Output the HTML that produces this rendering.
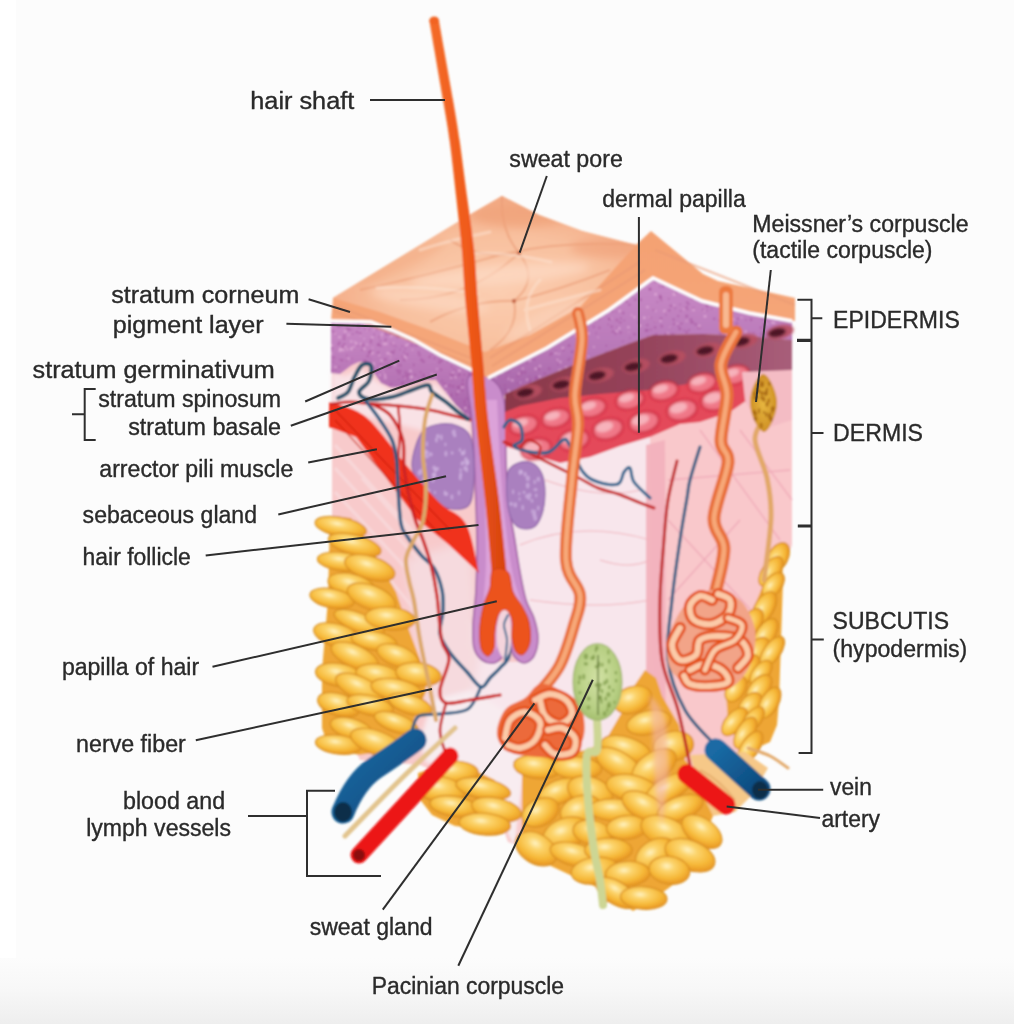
<!DOCTYPE html>
<html><head><meta charset="utf-8"><style>
html,body{margin:0;padding:0;background:#fcfcfc;width:1014px;height:1024px;overflow:hidden}
svg{display:block}
.t text{font-family:"Liberation Sans",sans-serif;font-size:23px;fill:#2a2a2a;stroke:#2a2a2a;stroke-width:0.35px}
.l line,.l path{stroke:#2e2e2e;stroke-width:2;fill:none}
</style></head><body>
<svg width="1014" height="1024" viewBox="0 0 1014 1024">
<defs>
<linearGradient id="bot" x1="0" y1="0" x2="0" y2="1"><stop offset="0" stop-color="#fcfcfc"/><stop offset="0.5" stop-color="#f7f7f7"/><stop offset="1" stop-color="#eeeeee"/></linearGradient>
</defs>
<rect x="0" y="0" width="1014" height="1024" fill="#fcfcfc"/>
<rect x="0" y="0" width="16" height="960" fill="#ffffff"/>
<rect x="0" y="958" width="1014" height="66" fill="url(#bot)"/>

<defs>
<filter id="soft" x="-5%" y="-5%" width="110%" height="110%"><feGaussianBlur stdDeviation="0.9"/></filter>
<filter id="blur1" x="-20%" y="-20%" width="140%" height="140%"><feGaussianBlur stdDeviation="1.3"/></filter>
<filter id="blur2" x="-20%" y="-20%" width="140%" height="140%"><feGaussianBlur stdDeviation="2"/></filter>
<filter id="blur4" x="-20%" y="-20%" width="140%" height="140%"><feGaussianBlur stdDeviation="4"/></filter>
<linearGradient id="peach" x1="0" y1="0" x2="0" y2="1">
 <stop offset="0" stop-color="#f4a070"/><stop offset="1" stop-color="#f5a87c"/>
</linearGradient>
<radialGradient id="topg" cx="0.55" cy="0.62" r="0.62">
 <stop offset="0" stop-color="#fbcdb0"/><stop offset="0.6" stop-color="#f8c09e"/><stop offset="1" stop-color="#f3a882"/>
</radialGradient>
<radialGradient id="lob" cx="0.42" cy="0.36" r="0.62">
 <stop offset="0" stop-color="#fff2c0"/><stop offset="0.3" stop-color="#fcd46c"/><stop offset="0.72" stop-color="#f6b838"/><stop offset="1" stop-color="#ea9a26"/>
</radialGradient>
<linearGradient id="hairg" x1="0" y1="0" x2="1" y2="0">
 <stop offset="0" stop-color="#f46c2a"/><stop offset="0.5" stop-color="#f05a1a"/><stop offset="1" stop-color="#d6420e"/>
</linearGradient>
<linearGradient id="veing" x1="0" y1="0" x2="1" y2="1">
 <stop offset="0" stop-color="#1a6aa4"/><stop offset="1" stop-color="#0c4a7e"/>
</linearGradient>
<radialGradient id="pacg" cx="0.5" cy="0.45" r="0.6">
 <stop offset="0" stop-color="#d2e2a4"/><stop offset="0.7" stop-color="#b6ce82"/><stop offset="1" stop-color="#9cb866"/>
</radialGradient>
<radialGradient id="meig" cx="0.5" cy="0.5" r="0.55">
 <stop offset="0" stop-color="#e8b840"/><stop offset="1" stop-color="#cc8c22"/>
</radialGradient>
<linearGradient id="purL" x1="0" y1="0" x2="0" y2="1"><stop offset="0" stop-color="#c98ac6"/><stop offset="0.5" stop-color="#ba78b8"/><stop offset="1" stop-color="#a662a8"/></linearGradient>
<linearGradient id="purR" x1="0" y1="0" x2="0" y2="1"><stop offset="0" stop-color="#c98ac6"/><stop offset="0.6" stop-color="#b878b8"/><stop offset="1" stop-color="#a462a6"/></linearGradient>
<linearGradient id="darkb" gradientUnits="userSpaceOnUse" x1="505" y1="0" x2="792" y2="0"><stop offset="0" stop-color="#8a3848"/><stop offset="0.5" stop-color="#96445c"/><stop offset="1" stop-color="#a85e7a"/></linearGradient>
<clipPath id="cPL"><path d="M331 321 L371 322 L392 330 L414 340 L440 355 L476 372 L472 420 L467 416 L455 404 L443 389 L436 380 L426 380 L406 386 L392 388 L381 383 L374 373 L368 362 L359 362 L352 365 L340 374 L331 373 Z"/></clipPath>
<clipPath id="cPR"><path d="M488 378 L547 348 L609 310 L653 278 L702 301 L749 313 L792 321 L792 340 L749 336 L703 334 L653 335 L625 345 L578 363 L532 382 L505 394 L503 400 Z"/></clipPath>
<clipPath id="cTop"><path d="M333 298 L471 214 L502 196 L539 215 L582 231 L636 245 L615 268 L580 307 L530 335 L485 352 L430 330 L380 312 Z"/></clipPath>
<clipPath id="cLF"><path d="M330 516 L351 518 L365 538 L376 557 L396 592 L410 633 L424 670 L426 692 L416 714 L410 730 L380 752 L359 755 L338 750 L326 740 L322 728 L322 700 L322 670 L328 600 Z"/></clipPath>
<clipPath id="cSF"><path d="M418 773 L440 766 L470 768 L495 780 L500 800 L499 822 L480 829 L455 826 L432 815 L418 797 Z"/></clipPath>
<clipPath id="cCF"><path d="M522 757 L540 752 L575 752 L586 750 L598 745 L604 743 L622 712 L634 686 L645 670 L656 678 L662 696 L679 725 L685 760 L700 778 L713 800 L713 816 L701 846 L678 881 L654 899 L633 911 L613 897 L605 905 L596 887 L585 882 L551 866 L532 856 L522 847 Z"/></clipPath>
<clipPath id="cRF"><path d="M778 548 L782 556 L783 580 L781 640 L779 700 L777 725 L770 742 L752 750 L740 742 L728 723 L726 692 L738 657 L752 612 L766 578 Z"/></clipPath>
</defs>
<g filter="url(#soft)">
<!-- dermis base -->
<path d="M332 318 L332 520 L330 700 L360 760 L420 765 L480 790 L500 820 L508 842 L520 846 L530 765 L600 748 L700 765 L740 760 L760 740 L770 600 L792 545 L792 298 L651 278 L480 377 Z" fill="#f8cacb"/>
<path d="M332 372 L345 376 L360 368 L375 380 L395 392 L436 384 L470 420 L470 445 L420 430 L380 420 L332 410 Z" fill="#f9e2e6" filter="url(#blur2)"/>
<!-- left face dermis streaks -->
<g stroke="#f9dadc" stroke-width="3" opacity="0.85">
<path d="M335 445 L425 545"/><path d="M335 468 L432 575"/><path d="M335 492 L440 605"/><path d="M362 478 L452 580"/><path d="M385 468 L458 548"/><path d="M340 520 L440 640"/>
</g>
<!-- center lighter dermis -->
<path d="M506 444 L530 452 L560 462 L590 455 L620 444 L650 435 L652 470 L650 660 L630 720 L604 748 L575 755 L524 760 L514 845 L505 825 L480 775 L455 735 L436 700 L445 640 L460 600 L474 630 L478 650 L490 662 L520 662 L537 645 L536 625 L524 600 L512 560 L507 500 Z" fill="#f8e6ec"/>
<path d="M405 560 L470 540 L476 600 L474 640 L480 660 L470 700 L440 720 L425 700 Z" fill="#f6dade" filter="url(#blur4)"/>
<path d="M432 700 L470 690 L520 720 L524 760 L514 845 L505 825 L480 790 L445 770 L425 762 L420 740 Z" fill="#f8ecf0" filter="url(#blur2)"/>
<g stroke="#f2c2ca" stroke-width="1.5" fill="none" opacity="0.9">
<path d="M520 545 Q580 520 650 540"/><path d="M530 600 Q600 610 650 600"/><path d="M545 480 Q600 500 640 490"/><path d="M600 560 Q630 570 650 560"/>
</g>
<!-- right block pink -->
<path d="M650 400 L700 390 L740 380 L792 372 L792 545 L780 545 L760 600 L730 660 L722 700 L735 750 L700 782 L668 790 L652 650 Z" fill="#f9c8cb"/>
<path d="M646 445 L665 440 L666 800 L646 800 Z" fill="#f2b2bd" opacity="0.95"/>
<g stroke="#efaab8" stroke-width="1.3" fill="none">
<path d="M668 480 L790 470"/><path d="M668 520 L760 620"/><path d="M700 430 L780 540"/><path d="M668 600 L740 520"/><path d="M740 430 L792 500"/>
</g>
<!-- fat -->
<path d="M330 516 L351 518 L365 538 L376 557 L396 592 L410 633 L424 670 L426 692 L416 714 L410 730 L380 752 L359 755 L338 750 L326 740 L322 728 L322 700 L322 670 L328 600 Z" fill="#eea634"/>
<g>
<ellipse cx="340.8" cy="527.0" rx="26.1" ry="9.5" transform="rotate(11 340.8 527.0)" fill="url(#lob)" stroke="#d88e24" stroke-width="1.2"/>
<ellipse cx="354.7" cy="545.0" rx="27.1" ry="9.9" transform="rotate(15 354.7 545.0)" fill="url(#lob)" stroke="#d88e24" stroke-width="1.2"/>
<ellipse cx="342.9" cy="561.7" rx="25.6" ry="9.2" transform="rotate(7 342.9 561.7)" fill="url(#lob)" stroke="#d88e24" stroke-width="1.2"/>
<ellipse cx="369.8" cy="567.9" rx="26.0" ry="11.5" transform="rotate(17 369.8 567.9)" fill="url(#lob)" stroke="#d88e24" stroke-width="1.2"/>
<ellipse cx="351.7" cy="585.4" rx="24.2" ry="11.3" transform="rotate(14 351.7 585.4)" fill="url(#lob)" stroke="#d88e24" stroke-width="1.2"/>
<ellipse cx="332.1" cy="598.4" rx="22.5" ry="9.5" transform="rotate(11 332.1 598.4)" fill="url(#lob)" stroke="#d88e24" stroke-width="1.2"/>
<ellipse cx="371.5" cy="597.6" rx="25.5" ry="12.0" transform="rotate(21 371.5 597.6)" fill="url(#lob)" stroke="#d88e24" stroke-width="1.2"/>
<ellipse cx="359.2" cy="622.7" rx="26.7" ry="9.4" transform="rotate(22 359.2 622.7)" fill="url(#lob)" stroke="#d88e24" stroke-width="1.2"/>
<ellipse cx="390.1" cy="618.6" rx="25.0" ry="11.4" transform="rotate(5 390.1 618.6)" fill="url(#lob)" stroke="#d88e24" stroke-width="1.2"/>
<ellipse cx="336.9" cy="635.3" rx="23.9" ry="11.2" transform="rotate(16 336.9 635.3)" fill="url(#lob)" stroke="#d88e24" stroke-width="1.2"/>
<ellipse cx="374.1" cy="640.9" rx="23.2" ry="9.4" transform="rotate(10 374.1 640.9)" fill="url(#lob)" stroke="#d88e24" stroke-width="1.2"/>
<ellipse cx="354.8" cy="656.4" rx="25.3" ry="11.3" transform="rotate(24 354.8 656.4)" fill="url(#lob)" stroke="#d88e24" stroke-width="1.2"/>
<ellipse cx="398.0" cy="656.3" rx="22.2" ry="10.5" transform="rotate(21 398.0 656.3)" fill="url(#lob)" stroke="#d88e24" stroke-width="1.2"/>
<ellipse cx="339.0" cy="675.0" rx="23.7" ry="11.5" transform="rotate(10 339.0 675.0)" fill="url(#lob)" stroke="#d88e24" stroke-width="1.2"/>
<ellipse cx="378.5" cy="675.3" rx="22.8" ry="10.9" transform="rotate(10 378.5 675.3)" fill="url(#lob)" stroke="#d88e24" stroke-width="1.2"/>
<ellipse cx="418.4" cy="674.2" rx="22.8" ry="11.5" transform="rotate(8 418.4 674.2)" fill="url(#lob)" stroke="#d88e24" stroke-width="1.2"/>
<ellipse cx="359.2" cy="687.9" rx="25.5" ry="11.2" transform="rotate(25 359.2 687.9)" fill="url(#lob)" stroke="#d88e24" stroke-width="1.2"/>
<ellipse cx="396.8" cy="689.9" rx="26.2" ry="10.7" transform="rotate(11 396.8 689.9)" fill="url(#lob)" stroke="#d88e24" stroke-width="1.2"/>
<ellipse cx="338.8" cy="704.7" rx="21.8" ry="11.1" transform="rotate(17 338.8 704.7)" fill="url(#lob)" stroke="#d88e24" stroke-width="1.2"/>
<ellipse cx="370.2" cy="705.4" rx="23.8" ry="9.7" transform="rotate(14 370.2 705.4)" fill="url(#lob)" stroke="#d88e24" stroke-width="1.2"/>
<ellipse cx="410.3" cy="704.6" rx="22.5" ry="9.5" transform="rotate(18 410.3 704.6)" fill="url(#lob)" stroke="#d88e24" stroke-width="1.2"/>
<ellipse cx="351.8" cy="728.9" rx="22.2" ry="10.2" transform="rotate(17 351.8 728.9)" fill="url(#lob)" stroke="#d88e24" stroke-width="1.2"/>
<ellipse cx="396.2" cy="723.0" rx="23.0" ry="9.1" transform="rotate(20 396.2 723.0)" fill="url(#lob)" stroke="#d88e24" stroke-width="1.2"/>
<ellipse cx="338.4" cy="744.6" rx="23.0" ry="9.4" transform="rotate(7 338.4 744.6)" fill="url(#lob)" stroke="#d88e24" stroke-width="1.2"/>
<ellipse cx="376.9" cy="742.9" rx="27.7" ry="11.9" transform="rotate(20 376.9 742.9)" fill="url(#lob)" stroke="#d88e24" stroke-width="1.2"/>
</g>
<path d="M418 773 L440 766 L470 768 L495 780 L500 800 L499 822 L480 829 L455 826 L432 815 L418 797 Z" fill="#eea634"/>
<g>
<ellipse cx="454.1" cy="772.1" rx="24.3" ry="11.1" transform="rotate(1 454.1 772.1)" fill="url(#lob)" stroke="#d88e24" stroke-width="1.2"/>
<ellipse cx="440.6" cy="789.6" rx="25.0" ry="12.8" transform="rotate(10 440.6 789.6)" fill="url(#lob)" stroke="#d88e24" stroke-width="1.2"/>
<ellipse cx="483.3" cy="788.7" rx="27.8" ry="10.1" transform="rotate(11 483.3 788.7)" fill="url(#lob)" stroke="#d88e24" stroke-width="1.2"/>
<ellipse cx="454.1" cy="806.4" rx="24.4" ry="10.2" transform="rotate(9 454.1 806.4)" fill="url(#lob)" stroke="#d88e24" stroke-width="1.2"/>
<ellipse cx="496.5" cy="809.5" rx="25.4" ry="11.3" transform="rotate(13 496.5 809.5)" fill="url(#lob)" stroke="#d88e24" stroke-width="1.2"/>
<ellipse cx="484.8" cy="824.1" rx="25.8" ry="10.9" transform="rotate(5 484.8 824.1)" fill="url(#lob)" stroke="#d88e24" stroke-width="1.2"/>
</g>
<path d="M522 757 L540 752 L575 752 L586 750 L598 745 L604 743 L622 712 L634 686 L645 670 L656 678 L662 696 L679 725 L685 760 L700 778 L713 800 L713 816 L701 846 L678 881 L654 899 L633 911 L613 897 L605 905 L596 887 L585 882 L551 866 L532 856 L522 847 Z" fill="#eea634"/>
<g>
<ellipse cx="632.9" cy="699.8" rx="19.4" ry="13.2" transform="rotate(-19 632.9 699.8)" fill="url(#lob)" stroke="#d88e24" stroke-width="1.2"/>
<ellipse cx="648.9" cy="722.6" rx="22.5" ry="11.9" transform="rotate(-12 648.9 722.6)" fill="url(#lob)" stroke="#d88e24" stroke-width="1.2"/>
<ellipse cx="626.2" cy="749.1" rx="25.7" ry="12.0" transform="rotate(17 626.2 749.1)" fill="url(#lob)" stroke="#d88e24" stroke-width="1.2"/>
<ellipse cx="673.4" cy="746.1" rx="20.4" ry="14.8" transform="rotate(-11 673.4 746.1)" fill="url(#lob)" stroke="#d88e24" stroke-width="1.2"/>
<ellipse cx="537.0" cy="767.0" rx="23.5" ry="11.5" transform="rotate(7 537.0 767.0)" fill="url(#lob)" stroke="#d88e24" stroke-width="1.2"/>
<ellipse cx="577.2" cy="768.2" rx="24.6" ry="11.3" transform="rotate(3 577.2 768.2)" fill="url(#lob)" stroke="#d88e24" stroke-width="1.2"/>
<ellipse cx="618.3" cy="764.0" rx="25.1" ry="12.5" transform="rotate(30 618.3 764.0)" fill="url(#lob)" stroke="#d88e24" stroke-width="1.2"/>
<ellipse cx="654.1" cy="766.6" rx="24.7" ry="14.1" transform="rotate(-33 654.1 766.6)" fill="url(#lob)" stroke="#d88e24" stroke-width="1.2"/>
<ellipse cx="559.7" cy="791.5" rx="22.1" ry="11.7" transform="rotate(-22 559.7 791.5)" fill="url(#lob)" stroke="#d88e24" stroke-width="1.2"/>
<ellipse cx="590.1" cy="791.9" rx="23.3" ry="14.8" transform="rotate(19 590.1 791.9)" fill="url(#lob)" stroke="#d88e24" stroke-width="1.2"/>
<ellipse cx="631.9" cy="788.2" rx="26.1" ry="13.2" transform="rotate(12 631.9 788.2)" fill="url(#lob)" stroke="#d88e24" stroke-width="1.2"/>
<ellipse cx="669.2" cy="788.3" rx="26.3" ry="11.3" transform="rotate(-28 669.2 788.3)" fill="url(#lob)" stroke="#d88e24" stroke-width="1.2"/>
<ellipse cx="540.4" cy="812.3" rx="19.4" ry="13.4" transform="rotate(-26 540.4 812.3)" fill="url(#lob)" stroke="#d88e24" stroke-width="1.2"/>
<ellipse cx="580.6" cy="810.2" rx="20.8" ry="14.3" transform="rotate(-20 580.6 810.2)" fill="url(#lob)" stroke="#d88e24" stroke-width="1.2"/>
<ellipse cx="614.9" cy="810.1" rx="26.0" ry="11.1" transform="rotate(3 614.9 810.1)" fill="url(#lob)" stroke="#d88e24" stroke-width="1.2"/>
<ellipse cx="644.4" cy="806.8" rx="24.4" ry="12.6" transform="rotate(28 644.4 806.8)" fill="url(#lob)" stroke="#d88e24" stroke-width="1.2"/>
<ellipse cx="680.2" cy="808.1" rx="23.9" ry="11.7" transform="rotate(-20 680.2 808.1)" fill="url(#lob)" stroke="#d88e24" stroke-width="1.2"/>
<ellipse cx="565.7" cy="833.2" rx="23.7" ry="14.9" transform="rotate(-21 565.7 833.2)" fill="url(#lob)" stroke="#d88e24" stroke-width="1.2"/>
<ellipse cx="592.5" cy="832.8" rx="19.8" ry="12.4" transform="rotate(13 592.5 832.8)" fill="url(#lob)" stroke="#d88e24" stroke-width="1.2"/>
<ellipse cx="627.0" cy="827.5" rx="20.5" ry="11.9" transform="rotate(-5 627.0 827.5)" fill="url(#lob)" stroke="#d88e24" stroke-width="1.2"/>
<ellipse cx="666.0" cy="832.5" rx="26.5" ry="14.9" transform="rotate(24 666.0 832.5)" fill="url(#lob)" stroke="#d88e24" stroke-width="1.2"/>
<ellipse cx="701.8" cy="831.6" rx="22.7" ry="13.1" transform="rotate(35 701.8 831.6)" fill="url(#lob)" stroke="#d88e24" stroke-width="1.2"/>
<ellipse cx="536.2" cy="848.7" rx="22.5" ry="14.8" transform="rotate(31 536.2 848.7)" fill="url(#lob)" stroke="#d88e24" stroke-width="1.2"/>
<ellipse cx="574.8" cy="854.7" rx="25.4" ry="11.2" transform="rotate(15 574.8 854.7)" fill="url(#lob)" stroke="#d88e24" stroke-width="1.2"/>
<ellipse cx="608.4" cy="850.1" rx="23.8" ry="11.9" transform="rotate(-0 608.4 850.1)" fill="url(#lob)" stroke="#d88e24" stroke-width="1.2"/>
<ellipse cx="655.3" cy="854.2" rx="21.4" ry="14.2" transform="rotate(-31 655.3 854.2)" fill="url(#lob)" stroke="#d88e24" stroke-width="1.2"/>
<ellipse cx="690.0" cy="855.2" rx="26.2" ry="14.7" transform="rotate(22 690.0 855.2)" fill="url(#lob)" stroke="#d88e24" stroke-width="1.2"/>
<ellipse cx="595.0" cy="870.7" rx="23.9" ry="13.3" transform="rotate(-7 595.0 870.7)" fill="url(#lob)" stroke="#d88e24" stroke-width="1.2"/>
<ellipse cx="627.7" cy="873.6" rx="22.2" ry="12.3" transform="rotate(-3 627.7 873.6)" fill="url(#lob)" stroke="#d88e24" stroke-width="1.2"/>
<ellipse cx="669.4" cy="870.3" rx="20.5" ry="13.8" transform="rotate(9 669.4 870.3)" fill="url(#lob)" stroke="#d88e24" stroke-width="1.2"/>
<ellipse cx="616.3" cy="892.8" rx="23.1" ry="11.4" transform="rotate(32 616.3 892.8)" fill="url(#lob)" stroke="#d88e24" stroke-width="1.2"/>
<ellipse cx="643.7" cy="897.9" rx="23.3" ry="11.3" transform="rotate(4 643.7 897.9)" fill="url(#lob)" stroke="#d88e24" stroke-width="1.2"/>
</g>
<path d="M650 695 Q660 705 666 720 L669 770 Q666 800 662 825 Q654 800 654 760 Z" fill="#f4b8b8" opacity="0.55" filter="url(#blur2)"/>
<path d="M778 548 L782 556 L783 580 L781 640 L779 700 L777 725 L770 742 L752 750 L740 742 L728 723 L726 692 L738 657 L752 612 L766 578 Z" fill="#eea634"/>
<g>
<ellipse cx="778.2" cy="557.3" rx="15.8" ry="9.7" transform="rotate(-62 778.2 557.3)" fill="url(#lob)" stroke="#d88e24" stroke-width="1.2"/>
<ellipse cx="771.0" cy="571.5" rx="17.1" ry="8.8" transform="rotate(-55 771.0 571.5)" fill="url(#lob)" stroke="#d88e24" stroke-width="1.2"/>
<ellipse cx="773.2" cy="585.1" rx="14.5" ry="8.5" transform="rotate(-52 773.2 585.1)" fill="url(#lob)" stroke="#d88e24" stroke-width="1.2"/>
<ellipse cx="764.4" cy="607.9" rx="17.9" ry="9.6" transform="rotate(-59 764.4 607.9)" fill="url(#lob)" stroke="#d88e24" stroke-width="1.2"/>
<ellipse cx="752.5" cy="621.8" rx="14.4" ry="9.2" transform="rotate(-58 752.5 621.8)" fill="url(#lob)" stroke="#d88e24" stroke-width="1.2"/>
<ellipse cx="765.9" cy="634.0" rx="17.5" ry="9.2" transform="rotate(-57 765.9 634.0)" fill="url(#lob)" stroke="#d88e24" stroke-width="1.2"/>
<ellipse cx="757.0" cy="651.6" rx="16.2" ry="9.7" transform="rotate(-52 757.0 651.6)" fill="url(#lob)" stroke="#d88e24" stroke-width="1.2"/>
<ellipse cx="772.2" cy="651.6" rx="17.7" ry="8.4" transform="rotate(-55 772.2 651.6)" fill="url(#lob)" stroke="#d88e24" stroke-width="1.2"/>
<ellipse cx="746.7" cy="670.3" rx="17.9" ry="9.3" transform="rotate(-53 746.7 670.3)" fill="url(#lob)" stroke="#d88e24" stroke-width="1.2"/>
<ellipse cx="761.0" cy="672.9" rx="14.6" ry="8.1" transform="rotate(-51 761.0 672.9)" fill="url(#lob)" stroke="#d88e24" stroke-width="1.2"/>
<ellipse cx="736.0" cy="689.0" rx="14.3" ry="9.1" transform="rotate(-56 736.0 689.0)" fill="url(#lob)" stroke="#d88e24" stroke-width="1.2"/>
<ellipse cx="759.1" cy="689.1" rx="16.9" ry="9.4" transform="rotate(-51 759.1 689.1)" fill="url(#lob)" stroke="#d88e24" stroke-width="1.2"/>
<ellipse cx="750.3" cy="705.0" rx="14.3" ry="9.3" transform="rotate(-49 750.3 705.0)" fill="url(#lob)" stroke="#d88e24" stroke-width="1.2"/>
<ellipse cx="769.6" cy="702.6" rx="16.9" ry="8.8" transform="rotate(-61 769.6 702.6)" fill="url(#lob)" stroke="#d88e24" stroke-width="1.2"/>
<ellipse cx="734.6" cy="721.6" rx="16.8" ry="9.0" transform="rotate(-49 734.6 721.6)" fill="url(#lob)" stroke="#d88e24" stroke-width="1.2"/>
<ellipse cx="753.2" cy="719.6" rx="15.0" ry="8.0" transform="rotate(-52 753.2 719.6)" fill="url(#lob)" stroke="#d88e24" stroke-width="1.2"/>
<ellipse cx="745.4" cy="732.9" rx="17.5" ry="8.8" transform="rotate(-60 745.4 732.9)" fill="url(#lob)" stroke="#d88e24" stroke-width="1.2"/>
<ellipse cx="750.5" cy="746.9" rx="17.9" ry="8.9" transform="rotate(-56 750.5 746.9)" fill="url(#lob)" stroke="#d88e24" stroke-width="1.2"/>
</g>
<path d="M690 755 L745 752 L768 768 L752 795 L735 812 L713 816 L700 790 Z" fill="#f6c888"/>
<path d="M700 770 Q720 780 735 800" stroke="#e8b070" stroke-width="2" fill="none"/>
<path d="M748.0 748.0 C751.7 749.3 763.3 752.7 770.0 756.0 C776.7 759.3 785.0 766.0 788.0 768.0" fill="none" stroke="#e2a868" stroke-width="3" stroke-linecap="round" stroke-linejoin="round" />
<!-- purple epidermis left -->
<path d="M331 321 L371 322 L392 330 L414 340 L440 355 L476 372 L472 420 L467 416 L455 404 L443 389 L436 380 L426 380 L406 386 L392 388 L381 383 L374 373 L368 362 L359 362 L352 365 L340 374 L331 373 Z" fill="url(#purL)"/>
<g clip-path="url(#cPL)"><circle cx="403.7" cy="376.8" r="1.4" fill="#a04c98" opacity="0.45"/><circle cx="378.1" cy="352.7" r="1.4" fill="#a04c98" opacity="0.45"/><circle cx="402.5" cy="356.7" r="1.1" fill="#a04c98" opacity="0.45"/><circle cx="379.5" cy="337.1" r="1.3" fill="#a04c98" opacity="0.45"/><circle cx="462.4" cy="390.3" r="1.3" fill="#a04c98" opacity="0.45"/><circle cx="380.6" cy="364.2" r="0.9" fill="#a04c98" opacity="0.45"/><circle cx="438.1" cy="350.2" r="1.0" fill="#a04c98" opacity="0.45"/><circle cx="475.2" cy="354.7" r="1.6" fill="#a04c98" opacity="0.45"/><circle cx="421.8" cy="397.6" r="1.3" fill="#a04c98" opacity="0.45"/><circle cx="357.3" cy="392.7" r="1.0" fill="#a04c98" opacity="0.45"/><circle cx="390.9" cy="333.3" r="0.8" fill="#a04c98" opacity="0.45"/><circle cx="385.0" cy="321.4" r="1.1" fill="#a04c98" opacity="0.45"/><circle cx="456.0" cy="421.8" r="1.1" fill="#a04c98" opacity="0.45"/><circle cx="346.9" cy="355.3" r="0.9" fill="#a04c98" opacity="0.45"/><circle cx="363.0" cy="383.4" r="1.3" fill="#a04c98" opacity="0.45"/><circle cx="335.6" cy="369.7" r="1.1" fill="#a04c98" opacity="0.45"/><circle cx="389.5" cy="333.8" r="1.1" fill="#a04c98" opacity="0.45"/><circle cx="346.0" cy="390.0" r="1.3" fill="#a04c98" opacity="0.45"/><circle cx="423.4" cy="361.6" r="1.6" fill="#a04c98" opacity="0.45"/><circle cx="385.2" cy="340.8" r="1.1" fill="#a04c98" opacity="0.45"/><circle cx="465.2" cy="336.1" r="1.4" fill="#a04c98" opacity="0.45"/><circle cx="468.9" cy="406.9" r="1.2" fill="#a04c98" opacity="0.45"/><circle cx="397.2" cy="408.9" r="1.4" fill="#a04c98" opacity="0.45"/><circle cx="449.6" cy="338.2" r="1.3" fill="#a04c98" opacity="0.45"/><circle cx="439.5" cy="344.3" r="1.0" fill="#a04c98" opacity="0.45"/><circle cx="454.7" cy="378.0" r="1.1" fill="#a04c98" opacity="0.45"/><circle cx="402.4" cy="346.2" r="1.0" fill="#a04c98" opacity="0.45"/><circle cx="346.7" cy="361.0" r="0.9" fill="#a04c98" opacity="0.45"/><circle cx="462.8" cy="417.5" r="1.3" fill="#a04c98" opacity="0.45"/><circle cx="344.3" cy="381.1" r="0.9" fill="#a04c98" opacity="0.45"/><circle cx="385.6" cy="333.1" r="1.2" fill="#a04c98" opacity="0.45"/><circle cx="342.1" cy="348.5" r="1.0" fill="#a04c98" opacity="0.45"/><circle cx="399.5" cy="414.9" r="1.3" fill="#a04c98" opacity="0.45"/><circle cx="446.0" cy="394.0" r="1.2" fill="#a04c98" opacity="0.45"/><circle cx="341.0" cy="325.9" r="0.9" fill="#a04c98" opacity="0.45"/><circle cx="406.9" cy="354.6" r="1.5" fill="#a04c98" opacity="0.45"/><circle cx="360.3" cy="333.4" r="1.3" fill="#a04c98" opacity="0.45"/><circle cx="420.2" cy="325.4" r="1.1" fill="#a04c98" opacity="0.45"/><circle cx="396.3" cy="403.9" r="1.4" fill="#a04c98" opacity="0.45"/><circle cx="459.4" cy="374.7" r="1.6" fill="#a04c98" opacity="0.45"/><circle cx="400.1" cy="349.5" r="0.9" fill="#a04c98" opacity="0.45"/><circle cx="453.3" cy="386.3" r="1.3" fill="#a04c98" opacity="0.45"/><circle cx="474.8" cy="384.5" r="1.0" fill="#a04c98" opacity="0.45"/><circle cx="433.2" cy="414.5" r="0.9" fill="#a04c98" opacity="0.45"/><circle cx="469.7" cy="362.5" r="0.9" fill="#a04c98" opacity="0.45"/><circle cx="405.7" cy="399.7" r="1.2" fill="#a04c98" opacity="0.45"/><circle cx="370.6" cy="398.3" r="0.9" fill="#a04c98" opacity="0.45"/><circle cx="429.7" cy="356.9" r="1.3" fill="#a04c98" opacity="0.45"/><circle cx="405.5" cy="348.6" r="1.0" fill="#a04c98" opacity="0.45"/><circle cx="451.6" cy="366.6" r="1.0" fill="#a04c98" opacity="0.45"/><circle cx="418.1" cy="398.3" r="0.9" fill="#a04c98" opacity="0.45"/><circle cx="398.4" cy="335.5" r="1.4" fill="#a04c98" opacity="0.45"/><circle cx="337.7" cy="404.9" r="1.2" fill="#a04c98" opacity="0.45"/><circle cx="406.9" cy="374.8" r="1.0" fill="#a04c98" opacity="0.45"/><circle cx="397.5" cy="337.4" r="1.1" fill="#a04c98" opacity="0.45"/><circle cx="418.6" cy="382.3" r="1.1" fill="#a04c98" opacity="0.45"/><circle cx="421.6" cy="400.0" r="1.4" fill="#a04c98" opacity="0.45"/><circle cx="331.5" cy="371.1" r="0.9" fill="#a04c98" opacity="0.45"/><circle cx="451.4" cy="379.4" r="1.2" fill="#a04c98" opacity="0.45"/><circle cx="420.6" cy="372.1" r="1.0" fill="#a04c98" opacity="0.45"/><circle cx="465.4" cy="325.8" r="0.8" fill="#a04c98" opacity="0.45"/><circle cx="374.2" cy="334.5" r="1.1" fill="#a04c98" opacity="0.45"/><circle cx="421.5" cy="359.8" r="1.6" fill="#a04c98" opacity="0.45"/><circle cx="379.0" cy="415.9" r="1.6" fill="#a04c98" opacity="0.45"/><circle cx="411.6" cy="402.2" r="0.9" fill="#a04c98" opacity="0.45"/><circle cx="468.2" cy="365.1" r="1.1" fill="#a04c98" opacity="0.45"/><circle cx="466.5" cy="360.9" r="0.9" fill="#a04c98" opacity="0.45"/><circle cx="335.0" cy="401.5" r="0.9" fill="#a04c98" opacity="0.45"/><circle cx="424.5" cy="328.9" r="1.5" fill="#a04c98" opacity="0.45"/><circle cx="473.5" cy="357.5" r="1.4" fill="#a04c98" opacity="0.45"/><circle cx="463.0" cy="343.8" r="1.2" fill="#a04c98" opacity="0.45"/><circle cx="477.7" cy="417.1" r="1.3" fill="#a04c98" opacity="0.45"/><circle cx="411.7" cy="322.1" r="1.5" fill="#a04c98" opacity="0.45"/><circle cx="470.1" cy="377.6" r="1.0" fill="#a04c98" opacity="0.45"/><circle cx="349.6" cy="384.8" r="1.4" fill="#a04c98" opacity="0.45"/><circle cx="418.9" cy="405.7" r="0.8" fill="#a04c98" opacity="0.45"/><circle cx="331.9" cy="330.5" r="1.0" fill="#a04c98" opacity="0.45"/><circle cx="338.2" cy="344.6" r="1.0" fill="#a04c98" opacity="0.45"/><circle cx="450.5" cy="373.8" r="1.0" fill="#a04c98" opacity="0.45"/><circle cx="405.5" cy="335.8" r="1.6" fill="#a04c98" opacity="0.45"/><circle cx="344.3" cy="344.3" r="1.3" fill="#a04c98" opacity="0.45"/><circle cx="462.4" cy="386.9" r="0.9" fill="#a04c98" opacity="0.45"/><circle cx="420.5" cy="395.4" r="1.5" fill="#a04c98" opacity="0.45"/><circle cx="424.8" cy="345.5" r="1.5" fill="#a04c98" opacity="0.45"/><circle cx="433.8" cy="411.0" r="1.0" fill="#a04c98" opacity="0.45"/><circle cx="454.0" cy="369.0" r="1.0" fill="#a04c98" opacity="0.45"/><circle cx="368.4" cy="330.1" r="1.5" fill="#a04c98" opacity="0.45"/><circle cx="352.0" cy="384.6" r="1.0" fill="#a04c98" opacity="0.45"/><circle cx="367.8" cy="355.9" r="1.5" fill="#a04c98" opacity="0.45"/><circle cx="340.7" cy="359.8" r="1.1" fill="#a04c98" opacity="0.45"/><circle cx="402.4" cy="383.6" r="1.5" fill="#a04c98" opacity="0.45"/><circle cx="424.4" cy="407.0" r="1.5" fill="#a04c98" opacity="0.45"/><circle cx="450.6" cy="322.6" r="0.9" fill="#a04c98" opacity="0.45"/><circle cx="408.0" cy="340.1" r="1.1" fill="#a04c98" opacity="0.45"/><circle cx="408.9" cy="374.2" r="1.4" fill="#a04c98" opacity="0.45"/><circle cx="444.6" cy="342.2" r="1.3" fill="#a04c98" opacity="0.45"/><circle cx="400.5" cy="365.3" r="1.4" fill="#a04c98" opacity="0.45"/><circle cx="436.0" cy="392.1" r="1.1" fill="#a04c98" opacity="0.45"/><circle cx="343.3" cy="379.6" r="1.0" fill="#a04c98" opacity="0.45"/><circle cx="376.6" cy="330.2" r="0.9" fill="#a04c98" opacity="0.45"/><circle cx="396.3" cy="418.0" r="1.3" fill="#a04c98" opacity="0.45"/><circle cx="368.3" cy="417.0" r="1.0" fill="#a04c98" opacity="0.45"/><circle cx="430.3" cy="327.3" r="1.6" fill="#a04c98" opacity="0.45"/><circle cx="464.9" cy="405.4" r="1.1" fill="#a04c98" opacity="0.45"/><circle cx="397.5" cy="370.6" r="1.5" fill="#a04c98" opacity="0.45"/><circle cx="416.6" cy="345.3" r="1.5" fill="#a04c98" opacity="0.45"/><circle cx="393.0" cy="394.4" r="1.6" fill="#a04c98" opacity="0.45"/><circle cx="444.7" cy="332.7" r="1.5" fill="#a04c98" opacity="0.45"/><circle cx="397.4" cy="421.7" r="1.1" fill="#a04c98" opacity="0.45"/><circle cx="357.0" cy="332.0" r="1.6" fill="#a04c98" opacity="0.45"/><circle cx="394.2" cy="321.4" r="1.2" fill="#a04c98" opacity="0.45"/><circle cx="472.0" cy="341.5" r="1.5" fill="#a04c98" opacity="0.45"/><circle cx="477.5" cy="340.8" r="1.0" fill="#a04c98" opacity="0.45"/><circle cx="352.4" cy="330.1" r="0.8" fill="#a04c98" opacity="0.45"/><circle cx="363.0" cy="401.6" r="1.1" fill="#a04c98" opacity="0.45"/><circle cx="391.5" cy="383.6" r="0.9" fill="#a04c98" opacity="0.45"/><circle cx="445.2" cy="345.6" r="1.2" fill="#a04c98" opacity="0.45"/><circle cx="363.1" cy="346.4" r="0.9" fill="#a04c98" opacity="0.45"/><circle cx="388.7" cy="364.3" r="0.9" fill="#a04c98" opacity="0.45"/><circle cx="453.4" cy="354.0" r="1.3" fill="#a04c98" opacity="0.45"/><circle cx="358.9" cy="324.3" r="1.6" fill="#a04c98" opacity="0.45"/><circle cx="366.2" cy="321.2" r="1.5" fill="#a04c98" opacity="0.45"/><circle cx="393.6" cy="320.6" r="1.3" fill="#a04c98" opacity="0.45"/><circle cx="380.7" cy="418.8" r="1.5" fill="#a04c98" opacity="0.45"/><circle cx="428.3" cy="391.6" r="1.1" fill="#a04c98" opacity="0.45"/><circle cx="465.9" cy="415.1" r="1.0" fill="#a04c98" opacity="0.45"/><circle cx="338.6" cy="326.5" r="1.2" fill="#a04c98" opacity="0.45"/><circle cx="421.9" cy="402.2" r="1.5" fill="#a04c98" opacity="0.45"/><circle cx="387.3" cy="365.3" r="1.1" fill="#a04c98" opacity="0.45"/><circle cx="464.2" cy="342.3" r="0.9" fill="#a04c98" opacity="0.45"/><circle cx="359.9" cy="414.1" r="0.9" fill="#a04c98" opacity="0.45"/><circle cx="477.2" cy="345.4" r="1.1" fill="#a04c98" opacity="0.45"/><circle cx="357.6" cy="419.3" r="0.9" fill="#a04c98" opacity="0.45"/><circle cx="354.7" cy="390.6" r="1.2" fill="#a04c98" opacity="0.45"/><circle cx="388.5" cy="366.4" r="1.5" fill="#a04c98" opacity="0.45"/><circle cx="353.0" cy="376.7" r="1.0" fill="#a04c98" opacity="0.45"/><circle cx="404.1" cy="359.4" r="1.1" fill="#a04c98" opacity="0.45"/><circle cx="376.9" cy="321.3" r="1.0" fill="#a04c98" opacity="0.45"/><circle cx="438.7" cy="359.4" r="0.9" fill="#a04c98" opacity="0.45"/><circle cx="346.7" cy="393.8" r="1.0" fill="#a04c98" opacity="0.45"/><circle cx="469.4" cy="373.4" r="0.9" fill="#a04c98" opacity="0.45"/><circle cx="378.0" cy="383.4" r="1.6" fill="#a04c98" opacity="0.45"/><circle cx="465.8" cy="343.7" r="1.3" fill="#a04c98" opacity="0.45"/><circle cx="415.4" cy="409.9" r="0.9" fill="#a04c98" opacity="0.45"/><circle cx="406.9" cy="379.1" r="1.2" fill="#a04c98" opacity="0.45"/><circle cx="400.4" cy="321.9" r="0.9" fill="#a04c98" opacity="0.45"/><circle cx="471.2" cy="351.3" r="1.6" fill="#a04c98" opacity="0.45"/><circle cx="332.7" cy="320.5" r="1.5" fill="#a04c98" opacity="0.45"/><circle cx="374.4" cy="407.1" r="0.8" fill="#a04c98" opacity="0.45"/><circle cx="420.4" cy="405.1" r="1.0" fill="#a04c98" opacity="0.45"/><circle cx="456.8" cy="394.0" r="1.5" fill="#a04c98" opacity="0.45"/><circle cx="385.9" cy="339.1" r="1.1" fill="#a04c98" opacity="0.45"/><circle cx="378.2" cy="344.5" r="1.5" fill="#a04c98" opacity="0.45"/><circle cx="356.9" cy="384.5" r="1.2" fill="#a04c98" opacity="0.45"/><circle cx="400.2" cy="370.7" r="1.2" fill="#a04c98" opacity="0.45"/><circle cx="470.2" cy="388.7" r="1.4" fill="#a04c98" opacity="0.45"/><circle cx="367.6" cy="372.0" r="1.4" fill="#a04c98" opacity="0.45"/><circle cx="432.8" cy="403.0" r="0.8" fill="#a04c98" opacity="0.45"/><circle cx="345.4" cy="402.6" r="1.1" fill="#a04c98" opacity="0.45"/><circle cx="363.4" cy="364.7" r="0.9" fill="#a04c98" opacity="0.45"/><circle cx="439.4" cy="362.2" r="1.5" fill="#a04c98" opacity="0.45"/><circle cx="400.0" cy="421.4" r="0.8" fill="#a04c98" opacity="0.45"/><circle cx="457.4" cy="330.2" r="1.2" fill="#a04c98" opacity="0.45"/><circle cx="365.7" cy="361.3" r="1.5" fill="#a04c98" opacity="0.45"/><circle cx="364.4" cy="360.8" r="1.2" fill="#a04c98" opacity="0.45"/><circle cx="346.3" cy="373.0" r="1.0" fill="#a04c98" opacity="0.45"/><circle cx="474.9" cy="412.6" r="1.2" fill="#a04c98" opacity="0.45"/><circle cx="468.1" cy="328.8" r="0.8" fill="#a04c98" opacity="0.45"/><circle cx="391.1" cy="411.5" r="1.5" fill="#a04c98" opacity="0.45"/><circle cx="475.7" cy="402.6" r="1.1" fill="#a04c98" opacity="0.45"/><circle cx="444.1" cy="397.1" r="1.2" fill="#a04c98" opacity="0.45"/><circle cx="451.3" cy="395.2" r="0.9" fill="#a04c98" opacity="0.45"/><circle cx="339.3" cy="343.0" r="1.4" fill="#a04c98" opacity="0.45"/><circle cx="391.8" cy="352.3" r="1.4" fill="#a04c98" opacity="0.45"/><circle cx="358.0" cy="345.5" r="0.9" fill="#a04c98" opacity="0.45"/><circle cx="464.2" cy="344.9" r="1.1" fill="#a04c98" opacity="0.45"/><circle cx="412.4" cy="338.8" r="1.5" fill="#a04c98" opacity="0.45"/><circle cx="448.8" cy="330.5" r="0.9" fill="#a04c98" opacity="0.45"/><circle cx="455.0" cy="341.7" r="1.1" fill="#a04c98" opacity="0.45"/><circle cx="455.2" cy="350.4" r="1.2" fill="#a04c98" opacity="0.45"/><circle cx="393.3" cy="393.2" r="1.4" fill="#a04c98" opacity="0.45"/><circle cx="449.2" cy="342.5" r="1.3" fill="#a04c98" opacity="0.45"/><circle cx="358.1" cy="419.0" r="1.0" fill="#a04c98" opacity="0.45"/><circle cx="411.3" cy="344.9" r="1.3" fill="#a04c98" opacity="0.45"/><circle cx="375.4" cy="325.5" r="0.8" fill="#a04c98" opacity="0.45"/><circle cx="435.7" cy="343.9" r="0.9" fill="#a04c98" opacity="0.45"/><circle cx="435.2" cy="403.6" r="1.0" fill="#a04c98" opacity="0.45"/><circle cx="413.7" cy="411.8" r="1.5" fill="#a04c98" opacity="0.45"/><circle cx="399.7" cy="390.5" r="1.3" fill="#a04c98" opacity="0.45"/><circle cx="443.7" cy="415.7" r="1.0" fill="#a04c98" opacity="0.45"/><circle cx="388.3" cy="416.8" r="1.0" fill="#a04c98" opacity="0.45"/><circle cx="373.8" cy="404.4" r="1.1" fill="#a04c98" opacity="0.45"/><circle cx="418.0" cy="327.5" r="1.6" fill="#a04c98" opacity="0.45"/><circle cx="418.4" cy="327.5" r="0.9" fill="#a04c98" opacity="0.45"/><circle cx="345.4" cy="375.8" r="1.4" fill="#a04c98" opacity="0.45"/><circle cx="416.7" cy="396.9" r="1.5" fill="#a04c98" opacity="0.45"/><circle cx="405.7" cy="372.4" r="1.3" fill="#a04c98" opacity="0.45"/><circle cx="434.5" cy="409.5" r="1.3" fill="#a04c98" opacity="0.45"/><circle cx="390.7" cy="386.2" r="1.4" fill="#a04c98" opacity="0.45"/><circle cx="418.7" cy="352.3" r="1.2" fill="#a04c98" opacity="0.45"/><circle cx="409.6" cy="340.0" r="1.5" fill="#a04c98" opacity="0.45"/><circle cx="339.3" cy="408.8" r="1.0" fill="#a04c98" opacity="0.45"/><circle cx="376.9" cy="411.8" r="1.1" fill="#a04c98" opacity="0.45"/><circle cx="418.6" cy="325.2" r="1.2" fill="#a04c98" opacity="0.45"/><circle cx="415.0" cy="374.7" r="1.1" fill="#a04c98" opacity="0.45"/><circle cx="338.3" cy="325.8" r="0.9" fill="#a04c98" opacity="0.45"/><circle cx="441.4" cy="360.7" r="1.5" fill="#a04c98" opacity="0.45"/><circle cx="441.0" cy="369.8" r="1.3" fill="#a04c98" opacity="0.45"/><circle cx="437.7" cy="408.5" r="0.9" fill="#a04c98" opacity="0.45"/><circle cx="395.1" cy="330.0" r="1.4" fill="#a04c98" opacity="0.45"/><circle cx="400.7" cy="403.3" r="0.9" fill="#a04c98" opacity="0.45"/><circle cx="455.9" cy="332.3" r="0.9" fill="#a04c98" opacity="0.45"/><circle cx="371.0" cy="351.7" r="0.9" fill="#a04c98" opacity="0.45"/><circle cx="454.6" cy="418.8" r="1.3" fill="#a04c98" opacity="0.45"/><circle cx="404.3" cy="360.8" r="1.0" fill="#a04c98" opacity="0.45"/><circle cx="399.2" cy="373.2" r="1.4" fill="#a04c98" opacity="0.45"/><circle cx="385.3" cy="359.2" r="1.5" fill="#a04c98" opacity="0.45"/><circle cx="434.9" cy="328.2" r="1.2" fill="#a04c98" opacity="0.45"/><circle cx="380.6" cy="345.8" r="1.2" fill="#a04c98" opacity="0.45"/><circle cx="365.0" cy="374.2" r="0.9" fill="#a04c98" opacity="0.45"/><circle cx="371.0" cy="339.7" r="1.3" fill="#a04c98" opacity="0.45"/><circle cx="362.6" cy="405.5" r="1.0" fill="#a04c98" opacity="0.45"/><circle cx="347.3" cy="329.0" r="1.5" fill="#a04c98" opacity="0.45"/><circle cx="413.8" cy="364.2" r="0.9" fill="#a04c98" opacity="0.45"/><circle cx="433.0" cy="340.8" r="1.5" fill="#a04c98" opacity="0.45"/><circle cx="433.3" cy="381.4" r="1.1" fill="#a04c98" opacity="0.45"/><circle cx="451.7" cy="374.6" r="1.1" fill="#a04c98" opacity="0.45"/><circle cx="423.5" cy="391.3" r="1.5" fill="#a04c98" opacity="0.45"/><circle cx="428.3" cy="390.8" r="1.0" fill="#a04c98" opacity="0.45"/><circle cx="456.8" cy="376.6" r="1.0" fill="#a04c98" opacity="0.45"/><circle cx="462.1" cy="336.2" r="1.3" fill="#a04c98" opacity="0.45"/><circle cx="471.9" cy="417.7" r="1.2" fill="#a04c98" opacity="0.45"/><circle cx="466.7" cy="413.2" r="1.1" fill="#a04c98" opacity="0.45"/><circle cx="349.6" cy="329.4" r="1.5" fill="#a04c98" opacity="0.45"/><circle cx="331.9" cy="369.8" r="1.1" fill="#a04c98" opacity="0.45"/><circle cx="353.4" cy="349.0" r="0.8" fill="#a04c98" opacity="0.45"/><circle cx="371.7" cy="384.6" r="1.0" fill="#a04c98" opacity="0.45"/><circle cx="395.9" cy="335.7" r="1.4" fill="#a04c98" opacity="0.45"/><circle cx="410.7" cy="400.4" r="1.1" fill="#a04c98" opacity="0.45"/><circle cx="348.9" cy="417.0" r="0.9" fill="#a04c98" opacity="0.45"/><circle cx="412.9" cy="395.1" r="1.3" fill="#a04c98" opacity="0.45"/><circle cx="333.6" cy="419.5" r="1.5" fill="#a04c98" opacity="0.45"/><circle cx="353.9" cy="368.5" r="1.4" fill="#a04c98" opacity="0.45"/><circle cx="346.8" cy="348.5" r="1.5" fill="#a04c98" opacity="0.45"/><circle cx="402.7" cy="401.9" r="1.3" fill="#a04c98" opacity="0.45"/><circle cx="432.5" cy="346.4" r="1.4" fill="#a04c98" opacity="0.45"/><circle cx="331.7" cy="347.9" r="1.6" fill="#a04c98" opacity="0.45"/><circle cx="455.5" cy="329.3" r="1.3" fill="#a04c98" opacity="0.45"/><circle cx="475.4" cy="406.4" r="1.5" fill="#a04c98" opacity="0.45"/><circle cx="353.8" cy="398.7" r="1.3" fill="#a04c98" opacity="0.45"/><circle cx="342.9" cy="346.7" r="1.5" fill="#a04c98" opacity="0.45"/><circle cx="352.3" cy="375.9" r="1.0" fill="#a04c98" opacity="0.45"/><circle cx="475.5" cy="396.1" r="1.2" fill="#a04c98" opacity="0.45"/><circle cx="382.9" cy="404.7" r="1.5" fill="#a04c98" opacity="0.45"/><circle cx="451.2" cy="395.0" r="1.2" fill="#a04c98" opacity="0.45"/><circle cx="413.5" cy="345.6" r="1.0" fill="#a04c98" opacity="0.45"/><circle cx="399.0" cy="379.7" r="0.8" fill="#a04c98" opacity="0.45"/><circle cx="396.9" cy="360.6" r="1.5" fill="#a04c98" opacity="0.45"/><circle cx="375.5" cy="394.9" r="1.5" fill="#a04c98" opacity="0.45"/><circle cx="462.5" cy="384.3" r="1.6" fill="#a04c98" opacity="0.45"/><circle cx="476.5" cy="329.2" r="1.0" fill="#a04c98" opacity="0.45"/><circle cx="442.1" cy="381.0" r="1.1" fill="#a04c98" opacity="0.45"/><circle cx="379.9" cy="408.2" r="0.9" fill="#a04c98" opacity="0.45"/><circle cx="477.8" cy="330.8" r="1.2" fill="#a04c98" opacity="0.45"/><circle cx="416.3" cy="421.9" r="1.1" fill="#a04c98" opacity="0.45"/><circle cx="420.8" cy="344.8" r="1.2" fill="#a04c98" opacity="0.45"/><circle cx="358.9" cy="326.6" r="1.3" fill="#a04c98" opacity="0.45"/><circle cx="452.6" cy="375.1" r="1.6" fill="#a04c98" opacity="0.45"/><circle cx="357.9" cy="395.2" r="1.2" fill="#a04c98" opacity="0.45"/><circle cx="426.3" cy="376.8" r="1.2" fill="#a04c98" opacity="0.45"/><circle cx="440.2" cy="400.2" r="1.3" fill="#a04c98" opacity="0.45"/><circle cx="361.1" cy="414.7" r="0.9" fill="#a04c98" opacity="0.45"/><circle cx="346.4" cy="373.0" r="1.1" fill="#a04c98" opacity="0.45"/><circle cx="424.7" cy="326.2" r="1.3" fill="#a04c98" opacity="0.45"/><circle cx="333.7" cy="357.7" r="1.4" fill="#a04c98" opacity="0.45"/><circle cx="369.1" cy="352.7" r="1.3" fill="#a04c98" opacity="0.45"/><circle cx="356.9" cy="378.6" r="0.9" fill="#a04c98" opacity="0.45"/><circle cx="434.6" cy="358.1" r="1.3" fill="#a04c98" opacity="0.45"/><circle cx="462.8" cy="380.3" r="1.3" fill="#a04c98" opacity="0.45"/><circle cx="437.1" cy="420.3" r="0.9" fill="#a04c98" opacity="0.45"/><circle cx="365.0" cy="388.1" r="1.4" fill="#a04c98" opacity="0.45"/><circle cx="333.2" cy="361.7" r="1.0" fill="#a04c98" opacity="0.45"/><circle cx="352.6" cy="376.9" r="1.0" fill="#a04c98" opacity="0.45"/><circle cx="376.9" cy="413.6" r="1.1" fill="#a04c98" opacity="0.45"/><circle cx="414.4" cy="419.1" r="1.4" fill="#a04c98" opacity="0.45"/><circle cx="380.0" cy="341.1" r="1.0" fill="#a04c98" opacity="0.45"/><circle cx="442.1" cy="335.9" r="1.4" fill="#a04c98" opacity="0.45"/><circle cx="444.4" cy="323.2" r="1.5" fill="#a04c98" opacity="0.45"/><circle cx="431.6" cy="328.2" r="0.9" fill="#a04c98" opacity="0.45"/><circle cx="426.4" cy="390.0" r="1.0" fill="#a04c98" opacity="0.45"/><circle cx="448.8" cy="409.0" r="1.0" fill="#a04c98" opacity="0.45"/><circle cx="404.0" cy="352.0" r="1.0" fill="#a04c98" opacity="0.45"/><circle cx="438.0" cy="348.7" r="1.3" fill="#a04c98" opacity="0.45"/><circle cx="408.0" cy="345.9" r="0.9" fill="#a04c98" opacity="0.45"/><circle cx="436.9" cy="414.7" r="1.5" fill="#a04c98" opacity="0.45"/><circle cx="464.4" cy="374.6" r="1.2" fill="#a04c98" opacity="0.45"/><circle cx="423.6" cy="375.3" r="1.5" fill="#a04c98" opacity="0.45"/><circle cx="428.9" cy="330.7" r="0.9" fill="#a04c98" opacity="0.45"/><circle cx="342.2" cy="347.5" r="1.1" fill="#a04c98" opacity="0.45"/><circle cx="424.7" cy="379.5" r="1.3" fill="#a04c98" opacity="0.45"/><circle cx="447.9" cy="361.6" r="1.0" fill="#a04c98" opacity="0.45"/><circle cx="365.0" cy="329.0" r="1.0" fill="#a04c98" opacity="0.45"/><circle cx="342.2" cy="360.3" r="1.3" fill="#a04c98" opacity="0.45"/><circle cx="441.6" cy="343.0" r="1.4" fill="#a04c98" opacity="0.45"/><circle cx="450.5" cy="340.7" r="1.5" fill="#a04c98" opacity="0.45"/><circle cx="414.5" cy="396.4" r="1.6" fill="#a04c98" opacity="0.45"/><circle cx="370.3" cy="350.9" r="1.0" fill="#a04c98" opacity="0.45"/><circle cx="456.3" cy="370.8" r="0.9" fill="#a04c98" opacity="0.45"/><circle cx="352.9" cy="334.0" r="1.1" fill="#a04c98" opacity="0.45"/><circle cx="475.8" cy="417.6" r="1.3" fill="#a04c98" opacity="0.45"/><circle cx="377.2" cy="380.2" r="1.2" fill="#a04c98" opacity="0.45"/><circle cx="351.0" cy="376.3" r="1.1" fill="#a04c98" opacity="0.45"/><circle cx="376.5" cy="387.3" r="1.4" fill="#a04c98" opacity="0.45"/><circle cx="378.6" cy="344.7" r="1.2" fill="#a04c98" opacity="0.45"/><circle cx="458.6" cy="387.2" r="1.6" fill="#a04c98" opacity="0.45"/><circle cx="361.4" cy="345.2" r="0.9" fill="#a04c98" opacity="0.45"/><circle cx="391.0" cy="366.7" r="1.2" fill="#a04c98" opacity="0.45"/><circle cx="411.3" cy="391.3" r="1.6" fill="#a04c98" opacity="0.45"/><circle cx="347.1" cy="408.7" r="1.2" fill="#a04c98" opacity="0.45"/><circle cx="448.8" cy="359.6" r="1.0" fill="#a04c98" opacity="0.45"/><circle cx="424.1" cy="412.4" r="0.9" fill="#a04c98" opacity="0.45"/><circle cx="341.2" cy="413.2" r="1.2" fill="#a04c98" opacity="0.45"/><circle cx="331.1" cy="374.9" r="1.6" fill="#a04c98" opacity="0.45"/><circle cx="403.0" cy="381.9" r="0.9" fill="#a04c98" opacity="0.45"/><circle cx="430.3" cy="375.7" r="1.4" fill="#a04c98" opacity="0.45"/><circle cx="335.3" cy="334.4" r="1.2" fill="#a04c98" opacity="0.45"/><circle cx="407.7" cy="393.0" r="1.0" fill="#a04c98" opacity="0.45"/><circle cx="387.3" cy="415.4" r="1.5" fill="#a04c98" opacity="0.45"/><circle cx="371.3" cy="380.5" r="0.9" fill="#a04c98" opacity="0.45"/><circle cx="415.0" cy="389.7" r="1.5" fill="#a04c98" opacity="0.45"/><circle cx="430.8" cy="349.5" r="1.4" fill="#a04c98" opacity="0.45"/><circle cx="338.7" cy="412.0" r="1.5" fill="#a04c98" opacity="0.45"/><circle cx="457.2" cy="342.2" r="1.4" fill="#a04c98" opacity="0.45"/><circle cx="362.8" cy="344.4" r="1.5" fill="#a04c98" opacity="0.45"/><circle cx="333.7" cy="332.1" r="1.4" fill="#a04c98" opacity="0.45"/><circle cx="430.5" cy="396.4" r="1.0" fill="#a04c98" opacity="0.45"/><circle cx="388.7" cy="414.1" r="1.3" fill="#a04c98" opacity="0.45"/><circle cx="458.5" cy="331.0" r="0.9" fill="#a04c98" opacity="0.45"/><circle cx="391.3" cy="390.4" r="1.5" fill="#a04c98" opacity="0.45"/><circle cx="443.7" cy="334.0" r="0.9" fill="#a04c98" opacity="0.45"/><circle cx="456.0" cy="405.4" r="1.4" fill="#a04c98" opacity="0.45"/><circle cx="451.0" cy="347.3" r="0.9" fill="#a04c98" opacity="0.45"/><circle cx="349.3" cy="368.8" r="1.2" fill="#a04c98" opacity="0.45"/><circle cx="373.6" cy="380.8" r="1.4" fill="#a04c98" opacity="0.45"/><circle cx="459.7" cy="325.5" r="1.1" fill="#a04c98" opacity="0.45"/><circle cx="397.1" cy="420.5" r="1.4" fill="#a04c98" opacity="0.45"/><circle cx="406.5" cy="375.0" r="1.0" fill="#a04c98" opacity="0.45"/><circle cx="348.4" cy="369.8" r="1.5" fill="#a04c98" opacity="0.45"/><circle cx="339.4" cy="418.6" r="0.8" fill="#a04c98" opacity="0.45"/><circle cx="344.3" cy="335.8" r="1.4" fill="#a04c98" opacity="0.45"/><circle cx="364.7" cy="395.4" r="1.5" fill="#a04c98" opacity="0.45"/><circle cx="352.2" cy="368.9" r="0.9" fill="#a04c98" opacity="0.45"/><circle cx="439.9" cy="416.4" r="0.9" fill="#a04c98" opacity="0.45"/><circle cx="355.4" cy="377.9" r="0.9" fill="#a04c98" opacity="0.45"/><circle cx="337.3" cy="383.2" r="0.8" fill="#a04c98" opacity="0.45"/><circle cx="352.3" cy="358.8" r="0.8" fill="#a04c98" opacity="0.45"/><circle cx="390.3" cy="334.8" r="1.5" fill="#a04c98" opacity="0.45"/><circle cx="437.5" cy="396.5" r="1.5" fill="#a04c98" opacity="0.45"/><circle cx="396.9" cy="347.2" r="0.8" fill="#a04c98" opacity="0.45"/><circle cx="422.9" cy="400.2" r="1.1" fill="#a04c98" opacity="0.45"/><circle cx="455.8" cy="353.0" r="1.3" fill="#a04c98" opacity="0.45"/><circle cx="446.2" cy="342.7" r="1.6" fill="#a04c98" opacity="0.45"/><circle cx="376.7" cy="394.8" r="1.2" fill="#a04c98" opacity="0.45"/><circle cx="413.7" cy="365.6" r="1.0" fill="#a04c98" opacity="0.45"/><circle cx="456.2" cy="363.2" r="1.5" fill="#a04c98" opacity="0.45"/><circle cx="392.8" cy="405.9" r="1.3" fill="#a04c98" opacity="0.45"/><circle cx="445.9" cy="420.6" r="1.0" fill="#a04c98" opacity="0.45"/><circle cx="429.1" cy="348.9" r="1.2" fill="#a04c98" opacity="0.45"/><circle cx="370.6" cy="359.0" r="0.8" fill="#a04c98" opacity="0.45"/><circle cx="392.7" cy="332.4" r="0.8" fill="#a04c98" opacity="0.45"/><circle cx="374.5" cy="390.6" r="1.2" fill="#a04c98" opacity="0.45"/><circle cx="464.4" cy="401.5" r="1.3" fill="#a04c98" opacity="0.45"/><circle cx="331.6" cy="397.2" r="0.9" fill="#a04c98" opacity="0.45"/><circle cx="476.7" cy="322.7" r="1.3" fill="#a04c98" opacity="0.45"/><circle cx="458.4" cy="387.3" r="1.4" fill="#a04c98" opacity="0.45"/><circle cx="466.6" cy="398.7" r="1.1" fill="#a04c98" opacity="0.45"/><circle cx="370.9" cy="342.4" r="1.3" fill="#a04c98" opacity="0.45"/><circle cx="419.0" cy="392.5" r="1.3" fill="#a04c98" opacity="0.45"/><circle cx="472.0" cy="421.6" r="1.0" fill="#a04c98" opacity="0.45"/><circle cx="422.4" cy="405.3" r="1.5" fill="#a04c98" opacity="0.45"/><circle cx="472.6" cy="366.5" r="1.0" fill="#a04c98" opacity="0.45"/><circle cx="473.4" cy="327.8" r="0.8" fill="#a04c98" opacity="0.45"/><circle cx="344.2" cy="338.8" r="1.4" fill="#a04c98" opacity="0.45"/><circle cx="468.1" cy="389.6" r="1.1" fill="#a04c98" opacity="0.45"/><circle cx="432.2" cy="354.1" r="1.0" fill="#a04c98" opacity="0.45"/><circle cx="450.0" cy="385.5" r="1.4" fill="#a04c98" opacity="0.45"/><circle cx="399.1" cy="336.3" r="1.6" fill="#a04c98" opacity="0.45"/><circle cx="394.6" cy="350.0" r="0.9" fill="#a04c98" opacity="0.45"/><circle cx="437.0" cy="332.4" r="1.1" fill="#a04c98" opacity="0.45"/><circle cx="469.6" cy="374.7" r="1.6" fill="#a04c98" opacity="0.45"/><circle cx="436.1" cy="323.2" r="1.3" fill="#a04c98" opacity="0.45"/><circle cx="361.0" cy="385.2" r="1.5" fill="#a04c98" opacity="0.45"/><circle cx="408.5" cy="338.7" r="1.4" fill="#a04c98" opacity="0.45"/><circle cx="376.3" cy="320.1" r="1.1" fill="#a04c98" opacity="0.45"/><circle cx="454.8" cy="322.9" r="1.0" fill="#a04c98" opacity="0.45"/><circle cx="392.2" cy="343.9" r="1.6" fill="#a04c98" opacity="0.45"/><circle cx="460.9" cy="333.2" r="1.6" fill="#a04c98" opacity="0.45"/><circle cx="339.2" cy="366.9" r="1.0" fill="#a04c98" opacity="0.45"/><circle cx="398.1" cy="365.4" r="0.8" fill="#a04c98" opacity="0.45"/><circle cx="438.7" cy="337.6" r="1.5" fill="#a04c98" opacity="0.45"/><circle cx="426.0" cy="402.9" r="1.3" fill="#a04c98" opacity="0.45"/><circle cx="386.6" cy="334.5" r="1.3" fill="#a04c98" opacity="0.45"/><circle cx="369.9" cy="352.1" r="1.5" fill="#a04c98" opacity="0.45"/><circle cx="433.1" cy="382.1" r="1.4" fill="#a04c98" opacity="0.45"/><circle cx="435.7" cy="378.0" r="1.0" fill="#a04c98" opacity="0.45"/><circle cx="413.1" cy="403.3" r="1.2" fill="#a04c98" opacity="0.45"/><circle cx="430.2" cy="325.3" r="0.9" fill="#a04c98" opacity="0.45"/><circle cx="406.6" cy="377.3" r="1.5" fill="#a04c98" opacity="0.45"/><circle cx="404.1" cy="337.2" r="1.3" fill="#a04c98" opacity="0.45"/><circle cx="411.2" cy="399.6" r="0.9" fill="#a04c98" opacity="0.45"/><circle cx="339.7" cy="321.4" r="1.4" fill="#a04c98" opacity="0.45"/><circle cx="394.7" cy="345.7" r="1.1" fill="#a04c98" opacity="0.45"/><circle cx="457.8" cy="355.7" r="0.9" fill="#a04c98" opacity="0.45"/><circle cx="444.5" cy="384.1" r="1.5" fill="#a04c98" opacity="0.45"/><circle cx="461.1" cy="420.4" r="1.1" fill="#a04c98" opacity="0.45"/><circle cx="362.3" cy="349.9" r="1.2" fill="#a04c98" opacity="0.45"/><circle cx="393.4" cy="352.4" r="1.5" fill="#a04c98" opacity="0.45"/><circle cx="352.1" cy="363.3" r="0.8" fill="#a04c98" opacity="0.45"/><circle cx="419.5" cy="355.0" r="1.4" fill="#a04c98" opacity="0.45"/><circle cx="365.5" cy="395.3" r="0.8" fill="#a04c98" opacity="0.45"/><circle cx="467.4" cy="337.6" r="1.6" fill="#f0c0e4" opacity="0.5"/><circle cx="366.0" cy="367.4" r="1.5" fill="#f0c0e4" opacity="0.5"/><circle cx="383.3" cy="371.8" r="0.9" fill="#f0c0e4" opacity="0.5"/><circle cx="472.3" cy="420.5" r="0.9" fill="#f0c0e4" opacity="0.5"/><circle cx="349.0" cy="368.2" r="1.2" fill="#f0c0e4" opacity="0.5"/><circle cx="445.0" cy="355.0" r="1.3" fill="#f0c0e4" opacity="0.5"/><circle cx="354.6" cy="341.7" r="0.9" fill="#f0c0e4" opacity="0.5"/><circle cx="411.2" cy="377.4" r="1.3" fill="#f0c0e4" opacity="0.5"/><circle cx="468.5" cy="351.3" r="1.1" fill="#f0c0e4" opacity="0.5"/><circle cx="399.1" cy="416.5" r="1.0" fill="#f0c0e4" opacity="0.5"/><circle cx="373.7" cy="363.5" r="1.4" fill="#f0c0e4" opacity="0.5"/><circle cx="372.1" cy="337.6" r="1.4" fill="#f0c0e4" opacity="0.5"/><circle cx="415.5" cy="379.1" r="0.8" fill="#f0c0e4" opacity="0.5"/><circle cx="367.6" cy="330.4" r="1.1" fill="#f0c0e4" opacity="0.5"/><circle cx="464.1" cy="420.9" r="1.5" fill="#f0c0e4" opacity="0.5"/><circle cx="385.3" cy="377.7" r="1.5" fill="#f0c0e4" opacity="0.5"/><circle cx="381.5" cy="360.7" r="1.4" fill="#f0c0e4" opacity="0.5"/><circle cx="381.4" cy="368.3" r="1.1" fill="#f0c0e4" opacity="0.5"/><circle cx="452.0" cy="372.9" r="0.9" fill="#f0c0e4" opacity="0.5"/><circle cx="333.4" cy="385.5" r="0.9" fill="#f0c0e4" opacity="0.5"/><circle cx="429.4" cy="342.7" r="1.2" fill="#f0c0e4" opacity="0.5"/><circle cx="381.5" cy="386.8" r="0.9" fill="#f0c0e4" opacity="0.5"/><circle cx="391.1" cy="387.0" r="1.0" fill="#f0c0e4" opacity="0.5"/><circle cx="476.7" cy="421.1" r="1.6" fill="#f0c0e4" opacity="0.5"/><circle cx="467.9" cy="416.0" r="1.3" fill="#f0c0e4" opacity="0.5"/><circle cx="454.1" cy="361.4" r="0.9" fill="#f0c0e4" opacity="0.5"/><circle cx="467.0" cy="413.8" r="1.0" fill="#f0c0e4" opacity="0.5"/><circle cx="386.2" cy="343.9" r="1.4" fill="#f0c0e4" opacity="0.5"/><circle cx="355.8" cy="403.0" r="0.8" fill="#f0c0e4" opacity="0.5"/><circle cx="390.3" cy="399.8" r="1.2" fill="#f0c0e4" opacity="0.5"/><circle cx="351.2" cy="323.0" r="1.3" fill="#f0c0e4" opacity="0.5"/><circle cx="342.1" cy="348.7" r="1.3" fill="#f0c0e4" opacity="0.5"/><circle cx="376.4" cy="323.8" r="1.4" fill="#f0c0e4" opacity="0.5"/><circle cx="437.3" cy="382.4" r="0.9" fill="#f0c0e4" opacity="0.5"/><circle cx="402.2" cy="418.3" r="1.2" fill="#f0c0e4" opacity="0.5"/><circle cx="368.4" cy="415.6" r="1.1" fill="#f0c0e4" opacity="0.5"/><circle cx="407.9" cy="336.7" r="1.5" fill="#f0c0e4" opacity="0.5"/><circle cx="431.4" cy="374.2" r="1.2" fill="#f0c0e4" opacity="0.5"/><circle cx="381.0" cy="366.9" r="1.2" fill="#f0c0e4" opacity="0.5"/><circle cx="333.9" cy="392.7" r="1.4" fill="#f0c0e4" opacity="0.5"/><circle cx="335.1" cy="333.8" r="1.4" fill="#f0c0e4" opacity="0.5"/><circle cx="381.9" cy="334.4" r="1.4" fill="#f0c0e4" opacity="0.5"/><circle cx="475.5" cy="356.1" r="1.3" fill="#f0c0e4" opacity="0.5"/><circle cx="411.8" cy="376.7" r="1.3" fill="#f0c0e4" opacity="0.5"/><circle cx="465.4" cy="407.9" r="1.5" fill="#f0c0e4" opacity="0.5"/><circle cx="432.2" cy="397.7" r="1.4" fill="#f0c0e4" opacity="0.5"/><circle cx="440.0" cy="389.9" r="1.4" fill="#f0c0e4" opacity="0.5"/><circle cx="339.6" cy="337.3" r="1.3" fill="#f0c0e4" opacity="0.5"/><circle cx="393.2" cy="343.4" r="1.3" fill="#f0c0e4" opacity="0.5"/><circle cx="360.7" cy="397.2" r="1.1" fill="#f0c0e4" opacity="0.5"/><circle cx="465.7" cy="352.2" r="1.6" fill="#f0c0e4" opacity="0.5"/><circle cx="379.2" cy="399.8" r="0.9" fill="#f0c0e4" opacity="0.5"/><circle cx="405.0" cy="356.4" r="1.5" fill="#f0c0e4" opacity="0.5"/><circle cx="435.7" cy="378.2" r="0.9" fill="#f0c0e4" opacity="0.5"/><circle cx="407.9" cy="344.4" r="0.9" fill="#f0c0e4" opacity="0.5"/><circle cx="434.4" cy="375.7" r="1.6" fill="#f0c0e4" opacity="0.5"/><circle cx="454.9" cy="324.4" r="1.6" fill="#f0c0e4" opacity="0.5"/><circle cx="408.9" cy="421.1" r="1.0" fill="#f0c0e4" opacity="0.5"/><circle cx="399.8" cy="390.9" r="1.0" fill="#f0c0e4" opacity="0.5"/><circle cx="390.7" cy="354.3" r="1.1" fill="#f0c0e4" opacity="0.5"/><circle cx="410.5" cy="371.1" r="1.5" fill="#f0c0e4" opacity="0.5"/><circle cx="367.2" cy="344.6" r="1.0" fill="#f0c0e4" opacity="0.5"/><circle cx="331.6" cy="353.6" r="1.1" fill="#f0c0e4" opacity="0.5"/><circle cx="344.8" cy="372.8" r="0.9" fill="#f0c0e4" opacity="0.5"/><circle cx="447.8" cy="416.1" r="1.3" fill="#f0c0e4" opacity="0.5"/><circle cx="360.5" cy="335.6" r="0.8" fill="#f0c0e4" opacity="0.5"/><circle cx="358.0" cy="406.6" r="1.4" fill="#f0c0e4" opacity="0.5"/><circle cx="457.6" cy="357.4" r="1.2" fill="#f0c0e4" opacity="0.5"/><circle cx="436.0" cy="387.3" r="1.3" fill="#f0c0e4" opacity="0.5"/><circle cx="335.4" cy="421.6" r="1.3" fill="#f0c0e4" opacity="0.5"/><circle cx="372.4" cy="353.2" r="1.4" fill="#f0c0e4" opacity="0.5"/><circle cx="467.0" cy="323.8" r="1.0" fill="#f0c0e4" opacity="0.5"/><circle cx="338.4" cy="385.9" r="1.3" fill="#f0c0e4" opacity="0.5"/><circle cx="422.1" cy="339.4" r="1.1" fill="#f0c0e4" opacity="0.5"/><circle cx="460.3" cy="353.1" r="1.0" fill="#f0c0e4" opacity="0.5"/><circle cx="362.2" cy="401.6" r="1.0" fill="#f0c0e4" opacity="0.5"/><circle cx="435.0" cy="382.5" r="1.5" fill="#f0c0e4" opacity="0.5"/><circle cx="340.0" cy="350.6" r="1.6" fill="#f0c0e4" opacity="0.5"/><circle cx="404.2" cy="328.8" r="0.9" fill="#f0c0e4" opacity="0.5"/><circle cx="358.3" cy="387.3" r="1.1" fill="#f0c0e4" opacity="0.5"/><circle cx="345.3" cy="346.8" r="1.4" fill="#f0c0e4" opacity="0.5"/><circle cx="436.9" cy="368.9" r="1.0" fill="#f0c0e4" opacity="0.5"/><circle cx="345.3" cy="331.3" r="1.5" fill="#f0c0e4" opacity="0.5"/><circle cx="421.1" cy="321.1" r="1.4" fill="#f0c0e4" opacity="0.5"/><circle cx="469.8" cy="360.5" r="1.5" fill="#f0c0e4" opacity="0.5"/><circle cx="379.4" cy="355.3" r="1.1" fill="#f0c0e4" opacity="0.5"/><circle cx="406.3" cy="358.6" r="1.0" fill="#f0c0e4" opacity="0.5"/><circle cx="343.2" cy="350.3" r="1.3" fill="#f0c0e4" opacity="0.5"/><circle cx="458.2" cy="391.6" r="1.2" fill="#f0c0e4" opacity="0.5"/><circle cx="390.8" cy="336.2" r="1.4" fill="#f0c0e4" opacity="0.5"/><circle cx="447.9" cy="355.9" r="1.4" fill="#f0c0e4" opacity="0.5"/><circle cx="454.7" cy="356.0" r="0.8" fill="#f0c0e4" opacity="0.5"/><circle cx="453.6" cy="372.3" r="0.9" fill="#f0c0e4" opacity="0.5"/><circle cx="420.2" cy="384.2" r="1.3" fill="#f0c0e4" opacity="0.5"/><circle cx="426.6" cy="375.6" r="0.8" fill="#f0c0e4" opacity="0.5"/><circle cx="462.4" cy="387.3" r="1.5" fill="#f0c0e4" opacity="0.5"/><circle cx="407.0" cy="389.5" r="1.2" fill="#f0c0e4" opacity="0.5"/><circle cx="440.9" cy="329.2" r="1.1" fill="#f0c0e4" opacity="0.5"/><circle cx="444.6" cy="356.2" r="1.2" fill="#f0c0e4" opacity="0.5"/><circle cx="382.8" cy="398.7" r="0.9" fill="#f0c0e4" opacity="0.5"/><circle cx="374.4" cy="326.5" r="0.9" fill="#f0c0e4" opacity="0.5"/><circle cx="389.2" cy="416.2" r="0.9" fill="#f0c0e4" opacity="0.5"/><circle cx="421.7" cy="395.9" r="1.4" fill="#f0c0e4" opacity="0.5"/><circle cx="336.9" cy="322.7" r="1.4" fill="#f0c0e4" opacity="0.5"/><circle cx="364.0" cy="399.5" r="1.3" fill="#f0c0e4" opacity="0.5"/><circle cx="473.8" cy="360.1" r="1.4" fill="#f0c0e4" opacity="0.5"/><circle cx="353.8" cy="347.2" r="1.1" fill="#f0c0e4" opacity="0.5"/><circle cx="385.2" cy="375.3" r="1.0" fill="#f0c0e4" opacity="0.5"/><circle cx="349.0" cy="368.3" r="1.2" fill="#f0c0e4" opacity="0.5"/><circle cx="451.2" cy="378.3" r="1.2" fill="#f0c0e4" opacity="0.5"/><circle cx="363.6" cy="394.2" r="1.5" fill="#f0c0e4" opacity="0.5"/><circle cx="340.3" cy="348.8" r="1.4" fill="#f0c0e4" opacity="0.5"/><circle cx="367.1" cy="327.1" r="1.0" fill="#f0c0e4" opacity="0.5"/><circle cx="474.9" cy="335.2" r="0.9" fill="#f0c0e4" opacity="0.5"/><circle cx="431.1" cy="335.3" r="1.5" fill="#f0c0e4" opacity="0.5"/><circle cx="371.5" cy="368.5" r="1.2" fill="#f0c0e4" opacity="0.5"/><circle cx="463.3" cy="415.0" r="1.0" fill="#f0c0e4" opacity="0.5"/><circle cx="374.2" cy="329.6" r="0.9" fill="#f0c0e4" opacity="0.5"/><circle cx="456.7" cy="345.1" r="1.2" fill="#f0c0e4" opacity="0.5"/><circle cx="412.5" cy="349.8" r="0.9" fill="#f0c0e4" opacity="0.5"/><circle cx="331.6" cy="345.6" r="1.5" fill="#f0c0e4" opacity="0.5"/><circle cx="364.3" cy="349.0" r="1.5" fill="#f0c0e4" opacity="0.5"/><circle cx="465.1" cy="327.4" r="1.4" fill="#f0c0e4" opacity="0.5"/><circle cx="394.8" cy="364.4" r="1.5" fill="#f0c0e4" opacity="0.5"/><circle cx="332.2" cy="374.1" r="1.5" fill="#f0c0e4" opacity="0.5"/><circle cx="473.0" cy="400.8" r="1.2" fill="#f0c0e4" opacity="0.5"/><circle cx="372.0" cy="418.2" r="0.8" fill="#f0c0e4" opacity="0.5"/><circle cx="347.1" cy="349.1" r="1.6" fill="#f0c0e4" opacity="0.5"/><circle cx="389.1" cy="409.8" r="0.9" fill="#f0c0e4" opacity="0.5"/><circle cx="372.7" cy="347.9" r="0.8" fill="#f0c0e4" opacity="0.5"/><circle cx="445.5" cy="400.2" r="1.3" fill="#f0c0e4" opacity="0.5"/><circle cx="379.5" cy="386.5" r="1.4" fill="#f0c0e4" opacity="0.5"/><circle cx="374.5" cy="365.7" r="0.8" fill="#f0c0e4" opacity="0.5"/><circle cx="465.4" cy="323.2" r="0.9" fill="#f0c0e4" opacity="0.5"/><circle cx="462.0" cy="324.5" r="0.9" fill="#f0c0e4" opacity="0.5"/><circle cx="393.8" cy="421.9" r="1.5" fill="#f0c0e4" opacity="0.5"/><circle cx="362.1" cy="388.3" r="1.0" fill="#f0c0e4" opacity="0.5"/><circle cx="389.9" cy="408.0" r="1.0" fill="#f0c0e4" opacity="0.5"/><circle cx="369.0" cy="412.4" r="1.0" fill="#f0c0e4" opacity="0.5"/><circle cx="343.8" cy="373.8" r="1.1" fill="#f0c0e4" opacity="0.5"/><circle cx="383.9" cy="343.9" r="1.4" fill="#f0c0e4" opacity="0.5"/><circle cx="472.6" cy="338.4" r="0.9" fill="#f0c0e4" opacity="0.5"/><circle cx="341.6" cy="375.5" r="0.9" fill="#f0c0e4" opacity="0.5"/><circle cx="355.0" cy="401.8" r="1.5" fill="#f0c0e4" opacity="0.5"/><circle cx="404.5" cy="413.3" r="1.0" fill="#f0c0e4" opacity="0.5"/><circle cx="431.0" cy="393.1" r="1.3" fill="#f0c0e4" opacity="0.5"/><circle cx="381.1" cy="337.0" r="0.9" fill="#f0c0e4" opacity="0.5"/><circle cx="446.1" cy="392.0" r="1.2" fill="#f0c0e4" opacity="0.5"/><circle cx="444.1" cy="325.6" r="1.5" fill="#f0c0e4" opacity="0.5"/><circle cx="425.3" cy="389.8" r="1.0" fill="#f0c0e4" opacity="0.5"/><circle cx="469.1" cy="350.0" r="1.1" fill="#f0c0e4" opacity="0.5"/><circle cx="477.9" cy="375.4" r="1.4" fill="#f0c0e4" opacity="0.5"/><circle cx="449.7" cy="406.5" r="1.2" fill="#f0c0e4" opacity="0.5"/><circle cx="357.2" cy="376.5" r="1.0" fill="#f0c0e4" opacity="0.5"/><circle cx="405.9" cy="333.0" r="1.6" fill="#f0c0e4" opacity="0.5"/><circle cx="391.2" cy="394.2" r="1.3" fill="#f0c0e4" opacity="0.5"/><circle cx="390.6" cy="357.9" r="0.8" fill="#f0c0e4" opacity="0.5"/><circle cx="456.8" cy="325.9" r="1.0" fill="#f0c0e4" opacity="0.5"/><circle cx="406.6" cy="345.3" r="1.4" fill="#f0c0e4" opacity="0.5"/><circle cx="459.4" cy="370.5" r="1.6" fill="#f0c0e4" opacity="0.5"/><circle cx="360.5" cy="387.5" r="1.6" fill="#f0c0e4" opacity="0.5"/><circle cx="341.3" cy="391.4" r="1.3" fill="#f0c0e4" opacity="0.5"/><circle cx="445.6" cy="385.9" r="1.5" fill="#f0c0e4" opacity="0.5"/><circle cx="374.3" cy="378.8" r="0.8" fill="#f0c0e4" opacity="0.5"/><circle cx="333.5" cy="396.3" r="1.1" fill="#f0c0e4" opacity="0.5"/><circle cx="435.9" cy="332.1" r="1.3" fill="#f0c0e4" opacity="0.5"/><circle cx="475.8" cy="414.9" r="1.3" fill="#f0c0e4" opacity="0.5"/><circle cx="335.5" cy="367.2" r="1.3" fill="#f0c0e4" opacity="0.5"/><circle cx="406.3" cy="399.1" r="1.1" fill="#f0c0e4" opacity="0.5"/><circle cx="447.5" cy="394.9" r="1.3" fill="#f0c0e4" opacity="0.5"/><circle cx="379.8" cy="375.0" r="1.2" fill="#f0c0e4" opacity="0.5"/><circle cx="351.2" cy="341.5" r="1.3" fill="#f0c0e4" opacity="0.5"/><circle cx="366.1" cy="419.4" r="0.9" fill="#f0c0e4" opacity="0.5"/><circle cx="351.8" cy="347.9" r="0.8" fill="#f0c0e4" opacity="0.5"/><circle cx="351.4" cy="349.0" r="1.6" fill="#f0c0e4" opacity="0.5"/><circle cx="384.8" cy="374.7" r="0.9" fill="#f0c0e4" opacity="0.5"/><circle cx="384.6" cy="412.1" r="1.5" fill="#f0c0e4" opacity="0.5"/><circle cx="399.5" cy="397.9" r="1.5" fill="#f0c0e4" opacity="0.5"/><circle cx="387.9" cy="353.3" r="1.5" fill="#f0c0e4" opacity="0.5"/><circle cx="367.1" cy="400.0" r="1.0" fill="#f0c0e4" opacity="0.5"/><circle cx="476.7" cy="419.9" r="1.1" fill="#f0c0e4" opacity="0.5"/><circle cx="346.5" cy="421.7" r="1.3" fill="#f0c0e4" opacity="0.5"/><circle cx="456.5" cy="356.9" r="1.3" fill="#f0c0e4" opacity="0.5"/><circle cx="356.2" cy="343.5" r="1.4" fill="#f0c0e4" opacity="0.5"/><circle cx="360.9" cy="344.1" r="1.4" fill="#f0c0e4" opacity="0.5"/><circle cx="364.9" cy="413.6" r="1.6" fill="#f0c0e4" opacity="0.5"/><circle cx="421.1" cy="403.5" r="1.5" fill="#f0c0e4" opacity="0.5"/><circle cx="348.5" cy="358.6" r="1.2" fill="#f0c0e4" opacity="0.5"/><circle cx="454.1" cy="331.1" r="1.5" fill="#f0c0e4" opacity="0.5"/><circle cx="397.4" cy="401.0" r="1.0" fill="#f0c0e4" opacity="0.5"/><circle cx="364.2" cy="338.7" r="0.9" fill="#f0c0e4" opacity="0.5"/><circle cx="449.0" cy="340.9" r="1.0" fill="#f0c0e4" opacity="0.5"/><circle cx="394.2" cy="326.1" r="1.1" fill="#f0c0e4" opacity="0.5"/><circle cx="422.4" cy="386.7" r="1.4" fill="#f0c0e4" opacity="0.5"/><circle cx="348.6" cy="334.9" r="1.1" fill="#f0c0e4" opacity="0.5"/><circle cx="383.6" cy="408.9" r="0.9" fill="#f0c0e4" opacity="0.5"/><circle cx="406.6" cy="330.0" r="1.3" fill="#f0c0e4" opacity="0.5"/><circle cx="405.4" cy="378.3" r="1.0" fill="#f0c0e4" opacity="0.5"/><circle cx="455.5" cy="377.4" r="1.4" fill="#f0c0e4" opacity="0.5"/><circle cx="392.9" cy="387.7" r="1.1" fill="#f0c0e4" opacity="0.5"/></g>
<!-- purple epidermis right face -->
<path d="M488 378 L547 348 L609 310 L653 278 L702 301 L749 313 L792 321 L792 340 L749 336 L703 334 L653 335 L625 345 L578 363 L532 382 L505 394 L503 400 Z" fill="url(#purR)"/>
<g clip-path="url(#cPR)"><circle cx="623.1" cy="313.1" r="1.5" fill="#a04c98" opacity="0.45"/><circle cx="635.2" cy="287.0" r="1.4" fill="#a04c98" opacity="0.45"/><circle cx="509.2" cy="301.5" r="0.9" fill="#a04c98" opacity="0.45"/><circle cx="679.5" cy="382.2" r="1.3" fill="#a04c98" opacity="0.45"/><circle cx="554.5" cy="382.5" r="1.5" fill="#a04c98" opacity="0.45"/><circle cx="587.1" cy="310.5" r="1.3" fill="#a04c98" opacity="0.45"/><circle cx="785.6" cy="391.0" r="1.5" fill="#a04c98" opacity="0.45"/><circle cx="706.5" cy="304.7" r="1.3" fill="#a04c98" opacity="0.45"/><circle cx="617.8" cy="356.5" r="1.2" fill="#a04c98" opacity="0.45"/><circle cx="549.5" cy="389.1" r="0.8" fill="#a04c98" opacity="0.45"/><circle cx="591.2" cy="317.5" r="1.6" fill="#a04c98" opacity="0.45"/><circle cx="522.2" cy="348.8" r="1.6" fill="#a04c98" opacity="0.45"/><circle cx="674.4" cy="392.9" r="1.1" fill="#a04c98" opacity="0.45"/><circle cx="620.8" cy="322.7" r="1.1" fill="#a04c98" opacity="0.45"/><circle cx="593.1" cy="285.4" r="1.6" fill="#a04c98" opacity="0.45"/><circle cx="711.9" cy="361.5" r="1.2" fill="#a04c98" opacity="0.45"/><circle cx="547.7" cy="304.4" r="1.6" fill="#a04c98" opacity="0.45"/><circle cx="739.8" cy="333.4" r="1.4" fill="#a04c98" opacity="0.45"/><circle cx="781.3" cy="281.3" r="1.1" fill="#a04c98" opacity="0.45"/><circle cx="609.9" cy="319.0" r="1.2" fill="#a04c98" opacity="0.45"/><circle cx="576.8" cy="291.3" r="1.5" fill="#a04c98" opacity="0.45"/><circle cx="616.6" cy="377.0" r="0.9" fill="#a04c98" opacity="0.45"/><circle cx="580.7" cy="338.2" r="0.8" fill="#a04c98" opacity="0.45"/><circle cx="613.6" cy="298.5" r="1.1" fill="#a04c98" opacity="0.45"/><circle cx="576.3" cy="374.1" r="1.2" fill="#a04c98" opacity="0.45"/><circle cx="563.5" cy="350.3" r="1.2" fill="#a04c98" opacity="0.45"/><circle cx="554.5" cy="374.0" r="1.3" fill="#a04c98" opacity="0.45"/><circle cx="489.9" cy="344.2" r="1.1" fill="#a04c98" opacity="0.45"/><circle cx="512.6" cy="398.3" r="1.3" fill="#a04c98" opacity="0.45"/><circle cx="791.9" cy="336.0" r="1.1" fill="#a04c98" opacity="0.45"/><circle cx="534.3" cy="359.7" r="1.2" fill="#a04c98" opacity="0.45"/><circle cx="541.5" cy="381.8" r="1.3" fill="#a04c98" opacity="0.45"/><circle cx="512.4" cy="399.4" r="1.1" fill="#a04c98" opacity="0.45"/><circle cx="770.7" cy="327.8" r="0.8" fill="#a04c98" opacity="0.45"/><circle cx="655.1" cy="327.4" r="1.4" fill="#a04c98" opacity="0.45"/><circle cx="638.6" cy="322.7" r="1.1" fill="#a04c98" opacity="0.45"/><circle cx="634.5" cy="368.1" r="1.4" fill="#a04c98" opacity="0.45"/><circle cx="608.3" cy="293.8" r="0.8" fill="#a04c98" opacity="0.45"/><circle cx="670.9" cy="305.7" r="1.5" fill="#a04c98" opacity="0.45"/><circle cx="616.5" cy="396.7" r="0.9" fill="#a04c98" opacity="0.45"/><circle cx="743.3" cy="290.9" r="1.0" fill="#a04c98" opacity="0.45"/><circle cx="612.3" cy="311.4" r="1.2" fill="#a04c98" opacity="0.45"/><circle cx="641.6" cy="353.8" r="0.8" fill="#a04c98" opacity="0.45"/><circle cx="673.9" cy="324.0" r="1.3" fill="#a04c98" opacity="0.45"/><circle cx="578.5" cy="379.0" r="1.0" fill="#a04c98" opacity="0.45"/><circle cx="512.3" cy="367.2" r="1.3" fill="#a04c98" opacity="0.45"/><circle cx="542.7" cy="318.9" r="1.1" fill="#a04c98" opacity="0.45"/><circle cx="547.8" cy="346.2" r="1.1" fill="#a04c98" opacity="0.45"/><circle cx="664.3" cy="372.7" r="0.9" fill="#a04c98" opacity="0.45"/><circle cx="568.4" cy="359.9" r="1.3" fill="#a04c98" opacity="0.45"/><circle cx="707.3" cy="310.5" r="1.0" fill="#a04c98" opacity="0.45"/><circle cx="500.6" cy="314.8" r="1.0" fill="#a04c98" opacity="0.45"/><circle cx="714.3" cy="318.9" r="1.4" fill="#a04c98" opacity="0.45"/><circle cx="521.8" cy="312.3" r="1.1" fill="#a04c98" opacity="0.45"/><circle cx="557.6" cy="336.2" r="1.6" fill="#a04c98" opacity="0.45"/><circle cx="626.7" cy="301.4" r="1.3" fill="#a04c98" opacity="0.45"/><circle cx="648.1" cy="380.4" r="0.9" fill="#a04c98" opacity="0.45"/><circle cx="711.9" cy="351.5" r="1.0" fill="#a04c98" opacity="0.45"/><circle cx="599.6" cy="287.7" r="1.5" fill="#a04c98" opacity="0.45"/><circle cx="577.5" cy="329.1" r="1.3" fill="#a04c98" opacity="0.45"/><circle cx="714.8" cy="352.4" r="1.1" fill="#a04c98" opacity="0.45"/><circle cx="684.2" cy="342.8" r="1.1" fill="#a04c98" opacity="0.45"/><circle cx="741.8" cy="294.6" r="0.9" fill="#a04c98" opacity="0.45"/><circle cx="630.1" cy="338.0" r="0.9" fill="#a04c98" opacity="0.45"/><circle cx="714.9" cy="395.8" r="1.3" fill="#a04c98" opacity="0.45"/><circle cx="665.3" cy="312.0" r="0.9" fill="#a04c98" opacity="0.45"/><circle cx="590.6" cy="366.7" r="1.5" fill="#a04c98" opacity="0.45"/><circle cx="599.9" cy="319.0" r="1.1" fill="#a04c98" opacity="0.45"/><circle cx="653.5" cy="310.1" r="1.2" fill="#a04c98" opacity="0.45"/><circle cx="740.5" cy="296.7" r="1.3" fill="#a04c98" opacity="0.45"/><circle cx="573.5" cy="301.2" r="1.1" fill="#a04c98" opacity="0.45"/><circle cx="679.6" cy="328.7" r="1.1" fill="#a04c98" opacity="0.45"/><circle cx="679.1" cy="338.9" r="1.5" fill="#a04c98" opacity="0.45"/><circle cx="786.1" cy="391.8" r="1.3" fill="#a04c98" opacity="0.45"/><circle cx="534.0" cy="330.1" r="1.0" fill="#a04c98" opacity="0.45"/><circle cx="650.1" cy="289.2" r="1.5" fill="#a04c98" opacity="0.45"/><circle cx="564.1" cy="309.4" r="1.5" fill="#a04c98" opacity="0.45"/><circle cx="615.1" cy="280.6" r="0.9" fill="#a04c98" opacity="0.45"/><circle cx="679.1" cy="276.9" r="1.4" fill="#a04c98" opacity="0.45"/><circle cx="520.1" cy="286.2" r="1.2" fill="#a04c98" opacity="0.45"/><circle cx="539.1" cy="277.4" r="1.2" fill="#a04c98" opacity="0.45"/><circle cx="535.7" cy="329.9" r="1.6" fill="#a04c98" opacity="0.45"/><circle cx="747.6" cy="387.2" r="1.2" fill="#a04c98" opacity="0.45"/><circle cx="679.9" cy="328.8" r="1.4" fill="#a04c98" opacity="0.45"/><circle cx="785.3" cy="284.4" r="0.8" fill="#a04c98" opacity="0.45"/><circle cx="626.2" cy="350.3" r="1.3" fill="#a04c98" opacity="0.45"/><circle cx="548.3" cy="295.6" r="1.1" fill="#a04c98" opacity="0.45"/><circle cx="734.8" cy="327.2" r="1.4" fill="#a04c98" opacity="0.45"/><circle cx="629.7" cy="378.6" r="0.9" fill="#a04c98" opacity="0.45"/><circle cx="684.2" cy="308.7" r="1.1" fill="#a04c98" opacity="0.45"/><circle cx="505.6" cy="362.3" r="1.2" fill="#a04c98" opacity="0.45"/><circle cx="684.2" cy="330.3" r="0.9" fill="#a04c98" opacity="0.45"/><circle cx="697.5" cy="277.6" r="1.0" fill="#a04c98" opacity="0.45"/><circle cx="616.5" cy="373.9" r="1.2" fill="#a04c98" opacity="0.45"/><circle cx="682.4" cy="390.3" r="1.5" fill="#a04c98" opacity="0.45"/><circle cx="541.0" cy="322.9" r="0.9" fill="#a04c98" opacity="0.45"/><circle cx="743.8" cy="344.6" r="1.3" fill="#a04c98" opacity="0.45"/><circle cx="525.1" cy="327.3" r="1.0" fill="#a04c98" opacity="0.45"/><circle cx="787.6" cy="316.4" r="1.6" fill="#a04c98" opacity="0.45"/><circle cx="557.7" cy="364.4" r="1.0" fill="#a04c98" opacity="0.45"/><circle cx="567.3" cy="312.6" r="1.6" fill="#a04c98" opacity="0.45"/><circle cx="675.2" cy="308.3" r="1.1" fill="#a04c98" opacity="0.45"/><circle cx="674.3" cy="334.6" r="1.3" fill="#a04c98" opacity="0.45"/><circle cx="500.7" cy="321.9" r="1.0" fill="#a04c98" opacity="0.45"/><circle cx="700.0" cy="385.0" r="0.9" fill="#a04c98" opacity="0.45"/><circle cx="596.8" cy="401.3" r="1.5" fill="#a04c98" opacity="0.45"/><circle cx="499.9" cy="336.5" r="1.3" fill="#a04c98" opacity="0.45"/><circle cx="621.1" cy="361.4" r="1.3" fill="#a04c98" opacity="0.45"/><circle cx="619.3" cy="322.2" r="0.9" fill="#a04c98" opacity="0.45"/><circle cx="767.2" cy="315.3" r="0.9" fill="#a04c98" opacity="0.45"/><circle cx="701.8" cy="290.7" r="1.3" fill="#a04c98" opacity="0.45"/><circle cx="715.7" cy="302.4" r="1.4" fill="#a04c98" opacity="0.45"/><circle cx="761.3" cy="333.5" r="1.1" fill="#a04c98" opacity="0.45"/><circle cx="734.0" cy="360.9" r="1.5" fill="#a04c98" opacity="0.45"/><circle cx="611.1" cy="393.2" r="1.1" fill="#a04c98" opacity="0.45"/><circle cx="723.2" cy="310.9" r="1.0" fill="#a04c98" opacity="0.45"/><circle cx="534.7" cy="392.6" r="1.4" fill="#a04c98" opacity="0.45"/><circle cx="771.9" cy="350.0" r="0.8" fill="#a04c98" opacity="0.45"/><circle cx="658.3" cy="345.3" r="1.1" fill="#a04c98" opacity="0.45"/><circle cx="697.4" cy="399.3" r="1.2" fill="#a04c98" opacity="0.45"/><circle cx="583.3" cy="282.2" r="1.5" fill="#a04c98" opacity="0.45"/><circle cx="686.7" cy="307.5" r="1.4" fill="#a04c98" opacity="0.45"/><circle cx="563.5" cy="324.2" r="1.2" fill="#a04c98" opacity="0.45"/><circle cx="778.3" cy="380.2" r="1.3" fill="#a04c98" opacity="0.45"/><circle cx="650.4" cy="317.7" r="1.4" fill="#a04c98" opacity="0.45"/><circle cx="647.2" cy="362.5" r="0.9" fill="#a04c98" opacity="0.45"/><circle cx="592.1" cy="396.2" r="1.3" fill="#a04c98" opacity="0.45"/><circle cx="743.0" cy="364.2" r="1.1" fill="#a04c98" opacity="0.45"/><circle cx="530.5" cy="277.0" r="1.5" fill="#a04c98" opacity="0.45"/><circle cx="685.7" cy="371.8" r="1.1" fill="#a04c98" opacity="0.45"/><circle cx="662.4" cy="279.6" r="1.5" fill="#a04c98" opacity="0.45"/><circle cx="592.9" cy="320.8" r="0.8" fill="#a04c98" opacity="0.45"/><circle cx="588.7" cy="383.2" r="1.5" fill="#a04c98" opacity="0.45"/><circle cx="588.3" cy="301.9" r="1.4" fill="#a04c98" opacity="0.45"/><circle cx="544.7" cy="333.0" r="1.6" fill="#a04c98" opacity="0.45"/><circle cx="773.2" cy="331.3" r="1.4" fill="#a04c98" opacity="0.45"/><circle cx="554.6" cy="317.6" r="0.9" fill="#a04c98" opacity="0.45"/><circle cx="535.1" cy="314.0" r="1.0" fill="#a04c98" opacity="0.45"/><circle cx="538.6" cy="304.8" r="1.0" fill="#a04c98" opacity="0.45"/><circle cx="783.1" cy="303.9" r="1.1" fill="#a04c98" opacity="0.45"/><circle cx="662.3" cy="348.7" r="1.1" fill="#a04c98" opacity="0.45"/><circle cx="766.0" cy="299.1" r="1.5" fill="#a04c98" opacity="0.45"/><circle cx="506.6" cy="351.2" r="1.5" fill="#a04c98" opacity="0.45"/><circle cx="730.5" cy="304.6" r="1.0" fill="#a04c98" opacity="0.45"/><circle cx="634.0" cy="279.8" r="1.4" fill="#a04c98" opacity="0.45"/><circle cx="580.0" cy="300.3" r="1.1" fill="#a04c98" opacity="0.45"/><circle cx="656.2" cy="334.5" r="1.5" fill="#a04c98" opacity="0.45"/><circle cx="624.5" cy="391.4" r="1.6" fill="#a04c98" opacity="0.45"/><circle cx="691.0" cy="296.1" r="0.8" fill="#a04c98" opacity="0.45"/><circle cx="533.2" cy="347.4" r="1.3" fill="#a04c98" opacity="0.45"/><circle cx="792.0" cy="370.7" r="0.8" fill="#a04c98" opacity="0.45"/><circle cx="599.5" cy="327.8" r="1.2" fill="#a04c98" opacity="0.45"/><circle cx="497.9" cy="363.6" r="1.4" fill="#a04c98" opacity="0.45"/><circle cx="612.4" cy="381.7" r="1.5" fill="#a04c98" opacity="0.45"/><circle cx="757.8" cy="387.1" r="1.1" fill="#a04c98" opacity="0.45"/><circle cx="521.5" cy="370.9" r="0.9" fill="#a04c98" opacity="0.45"/><circle cx="539.1" cy="398.7" r="1.6" fill="#a04c98" opacity="0.45"/><circle cx="634.6" cy="334.3" r="1.4" fill="#a04c98" opacity="0.45"/><circle cx="487.1" cy="332.5" r="0.9" fill="#a04c98" opacity="0.45"/><circle cx="736.2" cy="279.1" r="1.1" fill="#a04c98" opacity="0.45"/><circle cx="568.2" cy="314.9" r="1.2" fill="#a04c98" opacity="0.45"/><circle cx="696.6" cy="289.1" r="1.3" fill="#a04c98" opacity="0.45"/><circle cx="742.7" cy="376.4" r="1.5" fill="#a04c98" opacity="0.45"/><circle cx="578.5" cy="317.6" r="1.3" fill="#a04c98" opacity="0.45"/><circle cx="640.1" cy="349.9" r="0.8" fill="#a04c98" opacity="0.45"/><circle cx="565.9" cy="330.8" r="1.1" fill="#a04c98" opacity="0.45"/><circle cx="718.9" cy="299.5" r="1.5" fill="#a04c98" opacity="0.45"/><circle cx="554.9" cy="334.4" r="0.9" fill="#a04c98" opacity="0.45"/><circle cx="616.5" cy="396.9" r="0.9" fill="#a04c98" opacity="0.45"/><circle cx="662.2" cy="346.9" r="1.6" fill="#a04c98" opacity="0.45"/><circle cx="497.8" cy="396.3" r="1.4" fill="#a04c98" opacity="0.45"/><circle cx="549.7" cy="333.3" r="0.9" fill="#a04c98" opacity="0.45"/><circle cx="556.5" cy="360.8" r="1.1" fill="#a04c98" opacity="0.45"/><circle cx="517.6" cy="383.0" r="1.0" fill="#a04c98" opacity="0.45"/><circle cx="632.2" cy="373.8" r="1.3" fill="#a04c98" opacity="0.45"/><circle cx="713.4" cy="276.2" r="1.1" fill="#a04c98" opacity="0.45"/><circle cx="598.3" cy="391.8" r="1.1" fill="#a04c98" opacity="0.45"/><circle cx="578.0" cy="387.4" r="0.8" fill="#a04c98" opacity="0.45"/><circle cx="757.0" cy="383.5" r="0.8" fill="#a04c98" opacity="0.45"/><circle cx="659.7" cy="286.7" r="0.9" fill="#a04c98" opacity="0.45"/><circle cx="561.1" cy="294.3" r="1.0" fill="#a04c98" opacity="0.45"/><circle cx="507.1" cy="331.2" r="1.0" fill="#a04c98" opacity="0.45"/><circle cx="744.9" cy="289.7" r="1.1" fill="#a04c98" opacity="0.45"/><circle cx="593.6" cy="371.1" r="1.6" fill="#a04c98" opacity="0.45"/><circle cx="781.2" cy="297.8" r="1.0" fill="#a04c98" opacity="0.45"/><circle cx="711.5" cy="308.9" r="0.9" fill="#a04c98" opacity="0.45"/><circle cx="718.8" cy="388.3" r="1.3" fill="#a04c98" opacity="0.45"/><circle cx="589.8" cy="366.0" r="1.1" fill="#a04c98" opacity="0.45"/><circle cx="612.8" cy="351.8" r="0.9" fill="#a04c98" opacity="0.45"/><circle cx="620.4" cy="332.7" r="1.4" fill="#a04c98" opacity="0.45"/><circle cx="566.3" cy="300.5" r="1.5" fill="#a04c98" opacity="0.45"/><circle cx="784.3" cy="376.5" r="1.4" fill="#a04c98" opacity="0.45"/><circle cx="774.9" cy="309.9" r="1.1" fill="#a04c98" opacity="0.45"/><circle cx="720.6" cy="333.6" r="1.3" fill="#a04c98" opacity="0.45"/><circle cx="654.2" cy="388.8" r="1.4" fill="#a04c98" opacity="0.45"/><circle cx="787.9" cy="333.1" r="1.4" fill="#a04c98" opacity="0.45"/><circle cx="585.1" cy="287.5" r="0.9" fill="#a04c98" opacity="0.45"/><circle cx="642.6" cy="371.9" r="0.9" fill="#a04c98" opacity="0.45"/><circle cx="761.0" cy="335.3" r="1.0" fill="#a04c98" opacity="0.45"/><circle cx="554.8" cy="339.7" r="1.3" fill="#a04c98" opacity="0.45"/><circle cx="731.7" cy="359.6" r="1.1" fill="#a04c98" opacity="0.45"/><circle cx="541.9" cy="344.3" r="1.4" fill="#a04c98" opacity="0.45"/><circle cx="652.4" cy="362.2" r="1.4" fill="#a04c98" opacity="0.45"/><circle cx="791.4" cy="321.3" r="0.8" fill="#a04c98" opacity="0.45"/><circle cx="599.1" cy="357.6" r="1.2" fill="#a04c98" opacity="0.45"/><circle cx="760.9" cy="327.8" r="1.3" fill="#a04c98" opacity="0.45"/><circle cx="524.6" cy="312.1" r="1.3" fill="#a04c98" opacity="0.45"/><circle cx="501.1" cy="318.5" r="1.5" fill="#a04c98" opacity="0.45"/><circle cx="629.6" cy="367.5" r="0.9" fill="#a04c98" opacity="0.45"/><circle cx="707.7" cy="386.5" r="1.5" fill="#a04c98" opacity="0.45"/><circle cx="616.9" cy="319.9" r="1.5" fill="#a04c98" opacity="0.45"/><circle cx="497.3" cy="297.3" r="0.8" fill="#a04c98" opacity="0.45"/><circle cx="790.7" cy="298.7" r="1.1" fill="#a04c98" opacity="0.45"/><circle cx="759.0" cy="400.8" r="1.3" fill="#a04c98" opacity="0.45"/><circle cx="709.5" cy="400.9" r="1.1" fill="#a04c98" opacity="0.45"/><circle cx="756.2" cy="282.1" r="1.6" fill="#a04c98" opacity="0.45"/><circle cx="572.2" cy="351.7" r="1.5" fill="#a04c98" opacity="0.45"/><circle cx="546.9" cy="314.7" r="1.2" fill="#a04c98" opacity="0.45"/><circle cx="505.8" cy="306.9" r="1.2" fill="#a04c98" opacity="0.45"/><circle cx="695.6" cy="324.2" r="1.5" fill="#a04c98" opacity="0.45"/><circle cx="719.9" cy="369.1" r="1.4" fill="#a04c98" opacity="0.45"/><circle cx="683.4" cy="283.3" r="1.2" fill="#a04c98" opacity="0.45"/><circle cx="601.3" cy="393.9" r="0.9" fill="#a04c98" opacity="0.45"/><circle cx="699.1" cy="362.6" r="1.0" fill="#a04c98" opacity="0.45"/><circle cx="737.9" cy="318.9" r="1.3" fill="#a04c98" opacity="0.45"/><circle cx="744.5" cy="401.3" r="0.8" fill="#a04c98" opacity="0.45"/><circle cx="631.9" cy="277.1" r="1.0" fill="#a04c98" opacity="0.45"/><circle cx="694.8" cy="282.9" r="1.6" fill="#a04c98" opacity="0.45"/><circle cx="627.2" cy="388.0" r="1.1" fill="#a04c98" opacity="0.45"/><circle cx="549.0" cy="305.4" r="0.9" fill="#a04c98" opacity="0.45"/><circle cx="661.3" cy="300.3" r="1.1" fill="#a04c98" opacity="0.45"/><circle cx="727.4" cy="277.3" r="1.3" fill="#a04c98" opacity="0.45"/><circle cx="742.7" cy="280.2" r="0.9" fill="#a04c98" opacity="0.45"/><circle cx="642.6" cy="384.8" r="1.0" fill="#a04c98" opacity="0.45"/><circle cx="658.2" cy="357.9" r="1.5" fill="#a04c98" opacity="0.45"/><circle cx="611.7" cy="326.7" r="1.4" fill="#a04c98" opacity="0.45"/><circle cx="587.6" cy="379.8" r="1.5" fill="#a04c98" opacity="0.45"/><circle cx="727.3" cy="317.5" r="0.8" fill="#a04c98" opacity="0.45"/><circle cx="660.1" cy="352.8" r="1.4" fill="#a04c98" opacity="0.45"/><circle cx="590.6" cy="367.2" r="1.4" fill="#a04c98" opacity="0.45"/><circle cx="562.6" cy="318.8" r="1.4" fill="#a04c98" opacity="0.45"/><circle cx="486.5" cy="350.4" r="1.5" fill="#a04c98" opacity="0.45"/><circle cx="586.3" cy="357.2" r="0.9" fill="#a04c98" opacity="0.45"/><circle cx="704.5" cy="289.0" r="0.9" fill="#a04c98" opacity="0.45"/><circle cx="613.5" cy="307.6" r="0.9" fill="#a04c98" opacity="0.45"/><circle cx="712.6" cy="374.6" r="1.1" fill="#a04c98" opacity="0.45"/><circle cx="562.1" cy="293.6" r="1.4" fill="#a04c98" opacity="0.45"/><circle cx="566.1" cy="384.3" r="1.4" fill="#a04c98" opacity="0.45"/><circle cx="726.2" cy="381.2" r="1.2" fill="#a04c98" opacity="0.45"/><circle cx="683.8" cy="337.6" r="1.1" fill="#a04c98" opacity="0.45"/><circle cx="564.7" cy="328.9" r="0.9" fill="#a04c98" opacity="0.45"/><circle cx="547.5" cy="293.7" r="1.0" fill="#a04c98" opacity="0.45"/><circle cx="768.8" cy="371.3" r="1.4" fill="#a04c98" opacity="0.45"/><circle cx="789.0" cy="396.1" r="1.1" fill="#a04c98" opacity="0.45"/><circle cx="691.1" cy="284.2" r="1.1" fill="#a04c98" opacity="0.45"/><circle cx="781.6" cy="303.0" r="0.9" fill="#a04c98" opacity="0.45"/><circle cx="665.8" cy="314.9" r="0.9" fill="#a04c98" opacity="0.45"/><circle cx="629.3" cy="304.7" r="1.3" fill="#a04c98" opacity="0.45"/><circle cx="586.8" cy="390.2" r="0.9" fill="#a04c98" opacity="0.45"/><circle cx="527.8" cy="388.6" r="1.4" fill="#a04c98" opacity="0.45"/><circle cx="768.0" cy="322.9" r="0.9" fill="#a04c98" opacity="0.45"/><circle cx="754.6" cy="284.1" r="0.9" fill="#a04c98" opacity="0.45"/><circle cx="738.5" cy="368.7" r="1.5" fill="#a04c98" opacity="0.45"/><circle cx="767.0" cy="337.1" r="1.6" fill="#a04c98" opacity="0.45"/><circle cx="656.5" cy="381.5" r="1.1" fill="#a04c98" opacity="0.45"/><circle cx="710.3" cy="291.0" r="1.5" fill="#a04c98" opacity="0.45"/><circle cx="575.7" cy="331.9" r="0.8" fill="#a04c98" opacity="0.45"/><circle cx="544.6" cy="349.2" r="0.8" fill="#a04c98" opacity="0.45"/><circle cx="655.1" cy="321.4" r="1.5" fill="#a04c98" opacity="0.45"/><circle cx="662.4" cy="394.3" r="1.6" fill="#a04c98" opacity="0.45"/><circle cx="545.5" cy="309.9" r="0.8" fill="#a04c98" opacity="0.45"/><circle cx="667.3" cy="285.3" r="1.1" fill="#a04c98" opacity="0.45"/><circle cx="627.5" cy="366.5" r="1.5" fill="#a04c98" opacity="0.45"/><circle cx="576.6" cy="367.9" r="0.9" fill="#a04c98" opacity="0.45"/><circle cx="753.7" cy="332.7" r="0.9" fill="#a04c98" opacity="0.45"/><circle cx="738.5" cy="279.0" r="1.6" fill="#a04c98" opacity="0.45"/><circle cx="685.9" cy="352.2" r="1.6" fill="#a04c98" opacity="0.45"/><circle cx="631.8" cy="289.1" r="0.9" fill="#a04c98" opacity="0.45"/><circle cx="566.0" cy="285.3" r="1.0" fill="#a04c98" opacity="0.45"/><circle cx="627.4" cy="288.6" r="1.0" fill="#a04c98" opacity="0.45"/><circle cx="585.1" cy="387.3" r="0.8" fill="#a04c98" opacity="0.45"/><circle cx="652.9" cy="349.6" r="0.8" fill="#a04c98" opacity="0.45"/><circle cx="580.8" cy="330.3" r="0.9" fill="#a04c98" opacity="0.45"/><circle cx="580.9" cy="287.7" r="0.9" fill="#a04c98" opacity="0.45"/><circle cx="563.5" cy="286.4" r="1.5" fill="#a04c98" opacity="0.45"/><circle cx="697.5" cy="289.0" r="1.6" fill="#a04c98" opacity="0.45"/><circle cx="718.1" cy="390.8" r="0.9" fill="#a04c98" opacity="0.45"/><circle cx="726.8" cy="371.6" r="1.3" fill="#a04c98" opacity="0.45"/><circle cx="661.0" cy="318.6" r="1.6" fill="#a04c98" opacity="0.45"/><circle cx="660.3" cy="359.3" r="1.0" fill="#a04c98" opacity="0.45"/><circle cx="540.8" cy="287.0" r="1.0" fill="#a04c98" opacity="0.45"/><circle cx="586.3" cy="284.7" r="1.4" fill="#a04c98" opacity="0.45"/><circle cx="788.7" cy="313.7" r="1.2" fill="#a04c98" opacity="0.45"/><circle cx="695.0" cy="278.9" r="1.4" fill="#a04c98" opacity="0.45"/><circle cx="762.3" cy="311.5" r="0.9" fill="#a04c98" opacity="0.45"/><circle cx="565.6" cy="384.7" r="1.3" fill="#a04c98" opacity="0.45"/><circle cx="647.3" cy="325.0" r="1.3" fill="#a04c98" opacity="0.45"/><circle cx="487.5" cy="285.1" r="1.4" fill="#a04c98" opacity="0.45"/><circle cx="565.4" cy="373.0" r="1.1" fill="#a04c98" opacity="0.45"/><circle cx="586.6" cy="375.0" r="1.1" fill="#a04c98" opacity="0.45"/><circle cx="703.0" cy="309.9" r="1.2" fill="#a04c98" opacity="0.45"/><circle cx="609.2" cy="279.0" r="1.0" fill="#a04c98" opacity="0.45"/><circle cx="521.9" cy="372.8" r="1.1" fill="#a04c98" opacity="0.45"/><circle cx="722.6" cy="326.6" r="1.2" fill="#a04c98" opacity="0.45"/><circle cx="770.4" cy="308.4" r="1.3" fill="#a04c98" opacity="0.45"/><circle cx="728.2" cy="351.1" r="0.9" fill="#a04c98" opacity="0.45"/><circle cx="726.3" cy="338.7" r="1.4" fill="#a04c98" opacity="0.45"/><circle cx="513.9" cy="297.5" r="1.5" fill="#a04c98" opacity="0.45"/><circle cx="790.9" cy="345.6" r="1.0" fill="#a04c98" opacity="0.45"/><circle cx="500.1" cy="339.4" r="0.9" fill="#a04c98" opacity="0.45"/><circle cx="675.9" cy="293.1" r="1.0" fill="#a04c98" opacity="0.45"/><circle cx="572.1" cy="331.6" r="1.0" fill="#a04c98" opacity="0.45"/><circle cx="648.2" cy="336.8" r="1.4" fill="#a04c98" opacity="0.45"/><circle cx="541.2" cy="310.3" r="1.4" fill="#a04c98" opacity="0.45"/><circle cx="767.7" cy="300.0" r="1.1" fill="#a04c98" opacity="0.45"/><circle cx="607.1" cy="387.0" r="1.3" fill="#a04c98" opacity="0.45"/><circle cx="489.5" cy="347.7" r="1.0" fill="#a04c98" opacity="0.45"/><circle cx="676.6" cy="369.4" r="0.9" fill="#a04c98" opacity="0.45"/><circle cx="736.8" cy="323.4" r="1.4" fill="#a04c98" opacity="0.45"/><circle cx="726.3" cy="386.1" r="1.1" fill="#a04c98" opacity="0.45"/><circle cx="690.1" cy="277.6" r="1.6" fill="#a04c98" opacity="0.45"/><circle cx="700.3" cy="327.0" r="1.5" fill="#a04c98" opacity="0.45"/><circle cx="642.7" cy="387.9" r="1.2" fill="#a04c98" opacity="0.45"/><circle cx="693.5" cy="308.2" r="1.3" fill="#a04c98" opacity="0.45"/><circle cx="496.6" cy="347.1" r="1.2" fill="#a04c98" opacity="0.45"/><circle cx="533.3" cy="315.8" r="1.6" fill="#a04c98" opacity="0.45"/><circle cx="727.5" cy="347.1" r="1.1" fill="#a04c98" opacity="0.45"/><circle cx="492.6" cy="370.3" r="0.8" fill="#a04c98" opacity="0.45"/><circle cx="547.3" cy="287.9" r="1.3" fill="#a04c98" opacity="0.45"/><circle cx="538.9" cy="401.7" r="1.5" fill="#a04c98" opacity="0.45"/><circle cx="634.1" cy="359.6" r="0.8" fill="#a04c98" opacity="0.45"/><circle cx="556.5" cy="304.2" r="1.2" fill="#a04c98" opacity="0.45"/><circle cx="703.0" cy="285.9" r="0.8" fill="#a04c98" opacity="0.45"/><circle cx="612.8" cy="371.2" r="1.3" fill="#a04c98" opacity="0.45"/><circle cx="682.7" cy="355.0" r="1.5" fill="#a04c98" opacity="0.45"/><circle cx="655.5" cy="281.5" r="1.5" fill="#a04c98" opacity="0.45"/><circle cx="665.3" cy="280.9" r="1.5" fill="#a04c98" opacity="0.45"/><circle cx="491.2" cy="373.9" r="1.6" fill="#a04c98" opacity="0.45"/><circle cx="530.8" cy="352.0" r="1.3" fill="#a04c98" opacity="0.45"/><circle cx="616.2" cy="302.6" r="1.0" fill="#a04c98" opacity="0.45"/><circle cx="653.6" cy="351.8" r="1.5" fill="#a04c98" opacity="0.45"/><circle cx="791.0" cy="391.4" r="1.4" fill="#a04c98" opacity="0.45"/><circle cx="687.8" cy="309.7" r="1.0" fill="#a04c98" opacity="0.45"/><circle cx="614.4" cy="288.8" r="1.2" fill="#a04c98" opacity="0.45"/><circle cx="677.4" cy="357.7" r="1.3" fill="#a04c98" opacity="0.45"/><circle cx="750.3" cy="287.2" r="1.1" fill="#a04c98" opacity="0.45"/><circle cx="718.5" cy="334.1" r="1.1" fill="#a04c98" opacity="0.45"/><circle cx="696.8" cy="380.4" r="0.9" fill="#a04c98" opacity="0.45"/><circle cx="490.5" cy="288.3" r="1.2" fill="#a04c98" opacity="0.45"/><circle cx="566.0" cy="328.2" r="1.6" fill="#a04c98" opacity="0.45"/><circle cx="620.9" cy="318.4" r="1.1" fill="#a04c98" opacity="0.45"/><circle cx="657.3" cy="302.0" r="0.9" fill="#a04c98" opacity="0.45"/><circle cx="505.1" cy="334.3" r="1.1" fill="#a04c98" opacity="0.45"/><circle cx="646.0" cy="330.4" r="1.5" fill="#a04c98" opacity="0.45"/><circle cx="697.7" cy="380.7" r="1.1" fill="#a04c98" opacity="0.45"/><circle cx="626.1" cy="363.3" r="1.3" fill="#a04c98" opacity="0.45"/><circle cx="629.5" cy="388.5" r="1.3" fill="#a04c98" opacity="0.45"/><circle cx="505.4" cy="389.3" r="1.2" fill="#a04c98" opacity="0.45"/><circle cx="745.9" cy="320.1" r="1.0" fill="#a04c98" opacity="0.45"/><circle cx="753.6" cy="307.7" r="1.0" fill="#a04c98" opacity="0.45"/><circle cx="544.8" cy="373.5" r="1.3" fill="#a04c98" opacity="0.45"/><circle cx="745.6" cy="396.0" r="1.5" fill="#a04c98" opacity="0.45"/><circle cx="524.9" cy="372.3" r="1.5" fill="#a04c98" opacity="0.45"/><circle cx="553.1" cy="394.8" r="0.9" fill="#a04c98" opacity="0.45"/><circle cx="547.1" cy="385.4" r="1.0" fill="#a04c98" opacity="0.45"/><circle cx="631.5" cy="295.6" r="1.4" fill="#a04c98" opacity="0.45"/><circle cx="553.1" cy="298.2" r="1.2" fill="#a04c98" opacity="0.45"/><circle cx="581.6" cy="313.0" r="1.1" fill="#a04c98" opacity="0.45"/><circle cx="529.3" cy="381.3" r="1.5" fill="#a04c98" opacity="0.45"/><circle cx="743.6" cy="347.5" r="1.3" fill="#a04c98" opacity="0.45"/><circle cx="723.8" cy="331.3" r="1.3" fill="#a04c98" opacity="0.45"/><circle cx="659.2" cy="351.0" r="1.4" fill="#a04c98" opacity="0.45"/><circle cx="594.6" cy="283.4" r="1.1" fill="#a04c98" opacity="0.45"/><circle cx="542.2" cy="334.4" r="0.8" fill="#a04c98" opacity="0.45"/><circle cx="724.8" cy="294.0" r="1.5" fill="#a04c98" opacity="0.45"/><circle cx="514.4" cy="325.1" r="1.1" fill="#a04c98" opacity="0.45"/><circle cx="692.6" cy="298.3" r="1.6" fill="#a04c98" opacity="0.45"/><circle cx="687.9" cy="348.0" r="1.3" fill="#a04c98" opacity="0.45"/><circle cx="582.6" cy="307.2" r="1.3" fill="#a04c98" opacity="0.45"/><circle cx="786.2" cy="367.0" r="1.2" fill="#a04c98" opacity="0.45"/><circle cx="575.1" cy="386.8" r="1.0" fill="#a04c98" opacity="0.45"/><circle cx="644.4" cy="346.1" r="1.0" fill="#a04c98" opacity="0.45"/><circle cx="530.5" cy="341.0" r="1.0" fill="#a04c98" opacity="0.45"/><circle cx="680.9" cy="284.6" r="0.9" fill="#a04c98" opacity="0.45"/><circle cx="767.5" cy="354.3" r="1.6" fill="#a04c98" opacity="0.45"/><circle cx="622.3" cy="297.3" r="1.6" fill="#a04c98" opacity="0.45"/><circle cx="596.2" cy="333.2" r="0.9" fill="#a04c98" opacity="0.45"/><circle cx="688.4" cy="283.9" r="1.4" fill="#a04c98" opacity="0.45"/><circle cx="698.6" cy="327.6" r="1.5" fill="#a04c98" opacity="0.45"/><circle cx="775.4" cy="380.5" r="1.4" fill="#a04c98" opacity="0.45"/><circle cx="686.7" cy="332.1" r="1.6" fill="#a04c98" opacity="0.45"/><circle cx="538.6" cy="369.1" r="1.5" fill="#a04c98" opacity="0.45"/><circle cx="727.3" cy="399.9" r="1.0" fill="#a04c98" opacity="0.45"/><circle cx="651.2" cy="369.7" r="1.4" fill="#a04c98" opacity="0.45"/><circle cx="506.3" cy="373.1" r="0.9" fill="#a04c98" opacity="0.45"/><circle cx="726.7" cy="353.9" r="1.2" fill="#a04c98" opacity="0.45"/><circle cx="492.0" cy="381.9" r="1.4" fill="#a04c98" opacity="0.45"/><circle cx="778.9" cy="361.1" r="0.8" fill="#a04c98" opacity="0.45"/><circle cx="750.6" cy="349.0" r="1.2" fill="#a04c98" opacity="0.45"/><circle cx="603.1" cy="310.2" r="1.6" fill="#a04c98" opacity="0.45"/><circle cx="536.2" cy="378.7" r="1.5" fill="#a04c98" opacity="0.45"/><circle cx="582.3" cy="307.2" r="1.6" fill="#a04c98" opacity="0.45"/><circle cx="661.9" cy="341.8" r="1.4" fill="#a04c98" opacity="0.45"/><circle cx="719.6" cy="320.5" r="1.4" fill="#a04c98" opacity="0.45"/><circle cx="715.5" cy="339.6" r="1.1" fill="#a04c98" opacity="0.45"/><circle cx="570.0" cy="358.5" r="0.9" fill="#a04c98" opacity="0.45"/><circle cx="743.1" cy="281.9" r="1.0" fill="#a04c98" opacity="0.45"/><circle cx="701.4" cy="357.9" r="1.1" fill="#a04c98" opacity="0.45"/><circle cx="764.9" cy="358.2" r="1.5" fill="#a04c98" opacity="0.45"/><circle cx="742.9" cy="302.1" r="1.2" fill="#a04c98" opacity="0.45"/><circle cx="624.3" cy="320.5" r="1.0" fill="#a04c98" opacity="0.45"/><circle cx="764.2" cy="324.5" r="1.4" fill="#a04c98" opacity="0.45"/><circle cx="749.4" cy="377.6" r="1.3" fill="#a04c98" opacity="0.45"/><circle cx="592.6" cy="398.4" r="1.4" fill="#a04c98" opacity="0.45"/><circle cx="622.9" cy="283.9" r="1.2" fill="#a04c98" opacity="0.45"/><circle cx="763.4" cy="381.3" r="1.1" fill="#a04c98" opacity="0.45"/><circle cx="574.2" cy="374.4" r="0.9" fill="#a04c98" opacity="0.45"/><circle cx="755.0" cy="390.2" r="1.6" fill="#a04c98" opacity="0.45"/><circle cx="517.7" cy="376.0" r="1.3" fill="#a04c98" opacity="0.45"/><circle cx="608.2" cy="380.7" r="1.0" fill="#a04c98" opacity="0.45"/><circle cx="691.0" cy="319.7" r="1.6" fill="#a04c98" opacity="0.45"/><circle cx="708.4" cy="293.0" r="1.0" fill="#a04c98" opacity="0.45"/><circle cx="689.1" cy="330.0" r="1.1" fill="#a04c98" opacity="0.45"/><circle cx="523.4" cy="291.3" r="0.8" fill="#a04c98" opacity="0.45"/><circle cx="583.8" cy="306.0" r="1.5" fill="#a04c98" opacity="0.45"/><circle cx="784.9" cy="360.5" r="0.9" fill="#a04c98" opacity="0.45"/><circle cx="565.7" cy="279.2" r="0.9" fill="#a04c98" opacity="0.45"/><circle cx="608.1" cy="324.5" r="0.9" fill="#a04c98" opacity="0.45"/><circle cx="658.9" cy="349.1" r="1.6" fill="#a04c98" opacity="0.45"/><circle cx="733.7" cy="333.8" r="0.8" fill="#a04c98" opacity="0.45"/><circle cx="642.9" cy="372.8" r="1.1" fill="#a04c98" opacity="0.45"/><circle cx="615.5" cy="333.4" r="1.4" fill="#a04c98" opacity="0.45"/><circle cx="704.9" cy="298.5" r="1.1" fill="#a04c98" opacity="0.45"/><circle cx="665.8" cy="347.9" r="1.6" fill="#a04c98" opacity="0.45"/><circle cx="757.7" cy="310.3" r="1.1" fill="#a04c98" opacity="0.45"/><circle cx="762.8" cy="309.8" r="1.2" fill="#a04c98" opacity="0.45"/><circle cx="587.3" cy="382.4" r="1.5" fill="#a04c98" opacity="0.45"/><circle cx="602.3" cy="380.9" r="1.6" fill="#a04c98" opacity="0.45"/><circle cx="577.9" cy="378.7" r="0.9" fill="#a04c98" opacity="0.45"/><circle cx="647.2" cy="330.2" r="1.5" fill="#a04c98" opacity="0.45"/><circle cx="628.2" cy="362.8" r="1.5" fill="#a04c98" opacity="0.45"/><circle cx="606.3" cy="345.6" r="1.1" fill="#a04c98" opacity="0.45"/><circle cx="517.9" cy="351.0" r="1.1" fill="#a04c98" opacity="0.45"/><circle cx="489.1" cy="307.3" r="1.3" fill="#a04c98" opacity="0.45"/><circle cx="616.0" cy="373.7" r="1.0" fill="#a04c98" opacity="0.45"/><circle cx="612.9" cy="331.6" r="1.4" fill="#a04c98" opacity="0.45"/><circle cx="660.9" cy="279.7" r="0.9" fill="#a04c98" opacity="0.45"/><circle cx="609.8" cy="319.1" r="1.2" fill="#a04c98" opacity="0.45"/><circle cx="560.9" cy="372.4" r="1.1" fill="#a04c98" opacity="0.45"/><circle cx="792.8" cy="333.2" r="0.8" fill="#a04c98" opacity="0.45"/><circle cx="735.2" cy="277.4" r="1.3" fill="#a04c98" opacity="0.45"/><circle cx="505.5" cy="335.4" r="1.6" fill="#a04c98" opacity="0.45"/><circle cx="609.3" cy="319.0" r="1.4" fill="#a04c98" opacity="0.45"/><circle cx="502.1" cy="319.2" r="1.4" fill="#a04c98" opacity="0.45"/><circle cx="552.5" cy="310.0" r="1.1" fill="#a04c98" opacity="0.45"/><circle cx="673.6" cy="319.7" r="1.4" fill="#a04c98" opacity="0.45"/><circle cx="790.5" cy="346.8" r="1.1" fill="#a04c98" opacity="0.45"/><circle cx="672.8" cy="355.4" r="0.9" fill="#a04c98" opacity="0.45"/><circle cx="659.1" cy="382.5" r="1.1" fill="#a04c98" opacity="0.45"/><circle cx="625.0" cy="365.8" r="1.0" fill="#a04c98" opacity="0.45"/><circle cx="530.2" cy="289.0" r="1.1" fill="#a04c98" opacity="0.45"/><circle cx="563.0" cy="287.0" r="1.4" fill="#a04c98" opacity="0.45"/><circle cx="756.3" cy="387.2" r="1.4" fill="#a04c98" opacity="0.45"/><circle cx="573.1" cy="305.8" r="0.8" fill="#a04c98" opacity="0.45"/><circle cx="497.4" cy="319.7" r="1.3" fill="#a04c98" opacity="0.45"/><circle cx="593.7" cy="320.8" r="1.6" fill="#a04c98" opacity="0.45"/><circle cx="623.8" cy="377.1" r="1.0" fill="#a04c98" opacity="0.45"/><circle cx="611.3" cy="280.4" r="0.9" fill="#a04c98" opacity="0.45"/><circle cx="618.7" cy="294.4" r="1.2" fill="#a04c98" opacity="0.45"/><circle cx="500.0" cy="284.3" r="1.0" fill="#a04c98" opacity="0.45"/><circle cx="499.2" cy="363.3" r="0.9" fill="#a04c98" opacity="0.45"/><circle cx="763.8" cy="358.5" r="1.5" fill="#a04c98" opacity="0.45"/><circle cx="782.3" cy="304.2" r="0.9" fill="#a04c98" opacity="0.45"/><circle cx="501.0" cy="330.5" r="1.5" fill="#a04c98" opacity="0.45"/><circle cx="616.0" cy="311.9" r="0.8" fill="#a04c98" opacity="0.45"/><circle cx="542.3" cy="329.4" r="1.2" fill="#a04c98" opacity="0.45"/><circle cx="684.3" cy="357.1" r="1.4" fill="#a04c98" opacity="0.45"/><circle cx="534.0" cy="340.2" r="1.0" fill="#a04c98" opacity="0.45"/><circle cx="635.2" cy="299.6" r="1.4" fill="#a04c98" opacity="0.45"/><circle cx="542.1" cy="341.3" r="1.0" fill="#a04c98" opacity="0.45"/><circle cx="582.1" cy="356.6" r="1.0" fill="#a04c98" opacity="0.45"/><circle cx="691.4" cy="369.7" r="1.0" fill="#a04c98" opacity="0.45"/><circle cx="681.5" cy="323.5" r="1.3" fill="#a04c98" opacity="0.45"/><circle cx="744.1" cy="296.3" r="1.0" fill="#a04c98" opacity="0.45"/><circle cx="632.4" cy="364.3" r="1.5" fill="#a04c98" opacity="0.45"/><circle cx="513.9" cy="276.6" r="1.1" fill="#a04c98" opacity="0.45"/><circle cx="689.1" cy="390.8" r="0.9" fill="#a04c98" opacity="0.45"/><circle cx="707.6" cy="384.1" r="1.4" fill="#a04c98" opacity="0.45"/><circle cx="671.7" cy="335.2" r="1.1" fill="#a04c98" opacity="0.45"/><circle cx="622.8" cy="341.5" r="0.9" fill="#a04c98" opacity="0.45"/><circle cx="777.7" cy="340.8" r="1.5" fill="#a04c98" opacity="0.45"/><circle cx="718.2" cy="289.7" r="1.2" fill="#a04c98" opacity="0.45"/><circle cx="593.8" cy="326.6" r="1.2" fill="#a04c98" opacity="0.45"/><circle cx="585.3" cy="346.7" r="1.4" fill="#a04c98" opacity="0.45"/><circle cx="760.4" cy="387.3" r="1.4" fill="#a04c98" opacity="0.45"/><circle cx="660.3" cy="297.3" r="1.5" fill="#a04c98" opacity="0.45"/><circle cx="665.4" cy="334.4" r="1.6" fill="#a04c98" opacity="0.45"/><circle cx="707.4" cy="306.5" r="1.4" fill="#a04c98" opacity="0.45"/><circle cx="571.2" cy="397.0" r="1.5" fill="#a04c98" opacity="0.45"/><circle cx="746.9" cy="396.0" r="1.5" fill="#a04c98" opacity="0.45"/><circle cx="509.2" cy="281.8" r="1.2" fill="#a04c98" opacity="0.45"/><circle cx="780.7" cy="361.8" r="1.6" fill="#a04c98" opacity="0.45"/><circle cx="746.6" cy="293.4" r="1.3" fill="#a04c98" opacity="0.45"/><circle cx="731.0" cy="285.9" r="1.1" fill="#a04c98" opacity="0.45"/><circle cx="728.7" cy="393.8" r="1.5" fill="#a04c98" opacity="0.45"/><circle cx="748.1" cy="364.4" r="0.8" fill="#a04c98" opacity="0.45"/><circle cx="660.7" cy="391.7" r="1.5" fill="#a04c98" opacity="0.45"/><circle cx="571.7" cy="276.4" r="1.1" fill="#a04c98" opacity="0.45"/><circle cx="486.0" cy="290.5" r="1.2" fill="#a04c98" opacity="0.45"/><circle cx="734.0" cy="356.2" r="1.6" fill="#a04c98" opacity="0.45"/><circle cx="688.9" cy="348.6" r="1.2" fill="#a04c98" opacity="0.45"/><circle cx="615.5" cy="357.0" r="1.0" fill="#a04c98" opacity="0.45"/><circle cx="728.6" cy="318.4" r="1.4" fill="#a04c98" opacity="0.45"/><circle cx="581.8" cy="294.3" r="0.9" fill="#a04c98" opacity="0.45"/><circle cx="726.5" cy="385.8" r="1.1" fill="#a04c98" opacity="0.45"/><circle cx="762.5" cy="318.7" r="1.3" fill="#a04c98" opacity="0.45"/><circle cx="536.3" cy="377.3" r="1.5" fill="#a04c98" opacity="0.45"/><circle cx="687.9" cy="371.9" r="1.3" fill="#a04c98" opacity="0.45"/><circle cx="505.0" cy="385.2" r="1.0" fill="#a04c98" opacity="0.45"/><circle cx="720.7" cy="383.2" r="0.9" fill="#a04c98" opacity="0.45"/><circle cx="686.2" cy="317.1" r="0.9" fill="#a04c98" opacity="0.45"/><circle cx="681.6" cy="369.4" r="1.4" fill="#a04c98" opacity="0.45"/><circle cx="772.2" cy="376.5" r="0.9" fill="#a04c98" opacity="0.45"/><circle cx="549.2" cy="368.7" r="1.5" fill="#a04c98" opacity="0.45"/><circle cx="552.0" cy="353.3" r="0.9" fill="#a04c98" opacity="0.45"/><circle cx="791.6" cy="346.5" r="1.2" fill="#a04c98" opacity="0.45"/><circle cx="562.2" cy="293.5" r="0.9" fill="#a04c98" opacity="0.45"/><circle cx="583.7" cy="313.5" r="0.8" fill="#a04c98" opacity="0.45"/><circle cx="663.0" cy="286.4" r="1.3" fill="#a04c98" opacity="0.45"/><circle cx="650.5" cy="366.1" r="1.1" fill="#a04c98" opacity="0.45"/><circle cx="650.6" cy="388.7" r="1.6" fill="#a04c98" opacity="0.45"/><circle cx="647.7" cy="276.3" r="1.0" fill="#a04c98" opacity="0.45"/><circle cx="668.2" cy="284.9" r="1.5" fill="#a04c98" opacity="0.45"/><circle cx="650.0" cy="288.8" r="1.4" fill="#a04c98" opacity="0.45"/><circle cx="629.9" cy="400.1" r="1.4" fill="#a04c98" opacity="0.45"/><circle cx="592.1" cy="398.3" r="1.0" fill="#a04c98" opacity="0.45"/><circle cx="494.5" cy="313.1" r="1.6" fill="#a04c98" opacity="0.45"/><circle cx="505.8" cy="376.9" r="0.9" fill="#a04c98" opacity="0.45"/><circle cx="691.1" cy="383.9" r="1.5" fill="#a04c98" opacity="0.45"/><circle cx="617.1" cy="386.6" r="1.0" fill="#a04c98" opacity="0.45"/><circle cx="607.3" cy="311.2" r="1.3" fill="#a04c98" opacity="0.45"/><circle cx="493.5" cy="367.3" r="1.3" fill="#a04c98" opacity="0.45"/><circle cx="723.5" cy="322.7" r="1.0" fill="#a04c98" opacity="0.45"/><circle cx="668.8" cy="298.8" r="1.0" fill="#a04c98" opacity="0.45"/><circle cx="499.8" cy="332.3" r="1.4" fill="#a04c98" opacity="0.45"/><circle cx="766.5" cy="289.1" r="1.2" fill="#a04c98" opacity="0.45"/><circle cx="605.6" cy="353.1" r="1.5" fill="#a04c98" opacity="0.45"/><circle cx="736.9" cy="366.0" r="1.5" fill="#a04c98" opacity="0.45"/><circle cx="689.8" cy="398.6" r="1.4" fill="#a04c98" opacity="0.45"/><circle cx="662.0" cy="376.3" r="1.4" fill="#a04c98" opacity="0.45"/><circle cx="530.3" cy="380.4" r="1.3" fill="#a04c98" opacity="0.45"/><circle cx="724.4" cy="387.0" r="0.9" fill="#a04c98" opacity="0.45"/><circle cx="677.3" cy="372.4" r="0.9" fill="#a04c98" opacity="0.45"/><circle cx="661.7" cy="326.1" r="1.5" fill="#a04c98" opacity="0.45"/><circle cx="523.5" cy="290.2" r="1.6" fill="#a04c98" opacity="0.45"/><circle cx="766.3" cy="340.9" r="1.1" fill="#a04c98" opacity="0.45"/><circle cx="606.5" cy="395.5" r="0.8" fill="#a04c98" opacity="0.45"/><circle cx="686.8" cy="315.8" r="1.6" fill="#a04c98" opacity="0.45"/><circle cx="670.9" cy="348.9" r="1.4" fill="#a04c98" opacity="0.45"/><circle cx="617.0" cy="327.3" r="0.9" fill="#a04c98" opacity="0.45"/><circle cx="627.8" cy="396.7" r="0.9" fill="#a04c98" opacity="0.45"/><circle cx="672.2" cy="366.5" r="1.1" fill="#a04c98" opacity="0.45"/><circle cx="536.0" cy="292.3" r="1.1" fill="#a04c98" opacity="0.45"/><circle cx="670.3" cy="340.0" r="1.3" fill="#a04c98" opacity="0.45"/><circle cx="720.3" cy="366.1" r="1.6" fill="#a04c98" opacity="0.45"/><circle cx="765.9" cy="376.7" r="0.9" fill="#a04c98" opacity="0.45"/><circle cx="693.8" cy="376.1" r="0.9" fill="#a04c98" opacity="0.45"/><circle cx="588.4" cy="387.6" r="1.3" fill="#a04c98" opacity="0.45"/><circle cx="734.2" cy="389.5" r="1.4" fill="#a04c98" opacity="0.45"/><circle cx="621.3" cy="364.8" r="0.9" fill="#a04c98" opacity="0.45"/><circle cx="781.3" cy="280.3" r="1.0" fill="#a04c98" opacity="0.45"/><circle cx="758.3" cy="377.5" r="1.0" fill="#a04c98" opacity="0.45"/><circle cx="672.1" cy="334.2" r="1.4" fill="#a04c98" opacity="0.45"/><circle cx="579.2" cy="344.1" r="1.3" fill="#a04c98" opacity="0.45"/><circle cx="491.7" cy="345.9" r="1.0" fill="#a04c98" opacity="0.45"/><circle cx="558.4" cy="288.6" r="1.4" fill="#a04c98" opacity="0.45"/><circle cx="740.5" cy="296.7" r="1.2" fill="#a04c98" opacity="0.45"/><circle cx="519.2" cy="315.7" r="1.4" fill="#a04c98" opacity="0.45"/><circle cx="520.9" cy="348.3" r="1.5" fill="#a04c98" opacity="0.45"/><circle cx="685.0" cy="354.6" r="0.8" fill="#a04c98" opacity="0.45"/><circle cx="601.7" cy="290.9" r="1.0" fill="#a04c98" opacity="0.45"/><circle cx="569.0" cy="345.5" r="1.5" fill="#a04c98" opacity="0.45"/><circle cx="670.4" cy="398.8" r="1.2" fill="#a04c98" opacity="0.45"/><circle cx="722.7" cy="357.1" r="1.4" fill="#a04c98" opacity="0.45"/><circle cx="790.8" cy="339.9" r="0.9" fill="#a04c98" opacity="0.45"/><circle cx="662.5" cy="356.2" r="1.3" fill="#a04c98" opacity="0.45"/><circle cx="692.8" cy="322.3" r="1.3" fill="#a04c98" opacity="0.45"/><circle cx="548.7" cy="318.6" r="1.3" fill="#a04c98" opacity="0.45"/><circle cx="537.5" cy="295.6" r="0.9" fill="#a04c98" opacity="0.45"/><circle cx="555.6" cy="351.2" r="0.9" fill="#a04c98" opacity="0.45"/><circle cx="774.8" cy="316.1" r="1.6" fill="#a04c98" opacity="0.45"/><circle cx="635.0" cy="370.6" r="1.4" fill="#a04c98" opacity="0.45"/><circle cx="641.9" cy="348.7" r="0.9" fill="#a04c98" opacity="0.45"/><circle cx="713.7" cy="280.0" r="1.3" fill="#a04c98" opacity="0.45"/><circle cx="509.3" cy="372.5" r="1.1" fill="#a04c98" opacity="0.45"/><circle cx="780.2" cy="339.2" r="1.0" fill="#a04c98" opacity="0.45"/><circle cx="506.4" cy="392.8" r="1.3" fill="#a04c98" opacity="0.45"/><circle cx="607.1" cy="352.0" r="1.0" fill="#a04c98" opacity="0.45"/><circle cx="728.8" cy="324.2" r="0.8" fill="#a04c98" opacity="0.45"/><circle cx="688.4" cy="304.1" r="1.3" fill="#a04c98" opacity="0.45"/><circle cx="569.9" cy="288.9" r="1.3" fill="#a04c98" opacity="0.45"/><circle cx="780.5" cy="313.8" r="1.3" fill="#a04c98" opacity="0.45"/><circle cx="764.5" cy="393.7" r="1.1" fill="#a04c98" opacity="0.45"/><circle cx="633.9" cy="276.9" r="1.0" fill="#a04c98" opacity="0.45"/><circle cx="687.1" cy="302.3" r="1.3" fill="#a04c98" opacity="0.45"/><circle cx="670.7" cy="328.0" r="0.9" fill="#a04c98" opacity="0.45"/><circle cx="751.5" cy="278.9" r="1.0" fill="#a04c98" opacity="0.45"/><circle cx="573.4" cy="308.7" r="1.0" fill="#a04c98" opacity="0.45"/><circle cx="645.7" cy="349.0" r="1.4" fill="#a04c98" opacity="0.45"/><circle cx="544.9" cy="278.1" r="1.1" fill="#a04c98" opacity="0.45"/><circle cx="621.0" cy="347.6" r="1.0" fill="#a04c98" opacity="0.45"/><circle cx="788.1" cy="339.9" r="1.3" fill="#a04c98" opacity="0.45"/><circle cx="623.9" cy="381.1" r="1.1" fill="#a04c98" opacity="0.45"/><circle cx="624.5" cy="384.7" r="1.2" fill="#a04c98" opacity="0.45"/><circle cx="687.0" cy="360.4" r="1.5" fill="#a04c98" opacity="0.45"/><circle cx="549.3" cy="387.9" r="0.8" fill="#a04c98" opacity="0.45"/><circle cx="792.8" cy="351.0" r="1.4" fill="#a04c98" opacity="0.45"/><circle cx="497.5" cy="279.0" r="1.1" fill="#a04c98" opacity="0.45"/><circle cx="662.8" cy="372.8" r="1.1" fill="#a04c98" opacity="0.45"/><circle cx="783.0" cy="401.8" r="1.3" fill="#a04c98" opacity="0.45"/><circle cx="598.6" cy="395.4" r="1.0" fill="#a04c98" opacity="0.45"/><circle cx="622.4" cy="373.1" r="1.2" fill="#a04c98" opacity="0.45"/><circle cx="650.8" cy="329.7" r="1.1" fill="#a04c98" opacity="0.45"/><circle cx="578.2" cy="349.7" r="1.4" fill="#a04c98" opacity="0.45"/><circle cx="537.3" cy="329.9" r="0.9" fill="#a04c98" opacity="0.45"/><circle cx="530.2" cy="385.8" r="1.5" fill="#a04c98" opacity="0.45"/><circle cx="580.3" cy="297.8" r="1.2" fill="#a04c98" opacity="0.45"/><circle cx="726.8" cy="346.1" r="1.5" fill="#a04c98" opacity="0.45"/><circle cx="505.1" cy="323.1" r="1.3" fill="#a04c98" opacity="0.45"/><circle cx="678.3" cy="325.9" r="1.2" fill="#a04c98" opacity="0.45"/><circle cx="727.1" cy="344.0" r="0.9" fill="#a04c98" opacity="0.45"/><circle cx="708.9" cy="356.1" r="1.5" fill="#a04c98" opacity="0.45"/><circle cx="694.1" cy="360.3" r="1.2" fill="#a04c98" opacity="0.45"/><circle cx="769.9" cy="297.7" r="1.3" fill="#a04c98" opacity="0.45"/><circle cx="549.9" cy="355.2" r="0.8" fill="#a04c98" opacity="0.45"/><circle cx="526.8" cy="297.6" r="1.2" fill="#a04c98" opacity="0.45"/><circle cx="701.4" cy="372.1" r="1.1" fill="#a04c98" opacity="0.45"/><circle cx="689.1" cy="350.9" r="1.6" fill="#a04c98" opacity="0.45"/><circle cx="604.2" cy="367.5" r="1.3" fill="#a04c98" opacity="0.45"/><circle cx="669.3" cy="310.4" r="1.4" fill="#a04c98" opacity="0.45"/><circle cx="777.2" cy="377.6" r="1.4" fill="#a04c98" opacity="0.45"/><circle cx="776.8" cy="291.7" r="0.9" fill="#a04c98" opacity="0.45"/><circle cx="678.2" cy="316.0" r="1.2" fill="#a04c98" opacity="0.45"/><circle cx="735.1" cy="281.8" r="0.9" fill="#a04c98" opacity="0.45"/><circle cx="507.9" cy="315.6" r="1.4" fill="#a04c98" opacity="0.45"/><circle cx="670.4" cy="356.4" r="1.5" fill="#a04c98" opacity="0.45"/><circle cx="605.5" cy="314.4" r="0.9" fill="#a04c98" opacity="0.45"/><circle cx="628.8" cy="394.4" r="1.3" fill="#a04c98" opacity="0.45"/><circle cx="674.3" cy="363.9" r="1.5" fill="#a04c98" opacity="0.45"/><circle cx="498.7" cy="368.9" r="1.0" fill="#a04c98" opacity="0.45"/><circle cx="626.4" cy="347.2" r="1.1" fill="#a04c98" opacity="0.45"/><circle cx="643.2" cy="370.6" r="1.5" fill="#a04c98" opacity="0.45"/><circle cx="697.9" cy="383.6" r="1.2" fill="#a04c98" opacity="0.45"/><circle cx="539.5" cy="379.2" r="1.5" fill="#a04c98" opacity="0.45"/><circle cx="497.4" cy="395.5" r="1.4" fill="#a04c98" opacity="0.45"/><circle cx="650.1" cy="282.2" r="0.8" fill="#a04c98" opacity="0.45"/><circle cx="721.6" cy="397.7" r="0.8" fill="#a04c98" opacity="0.45"/><circle cx="563.3" cy="370.5" r="0.9" fill="#a04c98" opacity="0.45"/><circle cx="701.4" cy="356.8" r="1.6" fill="#a04c98" opacity="0.45"/><circle cx="792.8" cy="337.4" r="1.2" fill="#a04c98" opacity="0.45"/><circle cx="536.2" cy="320.1" r="1.4" fill="#a04c98" opacity="0.45"/><circle cx="526.9" cy="308.5" r="0.9" fill="#a04c98" opacity="0.45"/><circle cx="607.9" cy="353.0" r="1.2" fill="#a04c98" opacity="0.45"/><circle cx="573.1" cy="290.6" r="1.6" fill="#a04c98" opacity="0.45"/><circle cx="605.9" cy="386.4" r="1.1" fill="#a04c98" opacity="0.45"/><circle cx="554.9" cy="380.2" r="1.4" fill="#a04c98" opacity="0.45"/><circle cx="629.4" cy="344.1" r="1.3" fill="#a04c98" opacity="0.45"/><circle cx="668.8" cy="367.3" r="1.2" fill="#a04c98" opacity="0.45"/><circle cx="742.7" cy="393.6" r="1.5" fill="#a04c98" opacity="0.45"/><circle cx="716.4" cy="376.8" r="1.5" fill="#a04c98" opacity="0.45"/><circle cx="636.8" cy="401.0" r="0.9" fill="#a04c98" opacity="0.45"/><circle cx="634.1" cy="284.5" r="0.8" fill="#a04c98" opacity="0.45"/><circle cx="487.8" cy="338.8" r="1.5" fill="#a04c98" opacity="0.45"/><circle cx="562.8" cy="299.7" r="1.2" fill="#a04c98" opacity="0.45"/><circle cx="613.0" cy="293.4" r="1.3" fill="#a04c98" opacity="0.45"/><circle cx="550.9" cy="353.7" r="1.5" fill="#a04c98" opacity="0.45"/><circle cx="615.0" cy="287.4" r="1.0" fill="#a04c98" opacity="0.45"/><circle cx="529.4" cy="377.0" r="0.9" fill="#a04c98" opacity="0.45"/><circle cx="555.6" cy="338.7" r="1.0" fill="#a04c98" opacity="0.45"/><circle cx="527.3" cy="363.4" r="0.9" fill="#a04c98" opacity="0.45"/><circle cx="654.2" cy="360.9" r="0.9" fill="#a04c98" opacity="0.45"/><circle cx="497.5" cy="286.5" r="1.5" fill="#a04c98" opacity="0.45"/><circle cx="523.4" cy="281.3" r="1.3" fill="#a04c98" opacity="0.45"/><circle cx="745.3" cy="363.2" r="1.5" fill="#a04c98" opacity="0.45"/><circle cx="520.2" cy="374.0" r="1.6" fill="#a04c98" opacity="0.45"/><circle cx="588.0" cy="300.0" r="1.4" fill="#a04c98" opacity="0.45"/><circle cx="661.0" cy="297.7" r="1.2" fill="#a04c98" opacity="0.45"/><circle cx="680.7" cy="311.0" r="1.1" fill="#a04c98" opacity="0.45"/><circle cx="680.1" cy="304.4" r="0.9" fill="#a04c98" opacity="0.45"/><circle cx="739.0" cy="291.4" r="1.4" fill="#a04c98" opacity="0.45"/><circle cx="643.7" cy="280.1" r="0.9" fill="#a04c98" opacity="0.45"/><circle cx="691.4" cy="322.5" r="1.3" fill="#a04c98" opacity="0.45"/><circle cx="754.7" cy="383.8" r="1.4" fill="#a04c98" opacity="0.45"/><circle cx="660.1" cy="295.9" r="1.3" fill="#a04c98" opacity="0.45"/><circle cx="738.7" cy="375.7" r="1.1" fill="#a04c98" opacity="0.45"/><circle cx="778.7" cy="319.0" r="1.4" fill="#a04c98" opacity="0.45"/><circle cx="640.7" cy="299.8" r="1.5" fill="#a04c98" opacity="0.45"/><circle cx="751.1" cy="319.7" r="1.6" fill="#a04c98" opacity="0.45"/><circle cx="720.6" cy="361.3" r="1.1" fill="#a04c98" opacity="0.45"/><circle cx="570.9" cy="292.4" r="1.2" fill="#a04c98" opacity="0.45"/><circle cx="632.7" cy="355.4" r="1.1" fill="#f0c0e4" opacity="0.5"/><circle cx="769.4" cy="278.1" r="1.6" fill="#f0c0e4" opacity="0.5"/><circle cx="702.9" cy="377.3" r="1.4" fill="#f0c0e4" opacity="0.5"/><circle cx="548.0" cy="379.2" r="1.3" fill="#f0c0e4" opacity="0.5"/><circle cx="531.4" cy="384.5" r="1.2" fill="#f0c0e4" opacity="0.5"/><circle cx="708.2" cy="286.5" r="1.3" fill="#f0c0e4" opacity="0.5"/><circle cx="487.6" cy="284.0" r="0.9" fill="#f0c0e4" opacity="0.5"/><circle cx="500.1" cy="350.2" r="1.0" fill="#f0c0e4" opacity="0.5"/><circle cx="546.6" cy="378.7" r="1.4" fill="#f0c0e4" opacity="0.5"/><circle cx="608.3" cy="302.9" r="1.4" fill="#f0c0e4" opacity="0.5"/><circle cx="655.3" cy="321.2" r="1.0" fill="#f0c0e4" opacity="0.5"/><circle cx="598.2" cy="337.3" r="0.9" fill="#f0c0e4" opacity="0.5"/><circle cx="486.5" cy="334.6" r="1.0" fill="#f0c0e4" opacity="0.5"/><circle cx="503.2" cy="311.4" r="1.3" fill="#f0c0e4" opacity="0.5"/><circle cx="741.5" cy="279.7" r="1.4" fill="#f0c0e4" opacity="0.5"/><circle cx="579.3" cy="384.0" r="1.5" fill="#f0c0e4" opacity="0.5"/><circle cx="578.0" cy="356.9" r="1.3" fill="#f0c0e4" opacity="0.5"/><circle cx="559.1" cy="397.3" r="1.3" fill="#f0c0e4" opacity="0.5"/><circle cx="778.2" cy="294.7" r="1.0" fill="#f0c0e4" opacity="0.5"/><circle cx="769.7" cy="313.9" r="1.1" fill="#f0c0e4" opacity="0.5"/><circle cx="570.3" cy="380.2" r="1.0" fill="#f0c0e4" opacity="0.5"/><circle cx="525.2" cy="290.0" r="1.5" fill="#f0c0e4" opacity="0.5"/><circle cx="503.3" cy="297.3" r="1.1" fill="#f0c0e4" opacity="0.5"/><circle cx="659.0" cy="381.0" r="1.6" fill="#f0c0e4" opacity="0.5"/><circle cx="631.7" cy="360.9" r="1.1" fill="#f0c0e4" opacity="0.5"/><circle cx="644.6" cy="280.7" r="1.4" fill="#f0c0e4" opacity="0.5"/><circle cx="650.9" cy="360.7" r="1.5" fill="#f0c0e4" opacity="0.5"/><circle cx="739.5" cy="399.7" r="1.4" fill="#f0c0e4" opacity="0.5"/><circle cx="519.7" cy="317.4" r="1.3" fill="#f0c0e4" opacity="0.5"/><circle cx="525.5" cy="325.2" r="1.1" fill="#f0c0e4" opacity="0.5"/><circle cx="528.0" cy="328.6" r="1.3" fill="#f0c0e4" opacity="0.5"/><circle cx="772.4" cy="359.1" r="1.3" fill="#f0c0e4" opacity="0.5"/><circle cx="538.8" cy="399.9" r="1.4" fill="#f0c0e4" opacity="0.5"/><circle cx="699.2" cy="336.0" r="1.3" fill="#f0c0e4" opacity="0.5"/><circle cx="511.5" cy="313.4" r="0.8" fill="#f0c0e4" opacity="0.5"/><circle cx="790.5" cy="321.6" r="1.3" fill="#f0c0e4" opacity="0.5"/><circle cx="718.1" cy="335.3" r="1.6" fill="#f0c0e4" opacity="0.5"/><circle cx="788.2" cy="337.5" r="0.8" fill="#f0c0e4" opacity="0.5"/><circle cx="727.3" cy="340.6" r="0.8" fill="#f0c0e4" opacity="0.5"/><circle cx="709.7" cy="352.2" r="1.6" fill="#f0c0e4" opacity="0.5"/><circle cx="670.2" cy="327.4" r="0.9" fill="#f0c0e4" opacity="0.5"/><circle cx="535.8" cy="368.8" r="1.5" fill="#f0c0e4" opacity="0.5"/><circle cx="593.9" cy="347.1" r="1.0" fill="#f0c0e4" opacity="0.5"/><circle cx="486.4" cy="304.4" r="0.9" fill="#f0c0e4" opacity="0.5"/><circle cx="739.0" cy="286.8" r="1.0" fill="#f0c0e4" opacity="0.5"/><circle cx="615.9" cy="391.2" r="1.0" fill="#f0c0e4" opacity="0.5"/><circle cx="582.1" cy="371.4" r="1.2" fill="#f0c0e4" opacity="0.5"/><circle cx="767.2" cy="340.7" r="1.0" fill="#f0c0e4" opacity="0.5"/><circle cx="761.9" cy="353.1" r="1.2" fill="#f0c0e4" opacity="0.5"/><circle cx="741.5" cy="317.6" r="1.0" fill="#f0c0e4" opacity="0.5"/><circle cx="549.9" cy="308.7" r="1.4" fill="#f0c0e4" opacity="0.5"/><circle cx="736.3" cy="297.7" r="0.8" fill="#f0c0e4" opacity="0.5"/><circle cx="543.4" cy="277.1" r="1.3" fill="#f0c0e4" opacity="0.5"/><circle cx="588.2" cy="356.2" r="0.9" fill="#f0c0e4" opacity="0.5"/><circle cx="687.9" cy="370.9" r="1.0" fill="#f0c0e4" opacity="0.5"/><circle cx="785.8" cy="311.3" r="1.6" fill="#f0c0e4" opacity="0.5"/><circle cx="788.5" cy="390.1" r="1.1" fill="#f0c0e4" opacity="0.5"/><circle cx="735.4" cy="393.3" r="1.1" fill="#f0c0e4" opacity="0.5"/><circle cx="721.9" cy="320.2" r="1.0" fill="#f0c0e4" opacity="0.5"/><circle cx="760.4" cy="366.0" r="1.4" fill="#f0c0e4" opacity="0.5"/><circle cx="508.4" cy="328.5" r="0.8" fill="#f0c0e4" opacity="0.5"/><circle cx="643.1" cy="346.0" r="1.1" fill="#f0c0e4" opacity="0.5"/><circle cx="628.9" cy="332.2" r="0.8" fill="#f0c0e4" opacity="0.5"/><circle cx="605.9" cy="368.9" r="1.2" fill="#f0c0e4" opacity="0.5"/><circle cx="488.9" cy="302.0" r="1.0" fill="#f0c0e4" opacity="0.5"/><circle cx="493.5" cy="324.7" r="1.0" fill="#f0c0e4" opacity="0.5"/><circle cx="621.7" cy="369.4" r="1.6" fill="#f0c0e4" opacity="0.5"/><circle cx="655.6" cy="294.3" r="1.5" fill="#f0c0e4" opacity="0.5"/><circle cx="770.7" cy="374.1" r="1.0" fill="#f0c0e4" opacity="0.5"/><circle cx="647.5" cy="307.0" r="1.3" fill="#f0c0e4" opacity="0.5"/><circle cx="765.2" cy="364.5" r="1.2" fill="#f0c0e4" opacity="0.5"/><circle cx="702.5" cy="296.9" r="1.1" fill="#f0c0e4" opacity="0.5"/><circle cx="503.7" cy="283.9" r="0.8" fill="#f0c0e4" opacity="0.5"/><circle cx="619.8" cy="311.1" r="1.4" fill="#f0c0e4" opacity="0.5"/><circle cx="542.5" cy="338.4" r="1.2" fill="#f0c0e4" opacity="0.5"/><circle cx="585.7" cy="315.4" r="1.1" fill="#f0c0e4" opacity="0.5"/><circle cx="678.4" cy="386.8" r="1.2" fill="#f0c0e4" opacity="0.5"/><circle cx="788.6" cy="292.4" r="1.4" fill="#f0c0e4" opacity="0.5"/><circle cx="671.3" cy="367.1" r="0.9" fill="#f0c0e4" opacity="0.5"/><circle cx="519.4" cy="276.4" r="0.9" fill="#f0c0e4" opacity="0.5"/><circle cx="663.9" cy="396.4" r="1.2" fill="#f0c0e4" opacity="0.5"/><circle cx="722.7" cy="278.0" r="0.8" fill="#f0c0e4" opacity="0.5"/><circle cx="600.4" cy="369.0" r="0.9" fill="#f0c0e4" opacity="0.5"/><circle cx="695.8" cy="398.0" r="1.3" fill="#f0c0e4" opacity="0.5"/><circle cx="734.8" cy="334.6" r="1.5" fill="#f0c0e4" opacity="0.5"/><circle cx="759.0" cy="388.2" r="1.2" fill="#f0c0e4" opacity="0.5"/><circle cx="677.3" cy="323.7" r="1.0" fill="#f0c0e4" opacity="0.5"/><circle cx="771.1" cy="329.6" r="0.9" fill="#f0c0e4" opacity="0.5"/><circle cx="508.6" cy="378.9" r="1.1" fill="#f0c0e4" opacity="0.5"/><circle cx="495.6" cy="342.9" r="1.1" fill="#f0c0e4" opacity="0.5"/><circle cx="634.5" cy="317.2" r="1.2" fill="#f0c0e4" opacity="0.5"/><circle cx="639.6" cy="326.3" r="0.9" fill="#f0c0e4" opacity="0.5"/><circle cx="499.5" cy="344.6" r="1.2" fill="#f0c0e4" opacity="0.5"/><circle cx="504.8" cy="279.3" r="1.1" fill="#f0c0e4" opacity="0.5"/><circle cx="525.9" cy="303.4" r="1.2" fill="#f0c0e4" opacity="0.5"/><circle cx="686.1" cy="283.1" r="1.3" fill="#f0c0e4" opacity="0.5"/><circle cx="683.9" cy="308.9" r="1.2" fill="#f0c0e4" opacity="0.5"/><circle cx="787.1" cy="398.8" r="1.4" fill="#f0c0e4" opacity="0.5"/><circle cx="619.2" cy="328.3" r="1.3" fill="#f0c0e4" opacity="0.5"/><circle cx="790.6" cy="334.8" r="1.3" fill="#f0c0e4" opacity="0.5"/><circle cx="575.0" cy="290.6" r="0.9" fill="#f0c0e4" opacity="0.5"/><circle cx="558.9" cy="370.4" r="1.0" fill="#f0c0e4" opacity="0.5"/><circle cx="531.3" cy="319.5" r="1.4" fill="#f0c0e4" opacity="0.5"/><circle cx="782.2" cy="341.7" r="1.6" fill="#f0c0e4" opacity="0.5"/><circle cx="571.1" cy="401.7" r="1.6" fill="#f0c0e4" opacity="0.5"/><circle cx="714.5" cy="393.8" r="1.5" fill="#f0c0e4" opacity="0.5"/><circle cx="739.2" cy="281.9" r="1.2" fill="#f0c0e4" opacity="0.5"/><circle cx="502.0" cy="372.4" r="1.2" fill="#f0c0e4" opacity="0.5"/><circle cx="562.8" cy="348.1" r="1.4" fill="#f0c0e4" opacity="0.5"/><circle cx="732.8" cy="372.8" r="1.2" fill="#f0c0e4" opacity="0.5"/><circle cx="733.2" cy="319.4" r="1.3" fill="#f0c0e4" opacity="0.5"/><circle cx="531.3" cy="351.0" r="1.1" fill="#f0c0e4" opacity="0.5"/><circle cx="621.6" cy="287.4" r="1.5" fill="#f0c0e4" opacity="0.5"/><circle cx="522.8" cy="368.6" r="1.2" fill="#f0c0e4" opacity="0.5"/><circle cx="793.6" cy="395.9" r="1.5" fill="#f0c0e4" opacity="0.5"/><circle cx="738.1" cy="283.8" r="1.4" fill="#f0c0e4" opacity="0.5"/><circle cx="491.4" cy="289.4" r="1.4" fill="#f0c0e4" opacity="0.5"/><circle cx="540.9" cy="346.0" r="1.6" fill="#f0c0e4" opacity="0.5"/><circle cx="536.0" cy="282.8" r="1.0" fill="#f0c0e4" opacity="0.5"/><circle cx="523.7" cy="337.1" r="1.5" fill="#f0c0e4" opacity="0.5"/><circle cx="712.2" cy="356.2" r="1.2" fill="#f0c0e4" opacity="0.5"/><circle cx="712.5" cy="362.2" r="1.2" fill="#f0c0e4" opacity="0.5"/><circle cx="611.2" cy="318.5" r="1.1" fill="#f0c0e4" opacity="0.5"/><circle cx="698.8" cy="297.3" r="0.8" fill="#f0c0e4" opacity="0.5"/><circle cx="793.3" cy="400.5" r="1.3" fill="#f0c0e4" opacity="0.5"/><circle cx="542.8" cy="324.0" r="1.5" fill="#f0c0e4" opacity="0.5"/><circle cx="620.0" cy="369.6" r="1.2" fill="#f0c0e4" opacity="0.5"/><circle cx="659.1" cy="340.7" r="1.1" fill="#f0c0e4" opacity="0.5"/><circle cx="674.1" cy="294.3" r="1.6" fill="#f0c0e4" opacity="0.5"/><circle cx="507.0" cy="318.9" r="1.2" fill="#f0c0e4" opacity="0.5"/><circle cx="576.9" cy="293.8" r="1.1" fill="#f0c0e4" opacity="0.5"/><circle cx="701.8" cy="363.2" r="1.6" fill="#f0c0e4" opacity="0.5"/><circle cx="755.1" cy="381.6" r="1.2" fill="#f0c0e4" opacity="0.5"/><circle cx="560.0" cy="319.8" r="0.8" fill="#f0c0e4" opacity="0.5"/><circle cx="783.3" cy="286.9" r="1.5" fill="#f0c0e4" opacity="0.5"/><circle cx="530.4" cy="335.8" r="0.9" fill="#f0c0e4" opacity="0.5"/><circle cx="589.0" cy="359.4" r="1.2" fill="#f0c0e4" opacity="0.5"/><circle cx="603.1" cy="311.0" r="1.5" fill="#f0c0e4" opacity="0.5"/><circle cx="638.7" cy="394.0" r="1.4" fill="#f0c0e4" opacity="0.5"/><circle cx="602.0" cy="397.6" r="0.9" fill="#f0c0e4" opacity="0.5"/><circle cx="751.7" cy="356.1" r="0.9" fill="#f0c0e4" opacity="0.5"/><circle cx="535.1" cy="354.5" r="0.8" fill="#f0c0e4" opacity="0.5"/><circle cx="640.3" cy="325.5" r="1.2" fill="#f0c0e4" opacity="0.5"/><circle cx="661.7" cy="347.9" r="0.9" fill="#f0c0e4" opacity="0.5"/><circle cx="521.5" cy="387.6" r="0.9" fill="#f0c0e4" opacity="0.5"/><circle cx="690.5" cy="344.5" r="1.4" fill="#f0c0e4" opacity="0.5"/><circle cx="622.9" cy="365.2" r="1.1" fill="#f0c0e4" opacity="0.5"/><circle cx="601.2" cy="300.7" r="1.5" fill="#f0c0e4" opacity="0.5"/><circle cx="644.3" cy="317.8" r="1.5" fill="#f0c0e4" opacity="0.5"/><circle cx="660.6" cy="320.8" r="1.4" fill="#f0c0e4" opacity="0.5"/><circle cx="539.7" cy="334.7" r="0.8" fill="#f0c0e4" opacity="0.5"/><circle cx="570.8" cy="329.0" r="1.5" fill="#f0c0e4" opacity="0.5"/><circle cx="525.4" cy="281.3" r="1.6" fill="#f0c0e4" opacity="0.5"/><circle cx="740.5" cy="395.1" r="1.1" fill="#f0c0e4" opacity="0.5"/><circle cx="527.6" cy="325.5" r="1.4" fill="#f0c0e4" opacity="0.5"/><circle cx="783.6" cy="400.3" r="1.4" fill="#f0c0e4" opacity="0.5"/><circle cx="693.5" cy="309.8" r="1.5" fill="#f0c0e4" opacity="0.5"/><circle cx="614.5" cy="353.7" r="1.5" fill="#f0c0e4" opacity="0.5"/><circle cx="774.1" cy="322.8" r="1.4" fill="#f0c0e4" opacity="0.5"/><circle cx="643.5" cy="286.2" r="1.0" fill="#f0c0e4" opacity="0.5"/><circle cx="699.5" cy="326.2" r="1.6" fill="#f0c0e4" opacity="0.5"/><circle cx="762.2" cy="348.2" r="1.4" fill="#f0c0e4" opacity="0.5"/><circle cx="494.6" cy="340.0" r="1.4" fill="#f0c0e4" opacity="0.5"/><circle cx="531.2" cy="324.3" r="1.1" fill="#f0c0e4" opacity="0.5"/><circle cx="606.6" cy="279.2" r="1.4" fill="#f0c0e4" opacity="0.5"/><circle cx="672.5" cy="395.8" r="1.5" fill="#f0c0e4" opacity="0.5"/><circle cx="542.4" cy="384.9" r="1.3" fill="#f0c0e4" opacity="0.5"/><circle cx="559.1" cy="354.0" r="1.1" fill="#f0c0e4" opacity="0.5"/><circle cx="648.6" cy="365.2" r="1.1" fill="#f0c0e4" opacity="0.5"/><circle cx="555.9" cy="353.3" r="1.2" fill="#f0c0e4" opacity="0.5"/><circle cx="520.3" cy="382.6" r="0.9" fill="#f0c0e4" opacity="0.5"/><circle cx="522.8" cy="334.2" r="1.3" fill="#f0c0e4" opacity="0.5"/><circle cx="507.2" cy="366.3" r="1.4" fill="#f0c0e4" opacity="0.5"/><circle cx="667.7" cy="332.9" r="0.9" fill="#f0c0e4" opacity="0.5"/><circle cx="487.6" cy="308.5" r="1.2" fill="#f0c0e4" opacity="0.5"/><circle cx="648.8" cy="347.0" r="1.1" fill="#f0c0e4" opacity="0.5"/><circle cx="495.3" cy="337.8" r="1.3" fill="#f0c0e4" opacity="0.5"/><circle cx="512.3" cy="380.3" r="1.4" fill="#f0c0e4" opacity="0.5"/><circle cx="680.8" cy="366.9" r="1.4" fill="#f0c0e4" opacity="0.5"/><circle cx="679.3" cy="337.9" r="1.4" fill="#f0c0e4" opacity="0.5"/><circle cx="693.1" cy="360.3" r="0.9" fill="#f0c0e4" opacity="0.5"/><circle cx="519.0" cy="373.7" r="1.2" fill="#f0c0e4" opacity="0.5"/><circle cx="737.2" cy="298.0" r="1.3" fill="#f0c0e4" opacity="0.5"/><circle cx="628.4" cy="327.3" r="1.3" fill="#f0c0e4" opacity="0.5"/><circle cx="668.9" cy="354.5" r="1.1" fill="#f0c0e4" opacity="0.5"/><circle cx="591.3" cy="369.7" r="1.3" fill="#f0c0e4" opacity="0.5"/><circle cx="608.2" cy="289.7" r="1.1" fill="#f0c0e4" opacity="0.5"/><circle cx="517.8" cy="298.5" r="1.6" fill="#f0c0e4" opacity="0.5"/><circle cx="750.7" cy="394.2" r="1.6" fill="#f0c0e4" opacity="0.5"/><circle cx="627.7" cy="299.6" r="0.9" fill="#f0c0e4" opacity="0.5"/><circle cx="540.0" cy="366.1" r="1.3" fill="#f0c0e4" opacity="0.5"/><circle cx="642.3" cy="343.1" r="1.2" fill="#f0c0e4" opacity="0.5"/><circle cx="544.5" cy="306.0" r="0.9" fill="#f0c0e4" opacity="0.5"/><circle cx="685.0" cy="400.3" r="1.0" fill="#f0c0e4" opacity="0.5"/><circle cx="631.5" cy="315.2" r="0.9" fill="#f0c0e4" opacity="0.5"/><circle cx="536.6" cy="398.4" r="1.0" fill="#f0c0e4" opacity="0.5"/><circle cx="571.0" cy="333.8" r="1.2" fill="#f0c0e4" opacity="0.5"/><circle cx="625.8" cy="294.8" r="1.3" fill="#f0c0e4" opacity="0.5"/><circle cx="727.7" cy="334.1" r="1.5" fill="#f0c0e4" opacity="0.5"/><circle cx="541.1" cy="349.5" r="1.5" fill="#f0c0e4" opacity="0.5"/><circle cx="615.8" cy="377.5" r="1.1" fill="#f0c0e4" opacity="0.5"/><circle cx="507.3" cy="277.7" r="1.4" fill="#f0c0e4" opacity="0.5"/><circle cx="536.6" cy="310.0" r="1.4" fill="#f0c0e4" opacity="0.5"/><circle cx="772.9" cy="287.0" r="1.3" fill="#f0c0e4" opacity="0.5"/><circle cx="707.0" cy="282.3" r="0.9" fill="#f0c0e4" opacity="0.5"/><circle cx="687.6" cy="389.1" r="1.2" fill="#f0c0e4" opacity="0.5"/><circle cx="773.7" cy="281.0" r="1.4" fill="#f0c0e4" opacity="0.5"/><circle cx="551.8" cy="382.8" r="1.2" fill="#f0c0e4" opacity="0.5"/><circle cx="491.2" cy="330.3" r="1.2" fill="#f0c0e4" opacity="0.5"/><circle cx="771.3" cy="290.6" r="1.5" fill="#f0c0e4" opacity="0.5"/><circle cx="725.2" cy="336.9" r="0.9" fill="#f0c0e4" opacity="0.5"/><circle cx="722.7" cy="388.4" r="1.1" fill="#f0c0e4" opacity="0.5"/><circle cx="734.3" cy="305.8" r="1.2" fill="#f0c0e4" opacity="0.5"/><circle cx="780.7" cy="359.9" r="1.2" fill="#f0c0e4" opacity="0.5"/><circle cx="603.4" cy="394.3" r="1.0" fill="#f0c0e4" opacity="0.5"/><circle cx="655.4" cy="373.8" r="0.9" fill="#f0c0e4" opacity="0.5"/><circle cx="521.6" cy="333.4" r="0.8" fill="#f0c0e4" opacity="0.5"/><circle cx="540.9" cy="329.4" r="1.5" fill="#f0c0e4" opacity="0.5"/><circle cx="655.1" cy="383.2" r="1.4" fill="#f0c0e4" opacity="0.5"/><circle cx="656.9" cy="374.5" r="1.6" fill="#f0c0e4" opacity="0.5"/><circle cx="518.6" cy="278.9" r="1.5" fill="#f0c0e4" opacity="0.5"/><circle cx="662.3" cy="382.8" r="1.2" fill="#f0c0e4" opacity="0.5"/><circle cx="529.7" cy="360.5" r="1.4" fill="#f0c0e4" opacity="0.5"/><circle cx="702.6" cy="278.6" r="0.9" fill="#f0c0e4" opacity="0.5"/><circle cx="627.5" cy="355.2" r="1.4" fill="#f0c0e4" opacity="0.5"/><circle cx="655.7" cy="311.0" r="1.0" fill="#f0c0e4" opacity="0.5"/><circle cx="510.2" cy="359.4" r="0.9" fill="#f0c0e4" opacity="0.5"/><circle cx="616.8" cy="331.2" r="1.3" fill="#f0c0e4" opacity="0.5"/><circle cx="692.3" cy="349.4" r="1.3" fill="#f0c0e4" opacity="0.5"/><circle cx="785.4" cy="318.0" r="0.9" fill="#f0c0e4" opacity="0.5"/><circle cx="766.7" cy="356.6" r="0.9" fill="#f0c0e4" opacity="0.5"/><circle cx="495.9" cy="377.5" r="1.0" fill="#f0c0e4" opacity="0.5"/><circle cx="557.4" cy="360.0" r="1.3" fill="#f0c0e4" opacity="0.5"/><circle cx="560.5" cy="370.2" r="1.4" fill="#f0c0e4" opacity="0.5"/><circle cx="655.8" cy="348.6" r="1.2" fill="#f0c0e4" opacity="0.5"/><circle cx="637.2" cy="361.5" r="1.5" fill="#f0c0e4" opacity="0.5"/><circle cx="657.7" cy="357.6" r="1.5" fill="#f0c0e4" opacity="0.5"/><circle cx="629.7" cy="391.0" r="1.2" fill="#f0c0e4" opacity="0.5"/><circle cx="567.9" cy="286.7" r="1.5" fill="#f0c0e4" opacity="0.5"/><circle cx="602.9" cy="368.4" r="1.6" fill="#f0c0e4" opacity="0.5"/><circle cx="791.4" cy="277.3" r="1.4" fill="#f0c0e4" opacity="0.5"/><circle cx="605.4" cy="280.3" r="1.5" fill="#f0c0e4" opacity="0.5"/><circle cx="690.8" cy="397.8" r="1.1" fill="#f0c0e4" opacity="0.5"/><circle cx="783.4" cy="350.0" r="1.3" fill="#f0c0e4" opacity="0.5"/><circle cx="539.6" cy="376.6" r="1.3" fill="#f0c0e4" opacity="0.5"/><circle cx="496.9" cy="354.2" r="0.8" fill="#f0c0e4" opacity="0.5"/><circle cx="564.5" cy="379.2" r="1.5" fill="#f0c0e4" opacity="0.5"/><circle cx="576.0" cy="335.6" r="1.4" fill="#f0c0e4" opacity="0.5"/><circle cx="734.0" cy="335.7" r="1.5" fill="#f0c0e4" opacity="0.5"/><circle cx="770.4" cy="317.0" r="0.9" fill="#f0c0e4" opacity="0.5"/><circle cx="512.4" cy="314.6" r="1.6" fill="#f0c0e4" opacity="0.5"/><circle cx="615.9" cy="296.5" r="1.2" fill="#f0c0e4" opacity="0.5"/><circle cx="507.2" cy="339.7" r="1.0" fill="#f0c0e4" opacity="0.5"/><circle cx="674.2" cy="305.3" r="1.0" fill="#f0c0e4" opacity="0.5"/><circle cx="528.4" cy="342.1" r="1.2" fill="#f0c0e4" opacity="0.5"/><circle cx="703.0" cy="374.8" r="1.5" fill="#f0c0e4" opacity="0.5"/><circle cx="680.3" cy="347.6" r="1.0" fill="#f0c0e4" opacity="0.5"/><circle cx="772.2" cy="322.5" r="1.2" fill="#f0c0e4" opacity="0.5"/><circle cx="749.4" cy="354.7" r="1.0" fill="#f0c0e4" opacity="0.5"/><circle cx="560.4" cy="362.0" r="1.3" fill="#f0c0e4" opacity="0.5"/><circle cx="490.2" cy="381.6" r="1.0" fill="#f0c0e4" opacity="0.5"/><circle cx="517.0" cy="317.5" r="1.5" fill="#f0c0e4" opacity="0.5"/><circle cx="529.5" cy="350.1" r="1.1" fill="#f0c0e4" opacity="0.5"/><circle cx="745.7" cy="331.7" r="1.5" fill="#f0c0e4" opacity="0.5"/><circle cx="599.5" cy="401.7" r="1.2" fill="#f0c0e4" opacity="0.5"/><circle cx="791.5" cy="279.4" r="1.4" fill="#f0c0e4" opacity="0.5"/><circle cx="649.5" cy="317.3" r="1.1" fill="#f0c0e4" opacity="0.5"/><circle cx="705.0" cy="316.2" r="1.5" fill="#f0c0e4" opacity="0.5"/><circle cx="553.1" cy="290.0" r="1.3" fill="#f0c0e4" opacity="0.5"/><circle cx="758.7" cy="377.7" r="1.0" fill="#f0c0e4" opacity="0.5"/><circle cx="698.4" cy="286.2" r="1.0" fill="#f0c0e4" opacity="0.5"/><circle cx="788.6" cy="297.4" r="1.6" fill="#f0c0e4" opacity="0.5"/><circle cx="767.4" cy="323.8" r="1.2" fill="#f0c0e4" opacity="0.5"/><circle cx="704.1" cy="310.7" r="0.9" fill="#f0c0e4" opacity="0.5"/><circle cx="708.5" cy="334.6" r="0.8" fill="#f0c0e4" opacity="0.5"/><circle cx="788.6" cy="342.5" r="1.5" fill="#f0c0e4" opacity="0.5"/><circle cx="589.8" cy="288.1" r="1.2" fill="#f0c0e4" opacity="0.5"/><circle cx="588.4" cy="333.3" r="1.6" fill="#f0c0e4" opacity="0.5"/><circle cx="588.5" cy="371.0" r="1.0" fill="#f0c0e4" opacity="0.5"/><circle cx="664.5" cy="311.0" r="1.6" fill="#f0c0e4" opacity="0.5"/><circle cx="508.4" cy="390.7" r="1.4" fill="#f0c0e4" opacity="0.5"/><circle cx="511.3" cy="400.4" r="1.1" fill="#f0c0e4" opacity="0.5"/><circle cx="772.0" cy="355.8" r="0.9" fill="#f0c0e4" opacity="0.5"/><circle cx="717.7" cy="367.6" r="1.0" fill="#f0c0e4" opacity="0.5"/><circle cx="745.6" cy="365.6" r="1.2" fill="#f0c0e4" opacity="0.5"/><circle cx="504.7" cy="354.2" r="0.9" fill="#f0c0e4" opacity="0.5"/><circle cx="616.9" cy="348.4" r="1.0" fill="#f0c0e4" opacity="0.5"/><circle cx="519.2" cy="291.8" r="1.1" fill="#f0c0e4" opacity="0.5"/><circle cx="727.2" cy="372.1" r="1.0" fill="#f0c0e4" opacity="0.5"/><circle cx="530.9" cy="401.3" r="1.6" fill="#f0c0e4" opacity="0.5"/><circle cx="607.2" cy="312.1" r="1.1" fill="#f0c0e4" opacity="0.5"/><circle cx="726.3" cy="334.4" r="1.2" fill="#f0c0e4" opacity="0.5"/><circle cx="497.6" cy="339.9" r="1.4" fill="#f0c0e4" opacity="0.5"/><circle cx="792.0" cy="358.3" r="1.3" fill="#f0c0e4" opacity="0.5"/><circle cx="566.3" cy="367.6" r="1.6" fill="#f0c0e4" opacity="0.5"/><circle cx="750.0" cy="397.7" r="1.4" fill="#f0c0e4" opacity="0.5"/><circle cx="620.2" cy="303.2" r="1.6" fill="#f0c0e4" opacity="0.5"/><circle cx="587.0" cy="316.9" r="0.8" fill="#f0c0e4" opacity="0.5"/><circle cx="500.1" cy="276.2" r="1.3" fill="#f0c0e4" opacity="0.5"/><circle cx="762.2" cy="281.1" r="0.9" fill="#f0c0e4" opacity="0.5"/><circle cx="636.6" cy="396.3" r="1.3" fill="#f0c0e4" opacity="0.5"/><circle cx="699.0" cy="398.9" r="1.3" fill="#f0c0e4" opacity="0.5"/><circle cx="525.4" cy="348.2" r="0.8" fill="#f0c0e4" opacity="0.5"/><circle cx="760.5" cy="292.5" r="1.2" fill="#f0c0e4" opacity="0.5"/><circle cx="505.5" cy="358.3" r="1.3" fill="#f0c0e4" opacity="0.5"/><circle cx="509.4" cy="281.2" r="1.1" fill="#f0c0e4" opacity="0.5"/><circle cx="516.6" cy="351.8" r="1.2" fill="#f0c0e4" opacity="0.5"/><circle cx="492.1" cy="317.4" r="1.1" fill="#f0c0e4" opacity="0.5"/><circle cx="566.6" cy="320.4" r="1.4" fill="#f0c0e4" opacity="0.5"/><circle cx="596.1" cy="284.1" r="1.3" fill="#f0c0e4" opacity="0.5"/><circle cx="529.9" cy="323.4" r="1.2" fill="#f0c0e4" opacity="0.5"/><circle cx="583.9" cy="393.1" r="0.9" fill="#f0c0e4" opacity="0.5"/><circle cx="573.1" cy="384.5" r="1.0" fill="#f0c0e4" opacity="0.5"/><circle cx="604.8" cy="378.7" r="1.1" fill="#f0c0e4" opacity="0.5"/><circle cx="510.0" cy="277.4" r="1.2" fill="#f0c0e4" opacity="0.5"/><circle cx="686.6" cy="320.9" r="1.0" fill="#f0c0e4" opacity="0.5"/><circle cx="676.5" cy="354.0" r="1.2" fill="#f0c0e4" opacity="0.5"/><circle cx="585.8" cy="294.9" r="1.4" fill="#f0c0e4" opacity="0.5"/><circle cx="648.2" cy="353.9" r="1.5" fill="#f0c0e4" opacity="0.5"/><circle cx="725.5" cy="380.2" r="1.3" fill="#f0c0e4" opacity="0.5"/><circle cx="700.0" cy="381.9" r="1.6" fill="#f0c0e4" opacity="0.5"/><circle cx="620.9" cy="365.7" r="1.5" fill="#f0c0e4" opacity="0.5"/><circle cx="527.2" cy="379.8" r="1.3" fill="#f0c0e4" opacity="0.5"/><circle cx="688.7" cy="345.0" r="1.0" fill="#f0c0e4" opacity="0.5"/><circle cx="528.9" cy="384.9" r="0.8" fill="#f0c0e4" opacity="0.5"/><circle cx="512.9" cy="337.6" r="1.2" fill="#f0c0e4" opacity="0.5"/><circle cx="635.2" cy="389.7" r="1.2" fill="#f0c0e4" opacity="0.5"/><circle cx="728.7" cy="302.0" r="1.2" fill="#f0c0e4" opacity="0.5"/><circle cx="725.0" cy="378.4" r="1.2" fill="#f0c0e4" opacity="0.5"/><circle cx="759.8" cy="284.4" r="1.5" fill="#f0c0e4" opacity="0.5"/></g>
<!-- follicle sheath -->
<path d="M468.0 378.0 C465.0 385.0 470.8 403.0 472.0 420.0 C473.2 437.0 474.2 460.0 475.0 480.0 C475.8 500.0 476.8 521.7 477.0 540.0 C477.2 558.3 476.7 575.8 476.0 590.0 C475.3 604.2 473.3 615.3 473.0 625.0 C472.7 634.7 472.5 642.2 474.0 648.0 C475.5 653.8 478.7 657.5 482.0 660.0 C485.3 662.5 490.3 663.8 494.0 663.0 C497.7 662.2 501.5 658.2 504.0 655.0 C506.5 651.8 507.3 643.8 509.0 644.0 C510.7 644.2 511.5 652.8 514.0 656.0 C516.5 659.2 520.7 663.0 524.0 663.0 C527.3 663.0 531.7 660.2 534.0 656.0 C536.3 651.8 538.0 644.3 538.0 638.0 C538.0 631.7 536.0 624.3 534.0 618.0 C532.0 611.7 528.3 607.7 526.0 600.0 C523.7 592.3 522.0 582.8 520.0 572.0 C518.0 561.2 516.0 547.0 514.0 535.0 C512.0 523.0 509.3 512.5 508.0 500.0 C506.7 487.5 506.7 476.7 506.0 460.0 C505.3 443.3 506.7 413.7 504.0 400.0 C501.3 386.3 496.0 381.7 490.0 378.0 C484.0 374.3 471.0 371.0 468.0 378.0 Z" fill="#c98ccb" stroke="#a060a4" stroke-width="1.6"/>
<path d="M481.0 400.0 C481.5 413.3 483.2 453.3 484.0 480.0 C484.8 506.7 486.2 538.3 486.0 560.0 C485.8 581.7 483.3 596.7 483.0 610.0 C482.7 623.3 482.5 633.0 484.0 640.0 C485.5 647.0 489.0 652.0 492.0 652.0 C495.0 652.0 499.2 643.7 502.0 640.0 C504.8 636.3 506.3 629.2 509.0 630.0 C511.7 630.8 514.8 643.3 518.0 645.0 C521.2 646.7 526.3 644.5 528.0 640.0 C529.7 635.5 529.3 625.0 528.0 618.0 C526.7 611.0 522.7 606.0 520.0 598.0 C517.3 590.0 514.5 583.0 512.0 570.0 C509.5 557.0 507.0 538.3 505.0 520.0 C503.0 501.7 501.3 480.0 500.0 460.0 C498.7 440.0 497.5 410.0 497.0 400.0" fill="#e2aade" opacity="0.75"/>
<!-- papillae zone right face -->
<path d="M505 394 L532 382 L578 363 L625 345 L653 335 L703 334 L749 336 L792 340 L792 372 L760 376 L730 384 L700 388 L650 398 L600 402 L560 408 L520 414 L505 418 Z" fill="url(#darkb)"/>
<path d="M505 412 L520 406 L560 398 L600 394 L650 390 L700 382 L740 376 L760 380 L750 398 L730 412 L700 422 L680 424 L650 437 L620 446 L590 457 L560 463 L530 454 L505 446 Z" fill="#e4485a"/>
<g filter="url(#blur1)"><ellipse cx="524" cy="425" rx="14" ry="9" transform="rotate(-15 524 425)" fill="#f07888" stroke="#cc2438" stroke-width="1.8"/>
<ellipse cx="521" cy="422" rx="8" ry="4" transform="rotate(-15 524 425)" fill="#f9c0c8" opacity="0.8"/>
<ellipse cx="556" cy="418" rx="14" ry="9" transform="rotate(-15 556 418)" fill="#f07888" stroke="#cc2438" stroke-width="1.8"/>
<ellipse cx="553" cy="415" rx="8" ry="4" transform="rotate(-15 556 418)" fill="#f9c0c8" opacity="0.8"/>
<ellipse cx="592" cy="408" rx="14" ry="9" transform="rotate(-15 592 408)" fill="#f07888" stroke="#cc2438" stroke-width="1.8"/>
<ellipse cx="589" cy="405" rx="8" ry="4" transform="rotate(-15 592 408)" fill="#f9c0c8" opacity="0.8"/>
<ellipse cx="630" cy="400" rx="14" ry="9" transform="rotate(-15 630 400)" fill="#f07888" stroke="#cc2438" stroke-width="1.8"/>
<ellipse cx="627" cy="397" rx="8" ry="4" transform="rotate(-15 630 400)" fill="#f9c0c8" opacity="0.8"/>
<ellipse cx="664" cy="391" rx="14" ry="9" transform="rotate(-15 664 391)" fill="#f07888" stroke="#cc2438" stroke-width="1.8"/>
<ellipse cx="661" cy="388" rx="8" ry="4" transform="rotate(-15 664 391)" fill="#f9c0c8" opacity="0.8"/>
<ellipse cx="702" cy="383" rx="14" ry="9" transform="rotate(-15 702 383)" fill="#f07888" stroke="#cc2438" stroke-width="1.8"/>
<ellipse cx="699" cy="380" rx="8" ry="4" transform="rotate(-15 702 383)" fill="#f9c0c8" opacity="0.8"/>
<ellipse cx="735" cy="375" rx="14" ry="9" transform="rotate(-15 735 375)" fill="#f07888" stroke="#cc2438" stroke-width="1.8"/>
<ellipse cx="732" cy="372" rx="8" ry="4" transform="rotate(-15 735 375)" fill="#f9c0c8" opacity="0.8"/>
<ellipse cx="536" cy="449" rx="15" ry="10" transform="rotate(-15 536 449)" fill="#f07888" stroke="#cc2438" stroke-width="1.8"/>
<ellipse cx="533" cy="446" rx="9" ry="5" transform="rotate(-15 536 449)" fill="#f9c0c8" opacity="0.8"/>
<ellipse cx="574" cy="440" rx="15" ry="10" transform="rotate(-15 574 440)" fill="#f07888" stroke="#cc2438" stroke-width="1.8"/>
<ellipse cx="571" cy="437" rx="9" ry="5" transform="rotate(-15 574 440)" fill="#f9c0c8" opacity="0.8"/>
<ellipse cx="608" cy="429" rx="15" ry="10" transform="rotate(-15 608 429)" fill="#f07888" stroke="#cc2438" stroke-width="1.8"/>
<ellipse cx="605" cy="426" rx="9" ry="5" transform="rotate(-15 608 429)" fill="#f9c0c8" opacity="0.8"/>
<ellipse cx="644" cy="422" rx="15" ry="10" transform="rotate(-15 644 422)" fill="#f07888" stroke="#cc2438" stroke-width="1.8"/>
<ellipse cx="641" cy="419" rx="9" ry="5" transform="rotate(-15 644 422)" fill="#f9c0c8" opacity="0.8"/>
<ellipse cx="682" cy="410" rx="15" ry="10" transform="rotate(-15 682 410)" fill="#f07888" stroke="#cc2438" stroke-width="1.8"/>
<ellipse cx="679" cy="407" rx="9" ry="5" transform="rotate(-15 682 410)" fill="#f9c0c8" opacity="0.8"/>
<ellipse cx="716" cy="400" rx="15" ry="10" transform="rotate(-15 716 400)" fill="#f07888" stroke="#cc2438" stroke-width="1.8"/>
<ellipse cx="713" cy="397" rx="9" ry="5" transform="rotate(-15 716 400)" fill="#f9c0c8" opacity="0.8"/>
<ellipse cx="528" cy="392" rx="14" ry="7" transform="rotate(-12 528 392)" fill="#b85060" opacity="0.9"/>
<ellipse cx="525" cy="392" rx="9" ry="4.5" transform="rotate(-12 528 392)" fill="#4e1428"/>
<ellipse cx="564" cy="384" rx="14" ry="7" transform="rotate(-12 564 384)" fill="#b85060" opacity="0.9"/>
<ellipse cx="561" cy="384" rx="9" ry="4.5" transform="rotate(-12 564 384)" fill="#4e1428"/>
<ellipse cx="600" cy="375" rx="14" ry="7" transform="rotate(-12 600 375)" fill="#b85060" opacity="0.9"/>
<ellipse cx="597" cy="375" rx="9" ry="4.5" transform="rotate(-12 600 375)" fill="#4e1428"/>
<ellipse cx="636" cy="366" rx="14" ry="7" transform="rotate(-12 636 366)" fill="#b85060" opacity="0.9"/>
<ellipse cx="633" cy="366" rx="9" ry="4.5" transform="rotate(-12 636 366)" fill="#4e1428"/>
<ellipse cx="672" cy="358" rx="14" ry="7" transform="rotate(-12 672 358)" fill="#b85060" opacity="0.9"/>
<ellipse cx="669" cy="358" rx="9" ry="4.5" transform="rotate(-12 672 358)" fill="#4e1428"/>
<ellipse cx="708" cy="350" rx="14" ry="7" transform="rotate(-12 708 350)" fill="#b85060" opacity="0.9"/>
<ellipse cx="705" cy="350" rx="9" ry="4.5" transform="rotate(-12 708 350)" fill="#4e1428"/>
<ellipse cx="744" cy="341" rx="14" ry="7" transform="rotate(-12 744 341)" fill="#b85060" opacity="0.9"/>
<ellipse cx="741" cy="341" rx="9" ry="4.5" transform="rotate(-12 744 341)" fill="#4e1428"/>
<ellipse cx="780" cy="332" rx="14" ry="7" transform="rotate(-12 780 332)" fill="#b85060" opacity="0.9"/>
<ellipse cx="777" cy="332" rx="9" ry="4.5" transform="rotate(-12 780 332)" fill="#4e1428"/></g>
<!-- right block pink under papillae near meissner -->
<path d="M742 372 L792 370 L792 420 L760 430 L745 400 Z" fill="#f4bcc4"/>
<!-- peach top -->
<path d="M333 298 L471 214 L502 196 L539 215 L582 231 L636 245 L651 231 L703 274 L718 281 L795 298 L795 321 L749 313 L702 301 L653 278 L609 310 L547 348 L488 378 L476 372 L440 355 L414 340 L392 330 L371 322 L331 321 Z" fill="url(#peach)"/>
<path d="M333 298 L471 214 L502 196 L539 215 L582 231 L636 245 L615 268 L580 307 L530 335 L485 352 L430 330 L380 312 Z" fill="url(#topg)"/>
<g stroke="#ea9a74" stroke-width="2.2" fill="none" opacity="0.6">
<path d="M360 290 Q430 275 500 255 Q560 240 636 245"/>
<path d="M400 300 Q470 300 519 253"/>
<path d="M519 253 Q540 280 514 301"/>
<path d="M514 301 Q470 300 430 322"/>
<path d="M514 301 Q560 290 610 270"/>
<path d="M519 253 Q500 230 502 196"/>
<path d="M514 301 Q520 330 490 350"/>
<path d="M450 240 Q480 260 519 253"/>
<path d="M334 305 L476 360"/><path d="M334 311 L476 366"/>
<path d="M490 358 L640 262"/><path d="M492 366 L645 270"/>
<path d="M655 250 L795 305"/>
</g>
<g clip-path="url(#cTop)" filter="url(#blur4)">
<ellipse cx="520" cy="215" rx="50" ry="12" fill="#f0a078" opacity="0.7"/>
<ellipse cx="610" cy="248" rx="40" ry="10" fill="#f0a078" opacity="0.6"/>
<ellipse cx="500" cy="275" rx="90" ry="10" transform="rotate(-5 500 275)" fill="#fddcc6" opacity="0.7"/>
<ellipse cx="430" cy="300" rx="60" ry="9" transform="rotate(8 430 300)" fill="#fddcc6" opacity="0.6"/>
<ellipse cx="545" cy="320" rx="45" ry="10" transform="rotate(-25 545 320)" fill="#fcd6be" opacity="0.6"/>
<ellipse cx="400" cy="262" rx="50" ry="9" transform="rotate(-25 400 262)" fill="#f2a880" opacity="0.5"/>
</g>
<g stroke="#fde2d0" stroke-width="3" fill="none" opacity="0.55" stroke-linecap="round">
<path d="M377 288 Q430 285 478 294"/><path d="M472 253 Q510 252 551 262"/><path d="M525 310 Q560 300 600 290"/><path d="M530 330 Q520 300 540 280"/><path d="M420 250 Q450 240 490 232"/>
</g>
<circle cx="519" cy="253" r="2" fill="#c86a4a"/>
<circle cx="514" cy="301" r="2.2" fill="#c86a4a"/>
<!-- white line -->
<path d="M331 321 L371 322 L392 330 L414 340 L440 355 L476 372 M488 378 L547 348 L609 310 L653 278 L702 301 L749 313 L792 321" fill="none" stroke="#ffffff" stroke-width="3.5"/>
<!-- sebaceous glands -->
<path d="M416.0 445.0 C418.0 439.0 420.0 433.5 424.0 430.0 C428.0 426.5 434.3 424.7 440.0 424.0 C445.7 423.3 453.0 424.0 458.0 426.0 C463.0 428.0 467.3 430.3 470.0 436.0 C472.7 441.7 473.5 451.0 474.0 460.0 C474.5 469.0 474.0 482.3 473.0 490.0 C472.0 497.7 471.5 502.8 468.0 506.0 C464.5 509.2 457.3 509.5 452.0 509.0 C446.7 508.5 440.0 505.8 436.0 503.0 C432.0 500.2 431.0 495.5 428.0 492.0 C425.0 488.5 420.7 486.3 418.0 482.0 C415.3 477.7 412.3 472.2 412.0 466.0 C411.7 459.8 414.0 451.0 416.0 445.0 Z" fill="#aa80bf" stroke="#8e64a8" stroke-width="1.2"/>
<path d="M508.0 472.0 C509.8 466.2 514.0 464.5 518.0 463.0 C522.0 461.5 528.0 461.2 532.0 463.0 C536.0 464.8 539.8 468.8 542.0 474.0 C544.2 479.2 545.0 487.3 545.0 494.0 C545.0 500.7 543.8 508.5 542.0 514.0 C540.2 519.5 537.7 524.7 534.0 527.0 C530.3 529.3 523.8 529.5 520.0 528.0 C516.2 526.5 513.2 523.0 511.0 518.0 C508.8 513.0 507.5 505.7 507.0 498.0 C506.5 490.3 506.2 477.8 508.0 472.0 Z" fill="#aa80bf" stroke="#8e64a8" stroke-width="1.2"/>
<ellipse cx="444.8" cy="492.9" rx="1.2" ry="2.7" fill="#cfb2e0" opacity="0.7"/>
<ellipse cx="446.3" cy="494.0" rx="2.1" ry="2.1" fill="#cfb2e0" opacity="0.7"/>
<ellipse cx="465.8" cy="459.5" rx="1.7" ry="2.4" fill="#cfb2e0" opacity="0.7"/>
<ellipse cx="430.6" cy="454.3" rx="2.2" ry="2.1" fill="#cfb2e0" opacity="0.7"/>
<ellipse cx="467.9" cy="462.4" rx="1.0" ry="1.9" fill="#cfb2e0" opacity="0.7"/>
<ellipse cx="420.8" cy="470.8" rx="1.2" ry="2.4" fill="#cfb2e0" opacity="0.7"/>
<ellipse cx="428.5" cy="491.0" rx="2.1" ry="2.6" fill="#cfb2e0" opacity="0.7"/>
<ellipse cx="451.9" cy="497.1" rx="1.5" ry="2.8" fill="#cfb2e0" opacity="0.7"/>
<ellipse cx="419.7" cy="472.8" rx="2.2" ry="2.7" fill="#cfb2e0" opacity="0.7"/>
<ellipse cx="454.8" cy="435.5" rx="1.7" ry="1.8" fill="#cfb2e0" opacity="0.7"/>
<ellipse cx="461.6" cy="463.8" rx="1.0" ry="2.2" fill="#cfb2e0" opacity="0.7"/>
<ellipse cx="434.0" cy="474.7" rx="2.2" ry="1.7" fill="#cfb2e0" opacity="0.7"/>
<ellipse cx="459.9" cy="450.0" rx="1.2" ry="2.0" fill="#cfb2e0" opacity="0.7"/>
<ellipse cx="435.5" cy="470.0" rx="1.9" ry="2.5" fill="#cfb2e0" opacity="0.7"/>
<ellipse cx="467.5" cy="462.2" rx="1.9" ry="3.0" fill="#cfb2e0" opacity="0.7"/>
<ellipse cx="463.0" cy="453.3" rx="1.6" ry="2.3" fill="#cfb2e0" opacity="0.7"/>
<ellipse cx="453.8" cy="432.3" rx="2.0" ry="2.8" fill="#cfb2e0" opacity="0.7"/>
<ellipse cx="460.6" cy="470.2" rx="1.1" ry="2.4" fill="#cfb2e0" opacity="0.7"/>
<ellipse cx="426.9" cy="452.3" rx="2.0" ry="1.8" fill="#cfb2e0" opacity="0.7"/>
<ellipse cx="441.4" cy="437.2" rx="1.3" ry="3.0" fill="#cfb2e0" opacity="0.7"/>
<ellipse cx="460.7" cy="474.6" rx="1.6" ry="2.4" fill="#cfb2e0" opacity="0.7"/>
<ellipse cx="463.2" cy="462.8" rx="2.1" ry="1.9" fill="#cfb2e0" opacity="0.7"/>
<ellipse cx="434.1" cy="467.7" rx="1.8" ry="2.1" fill="#cfb2e0" opacity="0.7"/>
<ellipse cx="445.9" cy="453.6" rx="1.6" ry="2.9" fill="#cfb2e0" opacity="0.7"/>
<ellipse cx="465.1" cy="468.2" rx="1.8" ry="2.6" fill="#cfb2e0" opacity="0.7"/>
<ellipse cx="426.8" cy="456.5" rx="2.2" ry="1.9" fill="#cfb2e0" opacity="0.7"/>
<ellipse cx="437.9" cy="436.2" rx="1.9" ry="2.2" fill="#cfb2e0" opacity="0.7"/>
<ellipse cx="466.8" cy="469.5" rx="1.3" ry="2.7" fill="#cfb2e0" opacity="0.7"/>
<ellipse cx="466.8" cy="463.3" rx="1.5" ry="2.8" fill="#cfb2e0" opacity="0.7"/>
<ellipse cx="432.9" cy="480.1" rx="1.7" ry="2.5" fill="#cfb2e0" opacity="0.7"/>
<ellipse cx="436.4" cy="440.0" rx="1.5" ry="2.6" fill="#cfb2e0" opacity="0.7"/>
<ellipse cx="434.9" cy="492.4" rx="1.0" ry="1.7" fill="#cfb2e0" opacity="0.7"/>
<ellipse cx="452.1" cy="452.9" rx="1.5" ry="1.6" fill="#cfb2e0" opacity="0.7"/>
<ellipse cx="445.4" cy="444.3" rx="1.1" ry="1.9" fill="#cfb2e0" opacity="0.7"/>
<ellipse cx="464.5" cy="452.0" rx="1.0" ry="2.9" fill="#cfb2e0" opacity="0.7"/>
<ellipse cx="460.3" cy="477.6" rx="1.6" ry="2.7" fill="#cfb2e0" opacity="0.7"/>
<ellipse cx="458.9" cy="492.8" rx="1.3" ry="2.6" fill="#cfb2e0" opacity="0.7"/>
<ellipse cx="461.9" cy="453.1" rx="1.0" ry="2.5" fill="#cfb2e0" opacity="0.7"/>
<ellipse cx="423.6" cy="478.9" rx="1.9" ry="1.7" fill="#cfb2e0" opacity="0.7"/>
<ellipse cx="425.0" cy="453.4" rx="2.1" ry="2.4" fill="#cfb2e0" opacity="0.7"/>
<ellipse cx="426.9" cy="444.0" rx="1.2" ry="2.8" fill="#cfb2e0" opacity="0.7"/>
<ellipse cx="425.9" cy="451.2" rx="1.2" ry="2.3" fill="#cfb2e0" opacity="0.7"/>
<ellipse cx="434.1" cy="475.3" rx="2.1" ry="2.8" fill="#cfb2e0" opacity="0.7"/>
<ellipse cx="437.1" cy="468.7" rx="2.2" ry="1.7" fill="#cfb2e0" opacity="0.7"/>
<ellipse cx="424.5" cy="464.8" rx="2.0" ry="2.5" fill="#cfb2e0" opacity="0.7"/>
<ellipse cx="529.7" cy="495.1" rx="1.9" ry="2.2" fill="#cfb2e0" opacity="0.7"/>
<ellipse cx="535.5" cy="489.6" rx="2.1" ry="1.7" fill="#cfb2e0" opacity="0.7"/>
<ellipse cx="536.3" cy="495.4" rx="1.2" ry="2.0" fill="#cfb2e0" opacity="0.7"/>
<ellipse cx="524.0" cy="492.2" rx="1.5" ry="1.5" fill="#cfb2e0" opacity="0.7"/>
<ellipse cx="532.0" cy="500.9" rx="1.3" ry="1.9" fill="#cfb2e0" opacity="0.7"/>
<ellipse cx="527.8" cy="478.2" rx="2.0" ry="2.8" fill="#cfb2e0" opacity="0.7"/>
<ellipse cx="538.3" cy="479.3" rx="1.7" ry="2.5" fill="#cfb2e0" opacity="0.7"/>
<ellipse cx="534.7" cy="482.0" rx="1.2" ry="2.3" fill="#cfb2e0" opacity="0.7"/>
<ellipse cx="519.3" cy="493.8" rx="1.1" ry="1.8" fill="#cfb2e0" opacity="0.7"/>
<ellipse cx="521.3" cy="472.1" rx="1.8" ry="2.1" fill="#cfb2e0" opacity="0.7"/>
<ellipse cx="527.0" cy="496.3" rx="1.8" ry="2.3" fill="#cfb2e0" opacity="0.7"/>
<ellipse cx="519.6" cy="499.1" rx="1.1" ry="1.8" fill="#cfb2e0" opacity="0.7"/>
<ellipse cx="534.6" cy="511.7" rx="1.4" ry="2.3" fill="#cfb2e0" opacity="0.7"/>
<ellipse cx="515.3" cy="504.9" rx="1.9" ry="2.7" fill="#cfb2e0" opacity="0.7"/>
<ellipse cx="535.2" cy="518.2" rx="2.0" ry="2.7" fill="#cfb2e0" opacity="0.7"/>
<ellipse cx="511.1" cy="503.9" rx="2.0" ry="1.9" fill="#cfb2e0" opacity="0.7"/>
<ellipse cx="520.3" cy="472.2" rx="1.9" ry="2.8" fill="#cfb2e0" opacity="0.7"/>
<ellipse cx="513.1" cy="491.8" rx="1.1" ry="2.5" fill="#cfb2e0" opacity="0.7"/>
<ellipse cx="534.3" cy="514.9" rx="2.1" ry="2.1" fill="#cfb2e0" opacity="0.7"/>
<ellipse cx="529.0" cy="498.5" rx="1.6" ry="1.7" fill="#cfb2e0" opacity="0.7"/>
<ellipse cx="525.1" cy="474.2" rx="1.6" ry="2.5" fill="#cfb2e0" opacity="0.7"/>
<ellipse cx="532.3" cy="511.4" rx="1.1" ry="2.3" fill="#cfb2e0" opacity="0.7"/>
<ellipse cx="527.7" cy="485.4" rx="1.8" ry="3.0" fill="#cfb2e0" opacity="0.7"/>
<ellipse cx="522.7" cy="507.4" rx="1.3" ry="2.7" fill="#cfb2e0" opacity="0.7"/>
<ellipse cx="538.3" cy="508.0" rx="1.3" ry="2.6" fill="#cfb2e0" opacity="0.7"/>
<!-- arrector pili -->
<path d="M329.0 402.0 C335.2 404.5 353.0 406.3 366.0 417.0 C379.0 427.7 394.7 451.7 407.0 466.0 C419.3 480.3 430.2 493.3 440.0 503.0 C449.8 512.7 459.5 512.3 466.0 524.0 C472.5 535.7 476.8 564.8 479.0 573.0 L448 544 L417 519 L393 487 L356 437 L329 427 Z" fill="#f0321a"/>
<g stroke="#c82010" stroke-width="1.5" fill="none" opacity="0.7"><path d="M335 410 L450 530"/><path d="M335 420 L440 535"/></g>
<!-- thin vessels: left face network -->
<path d="M332.0 404.0 C335.0 403.7 342.8 402.0 350.0 402.0 C357.2 402.0 366.7 403.3 375.0 404.0 C383.3 404.7 390.8 405.0 400.0 406.0 C409.2 407.0 420.8 408.3 430.0 410.0 C439.2 411.7 448.3 414.3 455.0 416.0 C461.7 417.7 467.5 419.3 470.0 420.0" fill="none" stroke="#cc2a2a" stroke-width="3" stroke-linecap="round" stroke-linejoin="round" />
<path d="M398.0 406.0 C398.3 410.0 400.0 421.0 400.0 430.0 C400.0 439.0 398.3 455.0 398.0 460.0" fill="none" stroke="#cc2a2a" stroke-width="2.5" stroke-linecap="round" stroke-linejoin="round" />
<path d="M338.0 398.0 C339.7 397.0 345.3 395.3 348.0 392.0 C350.7 388.7 351.7 382.5 354.0 378.0 C356.3 373.5 359.2 367.0 362.0 365.0 C364.8 363.0 369.8 363.3 371.0 366.0 C372.2 368.7 371.0 376.7 369.0 381.0 C367.0 385.3 359.2 389.0 359.0 392.0 C358.8 395.0 362.5 398.2 368.0 399.0 C373.5 399.8 384.7 398.5 392.0 397.0 C399.3 395.5 406.0 392.0 412.0 390.0 C418.0 388.0 424.7 384.7 428.0 385.0 C431.3 385.3 429.0 389.2 432.0 392.0 C435.0 394.8 441.7 398.7 446.0 402.0 C450.3 405.3 454.3 409.2 458.0 412.0 C461.7 414.8 466.3 417.8 468.0 419.0" fill="none" stroke="#1e5068" stroke-width="4" stroke-linecap="round" stroke-linejoin="round" />
<path d="M365.0 400.0 C367.5 403.3 375.5 413.3 380.0 420.0 C384.5 426.7 389.2 433.3 392.0 440.0 C394.8 446.7 395.6 452.2 396.6 460.0 C397.6 467.8 397.3 476.3 398.0 487.0 C398.7 497.7 399.4 515.7 401.0 524.0 C402.6 532.3 404.1 531.7 407.5 537.0 C410.9 542.3 417.1 550.4 421.5 555.6 C425.9 560.8 430.6 562.3 434.0 568.0 C437.4 573.7 440.5 582.8 442.0 590.0 C443.5 597.2 443.3 603.7 443.0 611.0 C442.7 618.3 438.7 626.8 440.0 634.0 C441.3 641.2 446.5 647.7 451.0 654.0 C455.5 660.3 462.0 666.5 467.0 672.0 C472.0 677.5 477.2 686.0 481.0 687.0 C484.8 688.0 486.8 681.2 490.0 678.0 C493.2 674.8 496.8 671.7 500.0 668.0 C503.2 664.3 507.7 662.3 509.0 656.0 C510.3 649.7 508.5 636.3 508.0 630.0 C507.5 623.7 506.3 620.0 506.0 618.0" fill="none" stroke="#265a80" stroke-width="3.4" stroke-linecap="round" stroke-linejoin="round" />
<path d="M481.0 687.0 C478.8 690.7 474.8 704.5 468.0 709.0 C461.2 713.5 448.2 712.8 440.0 714.0 C431.8 715.2 423.7 713.3 419.0 716.0 C414.3 718.7 413.2 727.7 412.0 730.0" fill="none" stroke="#2a5a80" stroke-width="3" stroke-linecap="round" stroke-linejoin="round" />
<path d="M372.0 404.0 C375.0 405.8 384.9 409.0 390.0 415.0 C395.1 421.0 400.4 430.7 402.8 440.0 C405.2 449.3 402.6 458.5 404.4 471.0 C406.2 483.5 410.6 503.5 413.8 515.0 C416.9 526.5 420.1 531.7 423.0 540.0 C425.9 548.3 428.7 555.7 431.0 565.0 C433.3 574.3 435.2 583.5 437.0 596.0 C438.8 608.5 439.5 629.5 441.5 640.0 C443.5 650.5 449.2 650.7 449.0 659.0 C448.8 667.3 440.5 682.7 440.0 690.0 C439.5 697.3 441.0 701.3 446.0 703.0 C451.0 704.7 461.0 701.3 470.0 700.0 C479.0 698.7 495.0 695.8 500.0 695.0" fill="none" stroke="#cc2424" stroke-width="3.2" stroke-linecap="round" stroke-linejoin="round" />
<path d="M446.0 703.0 C445.0 707.5 440.2 721.8 440.0 730.0 C439.8 738.2 444.2 748.3 445.0 752.0" fill="none" stroke="#c82828" stroke-width="2.8" stroke-linecap="round" stroke-linejoin="round" />
<path d="M432.0 395.0 C430.8 399.2 426.5 409.9 425.0 420.0 C423.5 430.1 422.8 444.4 423.0 455.6 C423.2 466.8 426.0 476.1 426.0 487.0 C426.0 497.9 425.0 512.2 423.0 521.0 C421.0 529.8 416.6 533.7 413.8 540.0 C410.9 546.3 406.8 552.0 406.0 558.8 C405.2 565.5 407.7 573.7 409.0 580.6 C410.3 587.5 411.9 590.1 413.8 600.0 C415.6 609.9 417.3 625.2 420.0 640.0 C422.7 654.8 427.3 675.7 430.0 689.0 C432.7 702.3 435.0 714.8 436.0 720.0" fill="none" stroke="#dca86a" stroke-width="4" stroke-linecap="round" stroke-linejoin="round" />
<!-- right face vessel network -->
<path d="M504.0 442.0 C506.5 443.0 513.2 445.3 519.0 448.0 C524.8 450.7 532.3 454.7 539.0 458.0 C545.7 461.3 552.3 464.7 559.0 468.0 C565.7 471.3 572.5 474.7 579.0 478.0 C585.5 481.3 591.5 485.3 598.0 488.0 C604.5 490.7 611.3 491.7 618.0 494.0 C624.7 496.3 632.0 499.7 638.0 502.0 C644.0 504.3 651.3 507.0 654.0 508.0" fill="none" stroke="#c82a2a" stroke-width="3" stroke-linecap="round" stroke-linejoin="round" />
<path d="M504.0 427.0 C505.0 425.8 507.3 420.3 510.0 420.0 C512.7 419.7 518.0 421.7 520.0 425.0 C522.0 428.3 523.0 436.5 522.0 440.0 C521.0 443.5 512.7 444.0 514.0 446.0 C515.3 448.0 524.2 451.0 530.0 452.0 C535.8 453.0 543.5 454.0 549.0 452.0 C554.5 450.0 559.7 441.3 563.0 440.0 C566.3 438.7 565.7 438.7 569.0 444.0 C572.3 449.3 578.2 465.7 583.0 472.0 C587.8 478.3 592.2 480.0 598.0 482.0 C603.8 484.0 613.7 485.7 618.0 484.0 C622.3 482.3 622.0 474.7 624.0 472.0 C626.0 469.3 628.3 466.3 630.0 468.0 C631.7 469.7 630.7 477.0 634.0 482.0 C637.3 487.0 647.3 495.3 650.0 498.0" fill="none" stroke="#24628c" stroke-width="3" stroke-linecap="round" stroke-linejoin="round" />
<path d="M520.0 448.0 C521.3 446.7 524.7 440.3 528.0 440.0 C531.3 439.7 538.3 443.0 540.0 446.0 C541.7 449.0 538.3 456.0 538.0 458.0" fill="none" stroke="#c82a2a" stroke-width="2.5" stroke-linecap="round" stroke-linejoin="round" />
<path d="M700.0 447.0 C698.3 452.5 692.2 471.5 690.0 480.0 C687.8 488.5 688.7 488.0 687.0 498.0 C685.3 508.0 682.5 523.0 680.0 540.0 C677.5 557.0 674.0 580.0 672.0 600.0 C670.0 620.0 665.8 641.7 668.0 660.0 C670.2 678.3 677.2 695.8 685.0 710.0 C692.8 724.2 710.0 739.2 715.0 745.0" fill="none" stroke="#2a5a80" stroke-width="3" stroke-linecap="round" stroke-linejoin="round" />
<path d="M677.0 461.0 C675.5 467.5 670.2 486.8 668.0 500.0 C665.8 513.2 665.3 523.3 664.0 540.0 C662.7 556.7 660.3 580.0 660.0 600.0 C659.7 620.0 659.0 641.7 662.0 660.0 C665.0 678.3 673.3 692.5 678.0 710.0 C682.7 727.5 688.0 755.8 690.0 765.0" fill="none" stroke="#c02828" stroke-width="3" stroke-linecap="round" stroke-linejoin="round" />
<!-- hair shaft -->
<path d="M429.2 20.0 C431.5 33.3 439.6 80.0 443.0 100.0 C446.4 120.0 447.2 123.3 449.5 140.0 C451.8 156.7 454.5 181.7 456.5 200.0 C458.5 218.3 460.3 233.3 461.8 250.0 C463.2 266.7 463.7 281.7 465.2 300.0 C466.8 318.3 469.2 340.0 471.0 360.0 C472.8 380.0 473.4 396.7 475.8 420.0 C478.1 443.3 482.2 473.3 485.0 500.0 C487.8 526.7 491.2 566.7 492.5 580.0 L507.5 580.0 C506.1 566.7 502.2 526.7 499.0 500.0 C495.8 473.3 490.9 443.3 488.2 420.0 C485.6 396.7 484.8 380.0 483.0 360.0 C481.2 340.0 479.2 318.3 477.8 300.0 C476.3 281.7 476.0 266.7 474.2 250.0 C472.5 233.3 470.0 218.3 467.5 200.0 C465.0 181.7 461.9 156.7 459.5 140.0 C457.1 123.3 456.5 120.0 453.0 100.0 C449.5 80.0 441.1 33.3 438.8 20.0 Z" fill="url(#hairg)"/>
<ellipse cx="434.2" cy="20.5" rx="4.9" ry="4" fill="#f26424"/>
<!-- hair bulb -->
<path d="M493.0 570.0 C496.0 567.3 504.7 568.3 508.0 572.0 C511.3 575.7 510.7 586.3 513.0 592.0 C515.3 597.7 519.3 601.0 522.0 606.0 C524.7 611.0 527.7 616.0 529.0 622.0 C530.3 628.0 530.8 636.7 530.0 642.0 C529.2 647.3 526.3 652.3 524.0 654.0 C521.7 655.7 518.0 654.7 516.0 652.0 C514.0 649.3 512.7 643.3 512.0 638.0 C511.3 632.7 513.0 624.7 512.0 620.0 C511.0 615.3 508.2 611.0 506.0 610.0 C503.8 609.0 500.8 610.7 499.0 614.0 C497.2 617.3 495.8 624.3 495.0 630.0 C494.2 635.7 495.2 643.7 494.0 648.0 C492.8 652.3 490.2 656.0 488.0 656.0 C485.8 656.0 482.3 653.0 481.0 648.0 C479.7 643.0 479.5 633.3 480.0 626.0 C480.5 618.7 482.3 610.3 484.0 604.0 C485.7 597.7 488.5 593.7 490.0 588.0 C491.5 582.3 490.0 572.7 493.0 570.0 Z" fill="#ec521e" stroke="#cc3c10" stroke-width="1"/>
<path d="M501.0 612.0 C502.8 609.3 506.3 609.3 508.0 612.0 C509.7 614.7 510.7 621.7 511.0 628.0 C511.3 634.3 511.2 645.0 510.0 650.0 C508.8 655.0 506.0 658.3 504.0 658.0 C502.0 657.7 499.2 653.0 498.0 648.0 C496.8 643.0 496.5 634.0 497.0 628.0 C497.5 622.0 499.2 614.7 501.0 612.0 Z" fill="#f4d4dc"/>
<path d="M505.0 660.0 C505.3 656.7 507.2 645.8 507.0 640.0 C506.8 634.2 503.8 629.2 504.0 625.0 C504.2 620.8 507.3 616.7 508.0 615.0" fill="none" stroke="#3a6a90" stroke-width="2" stroke-linecap="round" stroke-linejoin="round" />
<!-- sweat ducts -->
<path d="M578.0 313.0 C578.7 317.5 582.5 326.5 582.0 340.0 C581.5 353.5 575.7 379.8 575.0 394.0 C574.3 408.2 578.5 410.7 578.0 425.0 C577.5 439.3 574.0 457.5 572.0 480.0 C570.0 502.5 564.7 540.8 566.0 560.0 C567.3 579.2 578.7 584.2 580.0 595.0 C581.3 605.8 577.3 613.3 574.0 625.0 C570.7 636.7 565.7 653.8 560.0 665.0 C554.3 676.2 545.0 685.3 540.0 692.0 C535.0 698.7 531.7 702.8 530.0 705.0" fill="none" stroke="#e8703a" stroke-width="12" stroke-linecap="round" stroke-linejoin="round" /><path d="M578.0 313.0 C578.7 317.5 582.5 326.5 582.0 340.0 C581.5 353.5 575.7 379.8 575.0 394.0 C574.3 408.2 578.5 410.7 578.0 425.0 C577.5 439.3 574.0 457.5 572.0 480.0 C570.0 502.5 564.7 540.8 566.0 560.0 C567.3 579.2 578.7 584.2 580.0 595.0 C581.3 605.8 577.3 613.3 574.0 625.0 C570.7 636.7 565.7 653.8 560.0 665.0 C554.3 676.2 545.0 685.3 540.0 692.0 C535.0 698.7 531.7 702.8 530.0 705.0" fill="none" stroke="#f7a878" stroke-width="5" stroke-linecap="round" stroke-linejoin="round" />
<path d="M736.0 332.0 C733.5 337.3 722.5 353.5 721.0 364.0 C719.5 374.5 727.0 382.2 727.0 395.0 C727.0 407.8 720.8 429.7 721.0 441.0 C721.2 452.3 729.2 450.2 728.0 463.0 C726.8 475.8 714.7 503.8 714.0 518.0 C713.3 532.2 723.7 536.0 724.0 548.0 C724.3 560.0 718.0 580.5 716.0 590.0 C714.0 599.5 712.7 602.5 712.0 605.0" fill="none" stroke="#e8703a" stroke-width="13" stroke-linecap="round" stroke-linejoin="round" /><path d="M736.0 332.0 C733.5 337.3 722.5 353.5 721.0 364.0 C719.5 374.5 727.0 382.2 727.0 395.0 C727.0 407.8 720.8 429.7 721.0 441.0 C721.2 452.3 729.2 450.2 728.0 463.0 C726.8 475.8 714.7 503.8 714.0 518.0 C713.3 532.2 723.7 536.0 724.0 548.0 C724.3 560.0 718.0 580.5 716.0 590.0 C714.0 599.5 712.7 602.5 712.0 605.0" fill="none" stroke="#f7a878" stroke-width="5" stroke-linecap="round" stroke-linejoin="round" />
<rect x="719" y="286" width="14" height="48" rx="6" fill="#ec7a40"/>
<rect x="723" y="292" width="6" height="36" rx="3" fill="#f8b890"/>
<!-- sweat gland coils -->
<path d="M540.0 684.0 C545.8 682.7 553.3 686.5 560.0 690.0 C566.7 693.5 576.0 697.5 580.0 705.0 C584.0 712.5 585.7 726.5 584.0 735.0 C582.3 743.5 577.3 752.3 570.0 756.0 C562.7 759.7 550.0 757.7 540.0 757.0 C530.0 756.3 517.2 755.7 510.0 752.0 C502.8 748.3 497.8 742.0 497.0 735.0 C496.2 728.0 500.3 716.2 505.0 710.0 C509.7 703.8 519.2 702.3 525.0 698.0 C530.8 693.7 534.2 685.3 540.0 684.0 Z" fill="#ec6a3a"/>
<path d="M535.0 700.0 C537.5 699.0 544.8 694.0 550.0 694.0 C555.2 694.0 562.3 696.7 566.0 700.0 C569.7 703.3 573.0 710.0 572.0 714.0 C571.0 718.0 564.5 723.7 560.0 724.0 C555.5 724.3 548.3 720.0 545.0 716.0 C541.7 712.0 540.8 702.7 540.0 700.0" fill="none" stroke="#e4521e" stroke-width="12" stroke-linecap="round" stroke-linejoin="round" />
<path d="M535.0 700.0 C537.5 699.0 544.8 694.0 550.0 694.0 C555.2 694.0 562.3 696.7 566.0 700.0 C569.7 703.3 573.0 710.0 572.0 714.0 C571.0 718.0 564.5 723.7 560.0 724.0 C555.5 724.3 548.3 720.0 545.0 716.0 C541.7 712.0 540.8 702.7 540.0 700.0" fill="none" stroke="#fbcaa8" stroke-width="6" stroke-linecap="round" stroke-linejoin="round" />
<path d="M505.0 738.0 C505.8 735.0 506.7 724.3 510.0 720.0 C513.3 715.7 520.0 711.7 525.0 712.0 C530.0 712.3 538.3 717.3 540.0 722.0 C541.7 726.7 538.3 735.7 535.0 740.0 C531.7 744.3 524.5 747.2 520.0 748.0 C515.5 748.8 510.0 745.5 508.0 745.0" fill="none" stroke="#e4521e" stroke-width="12" stroke-linecap="round" stroke-linejoin="round" />
<path d="M505.0 738.0 C505.8 735.0 506.7 724.3 510.0 720.0 C513.3 715.7 520.0 711.7 525.0 712.0 C530.0 712.3 538.3 717.3 540.0 722.0 C541.7 726.7 538.3 735.7 535.0 740.0 C531.7 744.3 524.5 747.2 520.0 748.0 C515.5 748.8 510.0 745.5 508.0 745.0" fill="none" stroke="#fbcaa8" stroke-width="6" stroke-linecap="round" stroke-linejoin="round" />
<path d="M548.0 730.0 C550.3 729.7 557.5 726.7 562.0 728.0 C566.5 729.3 573.3 734.0 575.0 738.0 C576.7 742.0 575.3 749.3 572.0 752.0 C568.7 754.7 559.5 755.2 555.0 754.0 C550.5 752.8 546.7 746.5 545.0 745.0" fill="none" stroke="#e4521e" stroke-width="12" stroke-linecap="round" stroke-linejoin="round" />
<path d="M548.0 730.0 C550.3 729.7 557.5 726.7 562.0 728.0 C566.5 729.3 573.3 734.0 575.0 738.0 C576.7 742.0 575.3 749.3 572.0 752.0 C568.7 754.7 559.5 755.2 555.0 754.0 C550.5 752.8 546.7 746.5 545.0 745.0" fill="none" stroke="#fbcaa8" stroke-width="6" stroke-linecap="round" stroke-linejoin="round" />
<path d="M712.0 590.0 C721.2 589.2 732.8 593.3 740.0 600.0 C747.2 606.7 753.3 619.2 755.0 630.0 C756.7 640.8 754.2 655.3 750.0 665.0 C745.8 674.7 738.3 684.2 730.0 688.0 C721.7 691.8 709.7 690.7 700.0 688.0 C690.3 685.3 677.3 680.0 672.0 672.0 C666.7 664.0 665.8 651.2 668.0 640.0 C670.2 628.8 677.7 613.3 685.0 605.0 C692.3 596.7 702.8 590.8 712.0 590.0 Z" fill="#f2a488"/>
<path d="M712.0 600.0 C710.0 599.3 703.7 595.0 700.0 596.0 C696.3 597.0 691.0 602.0 690.0 606.0 C689.0 610.0 690.3 617.0 694.0 620.0 C697.7 623.0 706.3 625.0 712.0 624.0 C717.7 623.0 725.0 618.0 728.0 614.0 C731.0 610.0 731.7 603.3 730.0 600.0 C728.3 596.7 720.0 595.0 718.0 594.0" fill="none" stroke="#e4521e" stroke-width="12" stroke-linecap="round" stroke-linejoin="round" />
<path d="M712.0 600.0 C710.0 599.3 703.7 595.0 700.0 596.0 C696.3 597.0 691.0 602.0 690.0 606.0 C689.0 610.0 690.3 617.0 694.0 620.0 C697.7 623.0 706.3 625.0 712.0 624.0 C717.7 623.0 725.0 618.0 728.0 614.0 C731.0 610.0 731.7 603.3 730.0 600.0 C728.3 596.7 720.0 595.0 718.0 594.0" fill="none" stroke="#fbcaa8" stroke-width="6" stroke-linecap="round" stroke-linejoin="round" />
<path d="M680.0 628.0 C678.7 630.8 672.0 639.7 672.0 645.0 C672.0 650.3 676.0 658.3 680.0 660.0 C684.0 661.7 692.7 658.3 696.0 655.0 C699.3 651.7 696.3 643.2 700.0 640.0 C703.7 636.8 711.3 636.0 718.0 636.0 C724.7 636.0 735.0 636.8 740.0 640.0 C745.0 643.2 748.3 650.3 748.0 655.0 C747.7 659.7 739.7 665.8 738.0 668.0" fill="none" stroke="#e4521e" stroke-width="12" stroke-linecap="round" stroke-linejoin="round" />
<path d="M680.0 628.0 C678.7 630.8 672.0 639.7 672.0 645.0 C672.0 650.3 676.0 658.3 680.0 660.0 C684.0 661.7 692.7 658.3 696.0 655.0 C699.3 651.7 696.3 643.2 700.0 640.0 C703.7 636.8 711.3 636.0 718.0 636.0 C724.7 636.0 735.0 636.8 740.0 640.0 C745.0 643.2 748.3 650.3 748.0 655.0 C747.7 659.7 739.7 665.8 738.0 668.0" fill="none" stroke="#fbcaa8" stroke-width="6" stroke-linecap="round" stroke-linejoin="round" />
<path d="M690.0 670.0 C692.5 669.0 699.7 664.0 705.0 664.0 C710.3 664.0 718.2 667.0 722.0 670.0 C725.8 673.0 730.0 679.3 728.0 682.0 C726.0 684.7 716.3 685.7 710.0 686.0 C703.7 686.3 694.3 685.7 690.0 684.0 C685.7 682.3 685.0 677.3 684.0 676.0" fill="none" stroke="#e4521e" stroke-width="12" stroke-linecap="round" stroke-linejoin="round" />
<path d="M690.0 670.0 C692.5 669.0 699.7 664.0 705.0 664.0 C710.3 664.0 718.2 667.0 722.0 670.0 C725.8 673.0 730.0 679.3 728.0 682.0 C726.0 684.7 716.3 685.7 710.0 686.0 C703.7 686.3 694.3 685.7 690.0 684.0 C685.7 682.3 685.0 677.3 684.0 676.0" fill="none" stroke="#fbcaa8" stroke-width="6" stroke-linecap="round" stroke-linejoin="round" />
<path d="M728.0 618.0 C730.3 619.2 740.8 621.3 742.0 625.0 C743.2 628.7 739.5 635.8 735.0 640.0 C730.5 644.2 720.0 645.0 715.0 650.0 C710.0 655.0 706.7 666.7 705.0 670.0" fill="none" stroke="#e4521e" stroke-width="11" stroke-linecap="round" stroke-linejoin="round" />
<path d="M728.0 618.0 C730.3 619.2 740.8 621.3 742.0 625.0 C743.2 628.7 739.5 635.8 735.0 640.0 C730.5 644.2 720.0 645.0 715.0 650.0 C710.0 655.0 706.7 666.7 705.0 670.0" fill="none" stroke="#fbcaa8" stroke-width="5" stroke-linecap="round" stroke-linejoin="round" />
<!-- vessels left -->
<path d="M345.0 836.0 C354.2 826.7 381.7 798.0 400.0 780.0 C418.3 762.0 445.8 736.7 455.0 728.0" fill="none" stroke="#e2c48e" stroke-width="5" stroke-linecap="round" stroke-linejoin="round" />
<path d="M343 812 C350 795 360 778 375 768 C390 758 405 748 415 740" fill="none" stroke="url(#veing)" stroke-width="23" stroke-linecap="round"/>
<ellipse cx="343" cy="812" rx="9" ry="10" fill="#0f2f4a"/>
<path d="M359 855 L450 756" fill="none" stroke="#ec1212" stroke-width="17" stroke-linecap="round"/>
<ellipse cx="359" cy="855" rx="6" ry="6" fill="#8a1010"/>
<!-- vessels right -->
<path d="M716 750 L759 789" fill="none" stroke="url(#veing)" stroke-width="23" stroke-linecap="round"/>
<ellipse cx="760" cy="790" rx="8" ry="9" fill="#0f2f4a"/>
<path d="M687 774 L726 805" fill="none" stroke="#ec1212" stroke-width="19" stroke-linecap="round"/>
<!-- pacinian -->
<path d="M597.0 718.0 C597.0 723.3 598.7 743.8 597.0 750.0 C595.3 756.2 588.5 746.7 587.0 755.0 C585.5 763.3 586.8 784.2 588.0 800.0 C589.2 815.8 592.0 836.7 594.0 850.0 C596.0 863.3 598.5 870.8 600.0 880.0 C601.5 889.2 602.5 900.8 603.0 905.0" fill="none" stroke="#cdd694" stroke-width="8" stroke-linecap="round" stroke-linejoin="round" />
<ellipse cx="597.5" cy="682" rx="24.5" ry="38.5" fill="url(#pacg)" stroke="#a8b878" stroke-width="1.2"/>
<ellipse cx="604.5" cy="682.9" rx="1.5" ry="2.5" fill="#7e9a48" opacity="0.7"/>
<ellipse cx="602.0" cy="691.0" rx="1.3" ry="2.6" fill="#7e9a48" opacity="0.7"/>
<ellipse cx="608.4" cy="706.1" rx="1.8" ry="1.7" fill="#7e9a48" opacity="0.7"/>
<ellipse cx="583.8" cy="676.8" rx="1.5" ry="3.0" fill="#7e9a48" opacity="0.7"/>
<ellipse cx="600.0" cy="684.8" rx="2.1" ry="2.1" fill="#7e9a48" opacity="0.7"/>
<ellipse cx="601.3" cy="701.1" rx="1.4" ry="2.9" fill="#7e9a48" opacity="0.7"/>
<ellipse cx="599.9" cy="697.8" rx="1.7" ry="2.3" fill="#7e9a48" opacity="0.7"/>
<ellipse cx="615.9" cy="672.8" rx="1.4" ry="1.8" fill="#7e9a48" opacity="0.7"/>
<ellipse cx="608.3" cy="652.2" rx="1.0" ry="2.6" fill="#7e9a48" opacity="0.7"/>
<ellipse cx="609.0" cy="661.2" rx="1.3" ry="2.7" fill="#7e9a48" opacity="0.7"/>
<ellipse cx="596.3" cy="666.7" rx="1.8" ry="1.8" fill="#7e9a48" opacity="0.7"/>
<ellipse cx="609.3" cy="687.2" rx="1.4" ry="2.1" fill="#7e9a48" opacity="0.7"/>
<ellipse cx="585.9" cy="656.5" rx="2.2" ry="3.0" fill="#7e9a48" opacity="0.7"/>
<ellipse cx="616.1" cy="680.7" rx="1.4" ry="1.8" fill="#7e9a48" opacity="0.7"/>
<ellipse cx="586.4" cy="663.9" rx="1.8" ry="1.6" fill="#7e9a48" opacity="0.7"/>
<ellipse cx="604.6" cy="713.4" rx="1.7" ry="2.5" fill="#7e9a48" opacity="0.7"/>
<ellipse cx="608.4" cy="694.5" rx="2.1" ry="2.5" fill="#7e9a48" opacity="0.7"/>
<ellipse cx="606.8" cy="681.2" rx="1.5" ry="2.7" fill="#7e9a48" opacity="0.7"/>
<ellipse cx="580.0" cy="692.6" rx="1.7" ry="1.7" fill="#7e9a48" opacity="0.7"/>
<ellipse cx="614.4" cy="702.2" rx="1.1" ry="1.8" fill="#7e9a48" opacity="0.7"/>
<ellipse cx="588.5" cy="707.4" rx="2.0" ry="2.2" fill="#7e9a48" opacity="0.7"/>
<ellipse cx="578.9" cy="682.4" rx="1.3" ry="2.1" fill="#7e9a48" opacity="0.7"/>
<ellipse cx="584.8" cy="663.8" rx="1.0" ry="1.7" fill="#7e9a48" opacity="0.7"/>
<ellipse cx="609.1" cy="704.7" rx="1.8" ry="3.0" fill="#7e9a48" opacity="0.7"/>
<ellipse cx="598.7" cy="664.4" rx="1.9" ry="3.0" fill="#7e9a48" opacity="0.7"/>
<ellipse cx="596.2" cy="685.0" rx="1.5" ry="1.9" fill="#7e9a48" opacity="0.7"/>
<ellipse cx="599.5" cy="688.6" rx="1.1" ry="2.8" fill="#7e9a48" opacity="0.7"/>
<ellipse cx="613.1" cy="690.5" rx="1.2" ry="1.8" fill="#7e9a48" opacity="0.7"/>
<ellipse cx="602.4" cy="664.7" rx="1.2" ry="2.2" fill="#7e9a48" opacity="0.7"/>
<ellipse cx="592.3" cy="658.2" rx="2.0" ry="2.1" fill="#7e9a48" opacity="0.7"/>
<ellipse cx="579.9" cy="677.5" rx="1.6" ry="2.6" fill="#7e9a48" opacity="0.7"/>
<ellipse cx="590.0" cy="684.6" rx="1.1" ry="2.7" fill="#7e9a48" opacity="0.7"/>
<ellipse cx="596.8" cy="648.0" rx="1.8" ry="2.4" fill="#7e9a48" opacity="0.7"/>
<ellipse cx="607.3" cy="709.9" rx="1.1" ry="2.1" fill="#7e9a48" opacity="0.7"/>
<ellipse cx="605.7" cy="698.7" rx="1.4" ry="2.1" fill="#7e9a48" opacity="0.7"/>
<ellipse cx="593.8" cy="657.0" rx="1.3" ry="2.7" fill="#7e9a48" opacity="0.7"/>
<ellipse cx="595.7" cy="650.3" rx="1.0" ry="2.4" fill="#7e9a48" opacity="0.7"/>
<ellipse cx="606.0" cy="671.1" rx="1.2" ry="2.7" fill="#7e9a48" opacity="0.7"/>
<ellipse cx="588.8" cy="698.7" rx="2.0" ry="2.1" fill="#7e9a48" opacity="0.7"/>
<ellipse cx="600.6" cy="697.4" rx="1.4" ry="2.5" fill="#7e9a48" opacity="0.7"/>
<path d="M598 655 L598 715" stroke="#6a8040" stroke-width="1.5"/>
<!-- meissner -->
<path d="M763.0 420.0 C761.7 423.3 754.3 430.3 755.0 440.0 C755.7 449.7 764.3 465.0 767.0 478.0 C769.7 491.0 771.5 501.0 771.0 518.0 C770.5 535.0 765.2 569.7 764.0 580.0" fill="none" stroke="#e2a868" stroke-width="5" stroke-linecap="round" stroke-linejoin="round" />
<path d="M763.0 374.0 C766.0 373.8 769.7 379.3 772.0 384.0 C774.3 388.7 776.8 396.0 777.0 402.0 C777.2 408.0 775.2 415.0 773.0 420.0 C770.8 425.0 767.2 432.0 764.0 432.0 C760.8 432.0 756.3 425.0 754.0 420.0 C751.7 415.0 750.0 407.8 750.0 402.0 C750.0 396.2 751.8 389.7 754.0 385.0 C756.2 380.3 760.0 374.2 763.0 374.0 Z" fill="url(#meig)"/>
<ellipse cx="759.1" cy="410.8" rx="1.2" ry="2.9" fill="#a06010" opacity="0.7"/>
<ellipse cx="754.9" cy="393.6" rx="1.7" ry="2.1" fill="#a06010" opacity="0.7"/>
<ellipse cx="762.0" cy="384.9" rx="1.9" ry="2.5" fill="#a06010" opacity="0.7"/>
<ellipse cx="766.9" cy="389.5" rx="1.2" ry="1.7" fill="#a06010" opacity="0.7"/>
<ellipse cx="762.2" cy="393.3" rx="1.8" ry="2.4" fill="#a06010" opacity="0.7"/>
<ellipse cx="772.1" cy="410.8" rx="1.0" ry="2.8" fill="#a06010" opacity="0.7"/>
<ellipse cx="765.8" cy="393.6" rx="1.9" ry="2.6" fill="#a06010" opacity="0.7"/>
<ellipse cx="769.4" cy="416.9" rx="1.1" ry="2.9" fill="#a06010" opacity="0.7"/>
<ellipse cx="758.9" cy="381.0" rx="1.1" ry="2.0" fill="#a06010" opacity="0.7"/>
<ellipse cx="756.7" cy="390.2" rx="1.2" ry="2.8" fill="#a06010" opacity="0.7"/>
<ellipse cx="766.4" cy="392.2" rx="1.2" ry="2.5" fill="#a06010" opacity="0.7"/>
<ellipse cx="755.5" cy="413.8" rx="1.6" ry="2.1" fill="#a06010" opacity="0.7"/>
<ellipse cx="767.0" cy="404.2" rx="1.6" ry="2.6" fill="#a06010" opacity="0.7"/>
<ellipse cx="754.5" cy="412.3" rx="1.6" ry="2.8" fill="#a06010" opacity="0.7"/>
<ellipse cx="759.5" cy="391.7" rx="1.2" ry="1.6" fill="#a06010" opacity="0.7"/>
<ellipse cx="772.9" cy="408.5" rx="2.0" ry="2.6" fill="#a06010" opacity="0.7"/>
<ellipse cx="769.9" cy="415.4" rx="1.2" ry="2.8" fill="#a06010" opacity="0.7"/>
<ellipse cx="757.7" cy="385.8" rx="1.7" ry="2.1" fill="#a06010" opacity="0.7"/>
<ellipse cx="769.3" cy="383.8" rx="1.3" ry="2.2" fill="#a06010" opacity="0.7"/>
<ellipse cx="762.1" cy="383.3" rx="1.5" ry="2.2" fill="#a06010" opacity="0.7"/>
<ellipse cx="768.7" cy="400.5" rx="1.3" ry="2.5" fill="#a06010" opacity="0.7"/>
<ellipse cx="761.2" cy="425.4" rx="1.4" ry="2.9" fill="#a06010" opacity="0.7"/>
<ellipse cx="755.5" cy="418.5" rx="1.9" ry="2.6" fill="#a06010" opacity="0.7"/>
<ellipse cx="764.0" cy="412.5" rx="1.0" ry="1.8" fill="#a06010" opacity="0.7"/>
<ellipse cx="761.6" cy="397.7" rx="1.3" ry="2.4" fill="#a06010" opacity="0.7"/>
<ellipse cx="766.5" cy="414.4" rx="1.3" ry="2.5" fill="#a06010" opacity="0.7"/>
<ellipse cx="771.1" cy="419.2" rx="1.7" ry="2.6" fill="#a06010" opacity="0.7"/>
<ellipse cx="755.7" cy="397.5" rx="2.2" ry="2.8" fill="#a06010" opacity="0.7"/>
<ellipse cx="763.8" cy="399.3" rx="1.7" ry="2.9" fill="#a06010" opacity="0.7"/>
<ellipse cx="757.9" cy="389.9" rx="1.8" ry="1.8" fill="#a06010" opacity="0.7"/>
</g>

<g class="l" filter="url(#tb)">
<line x1="370" y1="100" x2="445" y2="100"/>
<line x1="546.8" y1="176" x2="519.7" y2="252.7"/>
<line x1="638.9" y1="217" x2="638.9" y2="432.8"/>
<line x1="770.8" y1="270" x2="756" y2="402"/>
<line x1="308.6" y1="299.2" x2="350" y2="312"/>
<line x1="286.4" y1="323.8" x2="391.4" y2="326.7"/>
<line x1="305.2" y1="401.5" x2="399.3" y2="360.7"/>
<line x1="290.8" y1="425.8" x2="436.8" y2="374.5"/>
<line x1="308.2" y1="462.4" x2="376.9" y2="449.2"/>
<line x1="278.3" y1="514.4" x2="446" y2="476.2"/>
<line x1="205.7" y1="555.4" x2="478.5" y2="525"/>
<line x1="212.5" y1="666.8" x2="496.8" y2="601.3"/>
<line x1="195.8" y1="740.3" x2="432" y2="688.9"/>
<line x1="382.8" y1="909.6" x2="534.4" y2="703.4"/>
<line x1="458.3" y1="965.8" x2="592.8" y2="679.7"/>
<line x1="758" y1="789.7" x2="823.2" y2="789.7"/>
<line x1="726.6" y1="806.4" x2="820" y2="817.9"/>
<line x1="248" y1="815.9" x2="307" y2="815.9"/>

<path d="M95.7 389 H84.7 V440 H95.7 M84.7 414.3 H72" />
<path d="M335 790.7 H307 V876 H381" />
<path d="M797.4 299.8 H811.5 V753 H798.6 M811.5 318.2 H822.3 M811.5 433.1 H823.5 M811.5 639.5 H823.8" />
<path d="M797 340.3 H811.5 M797.8 526 H811.5" style="stroke-width:3.2"/>

</g>
<filter id="tb" x="-2%" y="-2%" width="104%" height="104%"><feGaussianBlur stdDeviation="0.45"/></filter>
<g class="t" filter="url(#tb)">
<text x="250.3" y="108.5" textLength="104.0" lengthAdjust="spacingAndGlyphs">hair shaft</text>
<text x="509.3" y="166.6" textLength="113.5" lengthAdjust="spacingAndGlyphs">sweat pore</text>
<text x="602.3" y="206.6" textLength="143.5" lengthAdjust="spacingAndGlyphs">dermal papilla</text>
<text x="752.3" y="231.5" textLength="216.2" lengthAdjust="spacingAndGlyphs">Meissner’s corpuscle</text>
<text x="752.3" y="257.5" textLength="180.2" lengthAdjust="spacingAndGlyphs">(tactile corpuscle)</text>
<text x="111.2" y="303.4" textLength="188.1" lengthAdjust="spacingAndGlyphs">stratum corneum</text>
<text x="112.8" y="332.5" textLength="150.7" lengthAdjust="spacingAndGlyphs">pigment layer</text>
<text x="32.6" y="377.7" textLength="242.2" lengthAdjust="spacingAndGlyphs">stratum germinativum</text>
<text x="98.2" y="407.0" textLength="182.9" lengthAdjust="spacingAndGlyphs">stratum spinosum</text>
<text x="128.2" y="434.5" textLength="152.9" lengthAdjust="spacingAndGlyphs">stratum basale</text>
<text x="99.3" y="476.6" textLength="194.0" lengthAdjust="spacingAndGlyphs">arrector pili muscle</text>
<text x="82.6" y="523.3" textLength="174.4" lengthAdjust="spacingAndGlyphs">sebaceous gland</text>
<text x="82.6" y="565.0" textLength="108.2" lengthAdjust="spacingAndGlyphs">hair follicle</text>
<text x="61.9" y="674.7" textLength="137.2" lengthAdjust="spacingAndGlyphs">papilla of hair</text>
<text x="76.1" y="752.0" textLength="109.7" lengthAdjust="spacingAndGlyphs">nerve fiber</text>
<text x="123.0" y="808.5" textLength="102.1" lengthAdjust="spacingAndGlyphs">blood and</text>
<text x="86.2" y="835.7" textLength="144.8" lengthAdjust="spacingAndGlyphs">lymph vessels</text>
<text x="309.7" y="934.7" textLength="122.8" lengthAdjust="spacingAndGlyphs">sweat gland</text>
<text x="371.8" y="993.9" textLength="192.3" lengthAdjust="spacingAndGlyphs">Pacinian corpuscle</text>
<text x="833.1" y="328.0" textLength="126.7" lengthAdjust="spacingAndGlyphs">EPIDERMIS</text>
<text x="833.1" y="440.5" textLength="89.9" lengthAdjust="spacingAndGlyphs">DERMIS</text>
<text x="832.6" y="628.5" textLength="116.4" lengthAdjust="spacingAndGlyphs">SUBCUTIS</text>
<text x="832.6" y="657.2" textLength="134.7" lengthAdjust="spacingAndGlyphs">(hypodermis)</text>
<text x="830.1" y="794.7" textLength="41.7" lengthAdjust="spacingAndGlyphs">vein</text>
<text x="821.4" y="827.2" textLength="58.6" lengthAdjust="spacingAndGlyphs">artery</text>
</g>
</svg>
</body></html>
